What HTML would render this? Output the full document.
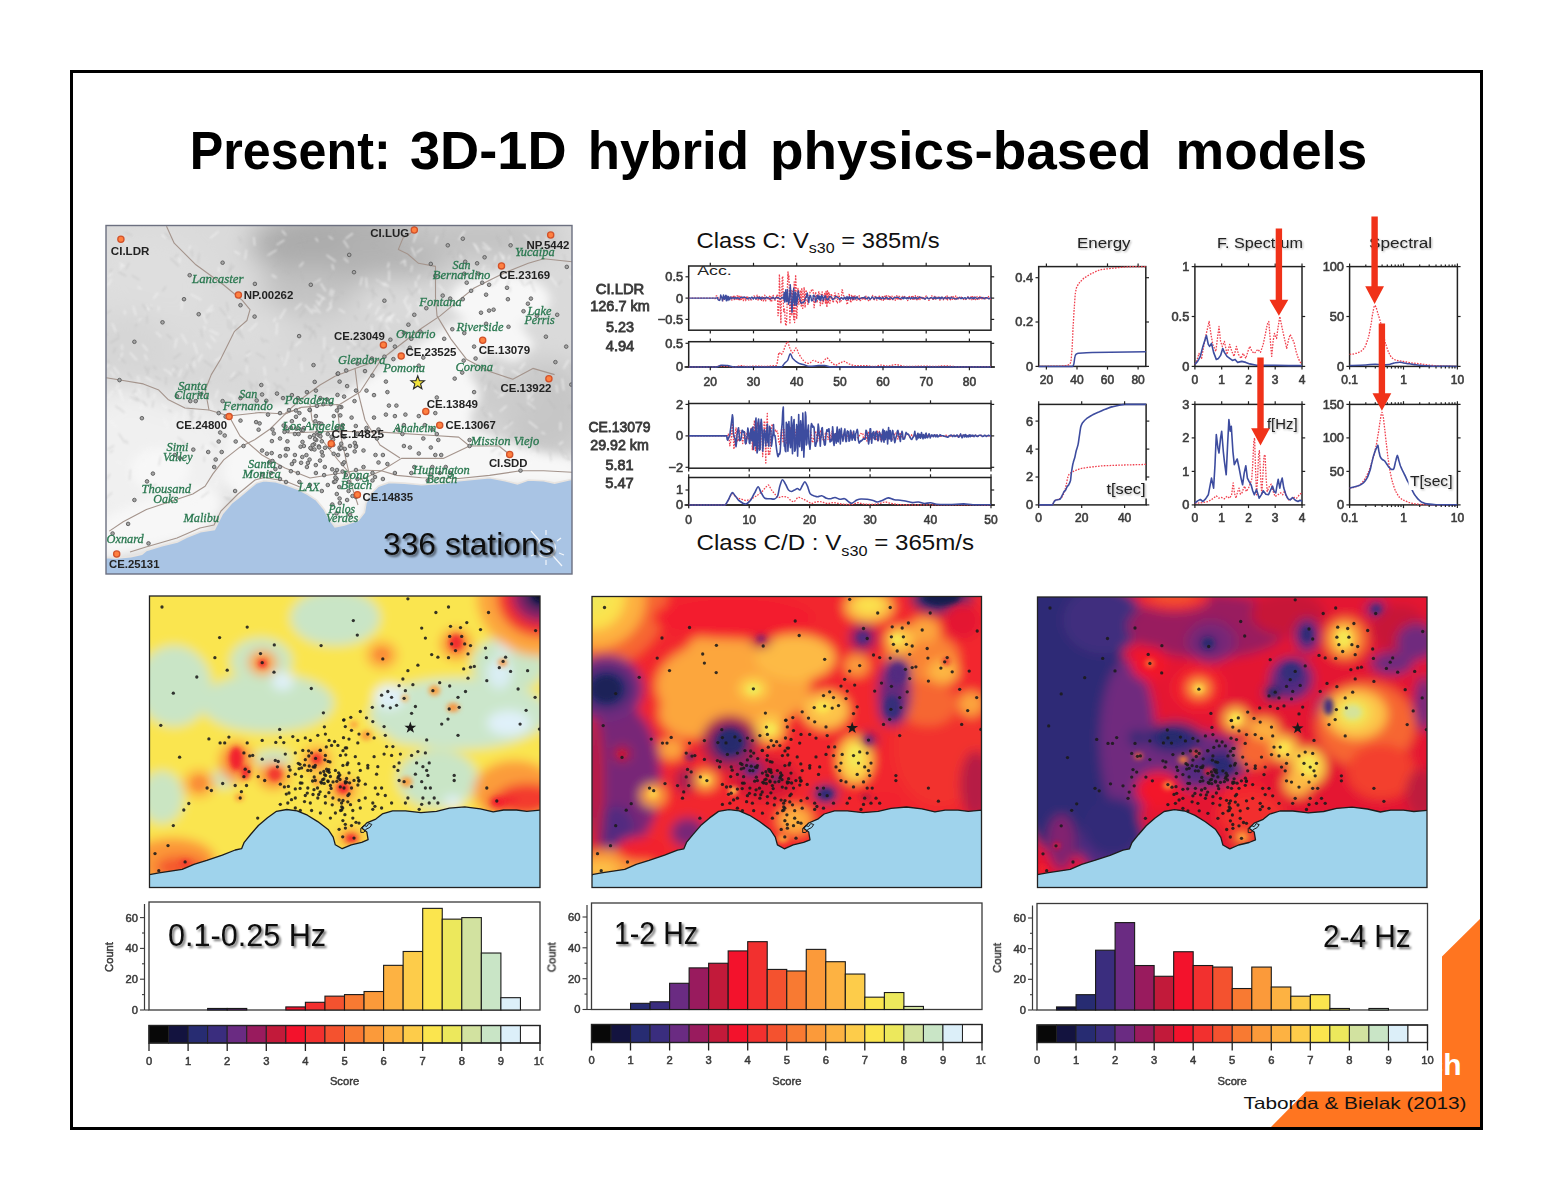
<!DOCTYPE html>
<html lang="en"><head><meta charset="utf-8"><title>Present: 3D-1D hybrid physics-based models</title>
<style>html,body{margin:0;padding:0;background:#fff}body{width:1552px;height:1199px;overflow:hidden;font-family:"Liberation Sans",sans-serif}svg{display:block}</style>
</head><body>
<svg width="1552" height="1199" viewBox="0 0 1552 1199">
<defs>
<filter id="tsh" x="-10%" y="-30%" width="120%" height="170%"><feGaussianBlur in="SourceAlpha" stdDeviation="1.2" result="b"/><feOffset in="b" dx="1.5" dy="2" result="o"/><feComponentTransfer in="o" result="s"><feFuncA type="linear" slope="0.55"/></feComponentTransfer><feMerge><feMergeNode in="s"/><feMergeNode in="SourceGraphic"/></feMerge></filter>
<filter id="tsh2" x="-10%" y="-30%" width="120%" height="170%"><feGaussianBlur in="SourceAlpha" stdDeviation="0.9" result="b"/><feOffset in="b" dx="1" dy="1.2" result="o"/><feComponentTransfer in="o" result="s"><feFuncA type="linear" slope="0.35"/></feComponentTransfer><feMerge><feMergeNode in="s"/><feMergeNode in="SourceGraphic"/></feMerge></filter>
<filter id="soft" x="-5%" y="-5%" width="110%" height="110%"><feGaussianBlur stdDeviation="0.45"/></filter>
<filter id="soft2" x="-5%" y="-5%" width="110%" height="110%"><feGaussianBlur stdDeviation="0.3"/></filter>
</defs>
<rect x="0" y="0" width="1552" height="1199" fill="#fff"/>
<polygon points="1481,918 1442,956.5 1442,1091.5 1306,1091.5 1271,1127 1481,1127" fill="#ff7520"/>
<clipPath id="chclip"><rect x="1442" y="1040" width="40" height="45"/></clipPath>
<text x="1461.5" y="1075.0" font-size="30" fill="#fff" text-anchor="end" font-family='"Liberation Sans", sans-serif' font-weight="bold" clip-path="url(#chclip)">Caltech</text>
<rect x="71.5" y="71.5" width="1410" height="1057" fill="none" stroke="#000" stroke-width="3"/>
<text x="189.7" y="169.2" font-size="53.5" fill="#000" text-anchor="start" font-family='"Liberation Sans", sans-serif' font-weight="bold" textLength="201.0" lengthAdjust="spacingAndGlyphs" >Present:</text>
<text x="410.0" y="169.2" font-size="53.5" fill="#000" text-anchor="start" font-family='"Liberation Sans", sans-serif' font-weight="bold" textLength="156.5" lengthAdjust="spacingAndGlyphs" >3D-1D</text>
<text x="587.8" y="169.2" font-size="53.5" fill="#000" text-anchor="start" font-family='"Liberation Sans", sans-serif' font-weight="bold" textLength="161.2" lengthAdjust="spacingAndGlyphs" >hybrid</text>
<text x="770.0" y="169.2" font-size="53.5" fill="#000" text-anchor="start" font-family='"Liberation Sans", sans-serif' font-weight="bold" textLength="381.5" lengthAdjust="spacingAndGlyphs" >physics-based</text>
<text x="1175.5" y="169.2" font-size="53.5" fill="#000" text-anchor="start" font-family='"Liberation Sans", sans-serif' font-weight="bold" textLength="191.8" lengthAdjust="spacingAndGlyphs" >models</text>
<text x="1243.5" y="1108.5" font-size="16.5" fill="#111" text-anchor="start" font-family='"Liberation Sans", sans-serif' textLength="223.0" lengthAdjust="spacingAndGlyphs" >Taborda &amp; Bielak (2013)</text>
<clipPath id="mclip"><rect x="106" y="225.5" width="466" height="348.5"/></clipPath>
<filter id="mb1" filterUnits="userSpaceOnUse" x="46" y="165.5" width="586" height="468.5"><feGaussianBlur stdDeviation="13"/></filter>
<filter id="mb2" filterUnits="userSpaceOnUse" x="46" y="165.5" width="586" height="468.5"><feGaussianBlur stdDeviation="5"/></filter>
<filter id="mb3" filterUnits="userSpaceOnUse" x="46" y="165.5" width="586" height="468.5"><feGaussianBlur stdDeviation="0.9"/></filter>
<g clip-path="url(#mclip)">
<rect x="106" y="225.5" width="466" height="348.5" fill="#dadada"/>
<g filter="url(#mb1)">
<ellipse cx="340" cy="244" rx="90" ry="36" fill="#acacac"/>
<ellipse cx="400" cy="248" rx="60" ry="30" fill="#b2b2b2"/>
<ellipse cx="310" cy="290" rx="50" ry="24" fill="#c2c2c2"/>
<ellipse cx="480" cy="238" rx="80" ry="22" fill="#c2c2c2"/>
<ellipse cx="545" cy="410" rx="45" ry="50" fill="#c6c6c6"/>
<ellipse cx="500" cy="395" rx="40" ry="25" fill="#cccccc"/>
<ellipse cx="150" cy="460" rx="90" ry="80" fill="#f0f0f0"/>
<ellipse cx="150" cy="280" rx="60" ry="50" fill="#dedede"/>
<ellipse cx="330" cy="335" rx="90" ry="22" fill="#d6d6d6"/>
<ellipse cx="230" cy="330" rx="60" ry="30" fill="#dcdcdc"/>
<ellipse cx="550" cy="300" rx="40" ry="40" fill="#dadada"/>
<ellipse cx="130" cy="350" rx="40" ry="40" fill="#d6d6d6"/>
<ellipse cx="200" cy="380" rx="60" ry="25" fill="#d8d8d8"/>
</g>
<g filter="url(#mb2)" fill="#f7f7f7">
<polygon points="228,418 262,408 300,400 340,396 380,370 420,343 455,322 490,318 520,325 535,345 515,362 490,352 470,368 468,400 472,428 500,440 540,452 575,458 575,486 480,484 368,502 362,528 325,524 300,494 266,484 240,500 222,478 226,446"/>
<ellipse cx="258" cy="422" rx="42" ry="14"/>
<polygon points="100,518 150,498 196,486 214,490 222,505 205,532 150,548 100,560"/>
<ellipse cx="500" cy="300" rx="50" ry="26"/><ellipse cx="160" cy="470" rx="30" ry="22"/>
<ellipse cx="430" cy="395" rx="50" ry="30"/><ellipse cx="545" cy="470" rx="40" ry="10"/>
</g>
<path d="M138.0 375.9l1.1 9.0 M204.0 326.0l1.4 3.8 M151.1 304.7l-5.3 10.8 M202.5 312.7l4.1 10.9 M193.9 360.7l0.7 6.7 M257.4 322.9l-8.4 8.2 M129.8 352.4l7.1 7.9 M193.6 342.4l3.8 11.4 M202.2 354.1l-3.8 7.5 M141.1 318.7l-5.2 4.4 M118.7 389.5l3.5 9.6 M185.0 408.8l-1.5 11.6 M276.0 317.9l-2.6 3.8 M156.0 331.9l5.3 5.1 M250.7 352.7l-4.9 3.6 M268.6 387.5l-1.7 10.9 M209.7 330.4l9.3 4.2 M230.9 393.7l4.9 7.1 M124.4 310.3l0.8 4.1 M210.5 335.7l5.0 6.1 M212.7 305.1l-6.6 7.1 M118.3 384.0l-2.1 5.0 M181.4 334.0l5.6 9.7 M222.6 355.9l-8.1 5.7 M118.4 389.6l4.5 10.9 M120.2 389.6l1.9 9.9 M206.4 342.8l4.5 5.6 M264.6 379.6l4.6 6.1 M122.6 352.8l-3.1 7.3 M235.6 394.5l-3.1 9.1 M266.0 406.0l10.9 4.8 M213.3 308.7l-5.0 4.0 M242.6 322.6l-1.6 6.5 M155.3 393.0l-1.7 4.9 M288.5 351.4l-1.4 7.4 M142.6 405.7l-2.5 3.5 M113.6 366.9l5.8 7.7 M194.1 398.4l5.3 4.5 M142.4 344.3l5.3 6.6 M109.4 364.0l-3.4 3.2 M264.1 366.7l1.2 8.9 M163.8 369.0l9.4 5.9 M158.4 306.5l0.4 4.3 M286.6 359.2l-2.5 6.8 M147.5 304.5l-0.0 6.8 M137.4 393.6l-7.7 7.1 M209.5 399.9l3.6 11.2 M174.3 367.5l-4.2 7.8 M277.0 322.8l-0.6 12.0 M122.1 344.6l-0.1 5.4 M188.1 363.8l-1.2 4.0 M279.6 356.5l3.0 4.0 M232.3 327.8l2.5 7.0 M112.9 390.5l-4.9 7.2 M182.4 300.4l-1.0 9.3 M248.4 389.4l6.8 3.9 M181.6 369.1l-3.0 8.2 M257.7 387.2l7.6 8.5 M228.9 316.1l5.9 8.9 M202.5 378.4l-1.9 5.4 M133.4 306.4l2.5 9.2 M246.6 365.4l0.5 7.5 M177.0 338.1l-2.3 9.8 M109.9 370.8l4.8 5.9 M138.0 387.9l2.9 6.0 M227.1 393.2l4.6 3.5 M145.4 377.0l6.9 4.6 M217.9 390.0l-2.3 7.8 M175.4 386.3l0.3 4.3 M285.7 308.8l-6.0 10.1 M234.8 372.2l-4.0 5.9 M259.8 382.9l2.5 4.6 M178.6 395.2l-2.5 7.0 M144.5 354.4l2.8 5.8 M112.2 323.6l4.6 10.0 M385.7 324.9l3.7 6.0 M332.7 355.8l8.1 7.1 M404.3 300.9l5.2 10.8 M371.4 303.2l-3.3 5.1 M406.2 350.0l0.9 11.8 M346.0 336.4l4.9 4.0 M349.1 344.9l-1.0 4.3 M382.6 315.1l-3.0 6.5 M417.3 301.9l4.2 8.0 M411.7 310.0l-5.3 7.3 M311.7 309.4l5.1 2.5 M400.4 352.0l6.4 6.3 M322.9 298.4l-3.9 6.0 M331.8 305.9l-5.1 5.4 M349.9 338.9l7.1 7.5 M301.0 340.7l-5.8 5.3 M383.9 282.6l4.9 4.2 M415.5 317.5l3.1 8.0 M314.2 305.4l6.3 7.9 M330.8 302.2l-0.1 6.8 M316.3 300.4l3.4 5.8 M379.2 306.8l-4.0 8.0 M324.3 337.1l0.1 11.8 M387.5 316.0l4.8 6.7 M305.0 304.9l7.8 8.8 M416.1 346.4l1.3 5.7 M380.0 316.7l2.1 3.6 M411.1 333.5l1.0 10.8 M338.6 309.0l6.4 3.7 M333.5 347.7l-2.9 5.0 M301.0 361.3l1.2 10.7 M396.7 319.4l3.1 3.0 M342.5 361.8l-2.0 6.4 M333.8 289.8l-1.9 6.8 M384.6 314.2l-8.3 5.6 M331.5 288.6l-1.9 6.9 M343.5 334.8l-2.4 3.7 M393.4 316.3l-7.8 6.7 M407.6 296.1l-3.7 5.8 M301.7 303.3l-6.8 6.3 M332.8 299.3l-3.2 5.2 M371.7 325.0l0.5 11.7 M394.5 313.9l-9.5 6.9 M316.8 294.3l8.6 4.8 M410.5 303.9l-0.5 4.7 M543.4 241.6l2.5 7.5 M404.3 260.5l-4.1 2.9 M522.1 284.2l4.7 7.2 M523.7 234.4l6.3 6.1 M489.9 276.6l6.7 9.8 M481.6 276.2l0.6 6.0 M437.3 236.0l-2.0 7.6 M482.6 242.6l8.6 7.4 M438.5 285.0l6.0 6.8 M422.4 248.3l-5.9 4.4 M431.6 280.3l-0.3 6.7 M499.4 252.1l4.2 8.1 M537.5 236.0l1.6 9.2 M511.0 235.5l0.4 11.0 M473.3 243.0l6.0 9.8 M411.5 247.4l3.9 9.0 M483.3 278.0l-6.7 4.5 M464.8 230.9l-6.3 9.1 M481.4 288.8l1.5 4.4 M464.3 269.3l-1.5 10.3 M419.7 274.9l-2.1 4.9 M412.3 265.3l-1.4 7.0 M484.4 265.2l-1.7 4.8 M570.7 262.2l3.7 8.4 M570.2 276.4l3.4 3.4 M496.1 254.9l-1.5 6.3 M509.6 255.4l-1.2 4.5 M415.5 281.0l0.7 6.5 M545.7 235.8l1.8 8.2 M459.8 254.4l1.9 4.4 M503.2 254.6l0.9 4.9 M474.7 244.2l3.7 5.9 M482.5 246.8l6.8 4.0 M471.4 267.9l-0.2 6.2 M550.5 276.9l7.3 9.4 M564.8 455.4l5.1 9.1 M486.0 360.4l5.0 10.9 M528.7 421.2l8.9 7.1 M512.8 421.9l-9.2 7.0 M556.3 384.7l1.1 8.1 M563.1 441.6l-4.2 3.0 M525.0 363.0l-5.5 6.5 M513.0 382.9l-6.5 4.7 M533.4 398.4l-2.7 3.0 M504.8 393.1l-6.9 4.6 M541.4 432.2l3.6 1.8 M489.3 412.7l2.2 4.4 M500.4 366.6l3.3 2.7 M534.1 390.5l-6.7 9.7 M560.4 421.9l-0.0 8.5 M500.4 368.6l2.3 9.4 M527.1 402.3l8.0 6.6 M529.9 458.5l-4.0 2.7 M568.6 360.1l-5.2 8.6 M528.0 389.8l0.1 9.3 M505.9 449.9l1.4 8.7 M534.2 452.5l-3.3 10.7 M530.9 446.7l-5.2 9.8 M494.5 390.0l8.2 6.4 M506.7 405.7l-6.8 5.8 M562.2 378.6l1.6 11.7 M522.3 438.9l2.9 5.3 M511.5 370.4l9.3 5.2 M486.5 385.2l-2.2 5.7 M495.2 366.3l-5.6 4.6 M162.0 404.5l6.8 4.9 M164.9 482.1l1.7 5.3 M229.4 481.9l10.5 5.1 M142.2 455.0l2.6 10.7 M164.0 418.5l4.1 10.1 M189.7 495.2l2.3 8.7 M117.1 461.3l4.4 2.6 M225.1 494.2l3.6 3.0 M194.3 409.7l3.5 3.3 M217.2 478.7l-1.1 6.9 M169.8 485.2l2.3 3.5 M195.0 499.6l1.4 5.3 M204.5 444.7l5.4 4.5 M150.4 447.6l-7.6 6.9 M172.8 481.9l2.5 4.9 M189.1 491.8l1.2 5.5 M109.3 420.3l7.5 7.0 M155.2 487.9l-0.5 10.6 M179.2 420.1l-3.3 9.3 M177.4 494.3l3.6 7.3 M212.9 453.6l-3.7 4.2 M177.5 412.2l-4.6 9.9 M223.6 453.8l-1.1 3.9 M205.6 447.4l3.2 3.1 M202.3 445.3l7.6 3.7 M328.6 236.3l4.5 3.0 M366.1 277.4l0.7 10.3 M343.8 257.9l4.5 4.4 M362.1 277.2l-1.8 8.1 M388.9 262.5l-1.1 5.4 M419.1 287.5l0.7 6.4 M320.8 279.0l-7.1 4.5 M284.4 240.0l-7.7 4.9 M271.7 274.9l4.9 3.0 M253.9 237.0l0.7 8.8 M404.8 259.2l0.4 6.9 M234.3 251.1l5.7 3.3 M343.5 240.4l5.0 7.6 M417.3 231.4l-4.0 11.1 M326.5 255.0l9.1 6.5 M246.4 249.7l-1.3 9.6 M282.0 230.5l4.1 4.8 M331.9 264.2l1.8 5.6 M320.8 283.4l5.0 7.9 M389.1 270.5l0.0 10.6 M315.5 237.9l2.5 3.8 M303.5 262.1l-4.0 4.6 M376.5 279.5l9.2 6.8 M352.9 233.4l-7.5 5.3 M276.9 249.7l-9.4 5.8 M161.8 234.7l3.6 3.2 M111.3 279.3l-3.6 6.8 M190.3 245.3l-1.0 4.6 M121.7 239.6l6.2 4.6 M137.6 286.4l3.6 2.8 M157.8 293.0l-4.4 5.6 M179.5 257.6l0.1 5.2 M219.0 267.3l-0.3 4.8 M218.8 231.3l-8.6 6.9 M121.5 263.8l-0.8 5.6 M190.9 294.3l10.5 5.7 M112.1 272.6l-3.3 3.8 M120.1 262.7l5.3 4.8" stroke="#f6f6f6" stroke-width="1.3" fill="none" filter="url(#mb3)" opacity="0.75"/>
<path d="M147.9 387.2l0.5 10.5 M219.6 307.6l6.3 8.2 M275.8 367.7l1.8 3.9 M136.0 389.9l-3.8 3.2 M142.3 304.1l6.6 8.7 M252.4 383.9l-3.6 7.8 M285.1 397.6l2.6 6.8 M111.2 310.3l-8.3 5.2 M149.1 367.0l-1.7 8.3 M173.2 365.7l5.2 3.8 M238.6 374.3l-9.0 6.6 M277.3 354.0l4.1 5.7 M256.1 353.1l9.3 5.3 M119.5 337.2l-9.4 6.1 M208.0 380.1l2.7 3.2 M188.7 363.9l5.1 9.5 M238.9 404.9l-0.6 4.1 M184.7 405.5l8.6 7.2 M133.3 395.4l7.2 5.8 M138.2 320.2l-2.7 6.5 M256.2 387.0l0.6 4.0 M155.1 376.6l5.7 3.1 M203.6 360.4l9.5 6.7 M166.2 376.9l-0.5 8.2 M167.7 409.3l4.1 2.6 M226.5 302.2l1.8 9.0 M115.5 347.7l-2.2 5.6 M180.8 353.5l-7.4 5.3 M278.8 385.7l-4.3 7.9 M153.6 400.8l-1.3 7.0 M166.6 334.3l5.4 4.7 M250.0 350.9l-3.9 2.9 M238.2 328.7l5.2 10.4 M144.8 365.8l2.1 5.9 M160.4 319.2l3.8 6.0 M287.3 377.5l0.3 4.1 M107.5 359.9l2.2 4.2 M259.6 390.5l7.2 4.0 M261.7 392.8l-8.0 8.2 M250.9 383.5l4.7 2.8 M261.2 337.2l2.4 5.7 M119.1 356.3l6.4 6.9 M238.1 371.8l4.3 3.1 M247.2 357.7l-2.8 3.7 M227.9 319.2l0.8 9.6 M237.8 323.9l-7.4 7.0 M288.7 403.0l9.4 4.3 M231.5 317.8l-0.1 11.4 M256.5 381.4l4.0 10.3 M264.1 339.8l4.5 2.2 M146.9 311.8l0.2 11.4 M188.3 370.5l-4.7 9.0 M201.0 329.2l1.3 8.2 M248.9 380.4l4.0 11.3 M217.8 409.7l3.5 4.4 M177.9 390.9l1.2 7.9 M273.9 382.6l4.1 5.7 M270.5 398.0l2.2 4.1 M238.4 332.5l3.8 4.3 M171.0 371.4l4.7 5.1 M129.9 396.9l8.3 4.0 M292.7 341.1l-2.1 8.9 M194.6 356.5l-3.1 4.9 M219.8 364.1l0.4 4.7 M147.8 305.3l4.1 3.7 M209.7 312.7l-3.5 6.3 M153.1 365.9l3.2 3.6 M107.8 333.3l-4.9 4.4 M278.9 384.8l6.0 6.2 M245.6 358.4l2.2 4.8 M116.4 331.6l2.1 4.2 M127.8 372.8l4.6 6.0 M227.8 352.1l3.1 7.9 M142.2 400.5l4.9 5.5 M235.4 325.4l1.7 9.1 M367.3 350.7l1.1 9.5 M378.3 345.6l-7.7 5.5 M339.4 363.0l1.6 5.1 M369.6 343.2l-7.0 7.6 M381.2 323.7l-3.1 11.3 M340.2 291.6l3.3 2.3 M304.5 323.4l1.2 6.3 M305.1 309.7l-5.9 7.6 M381.2 351.9l2.0 4.7 M326.2 346.6l1.6 3.7 M394.4 294.7l-0.4 8.6 M388.9 288.3l5.4 10.1 M401.1 343.4l5.8 7.9 M419.5 287.1l-8.8 7.7 M370.1 363.4l-8.2 7.4 M311.7 326.6l-2.8 4.1 M372.6 333.5l-3.6 2.7 M368.8 313.9l-3.5 6.7 M298.9 357.5l1.4 5.1 M305.1 325.3l3.7 2.4 M398.8 335.9l-3.9 6.7 M359.5 344.0l-6.9 5.8 M407.7 288.0l5.4 8.1 M323.4 353.6l-1.9 8.9 M359.9 339.2l-0.4 8.1 M344.6 338.1l5.3 7.8 M339.0 296.7l-7.9 5.0 M366.3 356.0l1.6 4.2 M378.3 361.3l4.1 4.2 M312.5 330.6l-3.0 9.3 M401.7 331.1l1.6 5.1 M314.2 329.8l1.7 9.0 M316.6 323.7l4.3 3.3 M361.4 347.6l6.5 4.3 M358.1 301.3l0.5 6.8 M396.1 344.7l-6.2 9.2 M382.0 302.5l4.2 6.5 M391.1 312.3l-5.3 4.1 M388.3 304.1l-6.1 4.4 M413.1 319.9l-8.5 5.8 M308.1 326.5l7.6 8.5 M353.8 356.8l7.5 6.6 M354.1 315.4l3.1 4.9 M367.8 330.8l-0.8 9.9 M325.0 364.0l-3.8 10.7 M459.4 249.9l-2.1 7.5 M494.9 263.7l-2.4 6.1 M508.1 229.2l4.7 8.8 M406.3 242.9l3.4 10.3 M519.4 276.0l4.1 9.5 M509.0 280.5l-1.7 5.7 M510.1 286.7l0.0 5.3 M444.8 228.6l-2.5 8.8 M562.0 280.6l-4.4 4.8 M451.4 250.7l-3.3 4.6 M550.8 243.1l-1.9 8.0 M426.7 226.6l-0.8 8.8 M490.3 279.2l1.7 8.0 M407.3 256.8l-9.6 6.4 M403.1 241.8l-2.4 7.4 M430.2 271.5l-2.6 7.0 M539.9 272.2l-1.3 7.8 M531.9 281.0l-7.2 4.4 M498.2 278.4l-4.4 6.9 M403.6 268.0l1.9 3.5 M412.4 239.2l-7.3 6.2 M413.3 227.1l-3.3 3.3 M555.0 238.7l-6.6 7.9 M534.3 245.9l-1.9 8.8 M461.4 251.4l5.5 8.0 M474.7 288.7l-3.6 3.5 M538.2 248.4l0.0 9.7 M531.0 282.1l3.8 10.1 M549.0 272.2l-5.3 7.6 M434.3 272.8l-3.8 3.4 M497.0 235.2l4.3 11.0 M546.9 230.6l-1.0 6.8 M452.9 253.9l2.3 9.9 M433.5 265.5l-2.2 8.0 M564.1 254.5l1.2 6.8 M490.9 380.4l-3.4 8.7 M483.8 406.5l-2.8 3.9 M499.8 438.7l1.8 8.7 M564.4 457.8l4.5 2.3 M569.6 404.3l3.4 3.8 M514.2 432.7l-5.6 6.4 M517.8 442.6l2.8 7.0 M534.3 436.8l1.9 5.1 M491.9 425.9l6.0 10.2 M493.3 384.5l5.9 9.5 M549.8 451.8l1.4 9.5 M483.2 411.5l4.0 6.6 M570.4 363.3l1.6 9.6 M517.2 403.1l8.3 7.7 M534.4 369.1l2.3 5.5 M548.2 399.2l6.8 9.3 M530.2 405.4l5.5 7.1 M568.9 404.8l0.4 4.6 M490.6 420.3l4.2 3.0 M501.1 452.0l-2.3 3.4 M499.9 445.6l-8.8 6.4 M511.2 420.4l-3.9 5.5 M498.7 393.5l2.0 4.3 M564.4 452.2l6.1 8.1 M481.9 368.6l9.5 4.6 M535.8 442.5l2.7 10.2 M560.1 448.2l4.3 9.7 M496.9 362.4l-6.5 4.0 M512.8 377.4l-6.9 6.6 M485.5 373.8l-4.4 8.0 M115.2 405.7l9.3 6.7 M204.4 456.5l-0.1 5.6 M113.2 450.3l-3.3 2.4 M200.9 415.5l-3.1 6.9 M219.2 431.5l8.3 6.6 M227.6 496.6l6.7 8.2 M174.9 494.4l-3.7 5.0 M224.5 496.5l3.7 3.8 M177.7 437.1l8.0 7.2 M189.9 412.2l2.3 11.2 M109.8 473.7l-2.3 5.3 M203.7 444.4l-1.7 5.1 M156.3 484.0l-5.5 4.1 M210.7 442.2l5.9 4.8 M114.1 445.4l-6.6 4.2 M193.1 407.4l-1.7 8.4 M185.1 442.1l-4.9 5.2 M118.6 433.4l6.5 9.7 M216.4 459.4l-2.7 4.1 M160.9 456.1l-2.1 9.4 M194.2 415.8l-5.0 5.9 M130.5 469.4l-1.0 10.9 M208.9 491.6l-7.9 6.2 M112.1 492.5l-7.7 7.1 M125.9 440.0l2.0 4.0 M316.9 279.6l-2.8 7.0 M238.8 236.8l2.6 5.7 M370.3 289.7l7.3 6.3 M393.8 256.6l6.9 6.7 M386.7 254.5l-2.5 6.0 M301.6 235.1l4.3 7.2 M268.5 237.9l-1.7 4.2 M373.1 287.2l0.1 11.5 M301.0 273.3l2.4 8.7 M333.1 273.5l-5.8 6.3 M277.4 237.2l1.9 9.6 M234.3 265.3l-6.5 8.2 M273.8 247.0l4.1 3.1 M371.0 233.1l6.3 7.0 M231.4 263.4l-2.1 7.9 M290.1 226.5l-3.1 3.1 M333.3 229.1l-2.1 8.1 M372.2 244.3l7.3 7.7 M299.5 244.0l3.6 9.3 M283.6 270.0l6.5 3.7 M411.4 268.8l-0.8 7.4 M380.8 254.4l2.9 7.9 M402.4 240.0l1.3 4.7 M378.0 279.0l2.2 4.8 M280.2 262.0l-7.3 5.0 M165.0 232.8l6.5 7.0 M177.6 254.2l-3.0 3.5 M221.3 281.0l-9.7 6.0 M166.0 286.4l-3.6 4.9 M111.7 268.9l-1.5 3.9 M199.3 253.7l-1.5 10.1 M170.3 258.0l8.5 8.3 M129.3 262.7l-4.0 6.8 M124.8 232.0l6.9 3.5 M131.8 275.3l7.6 4.8 M191.3 249.6l1.2 7.2 M118.6 272.1l7.5 3.8" stroke="#b4b4b4" stroke-width="1.2" fill="none" filter="url(#mb3)" opacity="0.45"/>
<polygon points="106.0,557.4 115.5,558.1 130.9,556.6 141.8,554.3 146.4,550.4 161.9,545.8 177.3,541.9 186.6,537.3 200.5,531.8 214.4,529.5 217.5,523.3 222.2,514.1 231.4,503.2 239.2,497.1 248.4,489.3 256.2,483.1 263.9,480.8 274.7,481.6 285.6,484.7 297.9,489.3 307.2,494.0 316.5,500.2 324.2,509.4 328.9,518.7 335.0,526.8 344.3,524.9 358.2,520.3 364.4,512.5 365.9,503.2 370.6,494.0 378.3,486.2 389.1,482.4 404.6,483.1 421.6,484.7 443.2,483.1 458.7,480.8 474.2,479.3 489.6,477.7 505.1,480.8 517.5,483.9 528.3,480.0 543.7,480.8 554.6,483.1 572.0,479.3 580,580 100,580" fill="#a9c4e4" stroke="#e8e4e0" stroke-width="1.6"/>
<path d="M166.5 226.2 L174.2 243.2 L195.9 264.8 L223.7 285.0 L242.3 300.4 L250.0 309.7 L246.9 320.5 L234.5 331.3 L228.3 343.7 L220.6 359.2 L211.3 374.6 L205.2 390.0 L209.0 410.0 L229.0 416.0" fill="none" stroke="#a4948c" stroke-width="1.1" stroke-linejoin="round"/>
<path d="M106.2 377.7 L120.1 380.0 L143.3 383.9 L158.8 390.1 L168.0 399.4 L185.0 408.0 L209.0 410.0" fill="none" stroke="#a4948c" stroke-width="1.1" stroke-linejoin="round"/>
<path d="M109.3 531.1 L123.2 521.8 L146.4 509.4 L169.6 501.7 L192.8 494.0 L205.1 486.2 L212.9 473.9 L223.7 459.9 L239.2 447.6 L254.6 439.8 L270.1 429.0 L285.6 413.6 L301.0 407.4 L340.0 404.3 L360.0 392.0 L381.4 359.2" fill="none" stroke="#a4948c" stroke-width="1.1" stroke-linejoin="round"/>
<path d="M229.0 416.0 L260.0 412.5 L285.0 414.0 L301.0 407.4" fill="none" stroke="#a4948c" stroke-width="1.1" stroke-linejoin="round"/>
<path d="M335.0 376.2 L355.1 368.4 L381.4 359.2 L401.5 343.7 L421.6 328.2 L440.1 315.9 L458.7 300.4 L474.2 288.0 L489.6 280.3 L505.1 272.6 L528.3 263.3 L543.7 258.7 L572.0 261.7" fill="none" stroke="#a4948c" stroke-width="1.1" stroke-linejoin="round"/>
<path d="M106.0 378.0 L106.0 378.0" fill="none" stroke="#a4948c" stroke-width="1.1" stroke-linejoin="round"/>
<path d="M414.0 231.0 L403.0 238.0 L398.4 249.4 L407.7 254.0 L418.5 263.3 L435.5 266.4 L435.5 297.3 L437.0 315.9 L451.0 339.1 L466.4 359.2 L489.6 371.5 L512.8 379.3 L532.9 368.4 L554.6 374.6" fill="none" stroke="#a4948c" stroke-width="1.1" stroke-linejoin="round"/>
<path d="M288.0 433.0 L335.0 431.3 L381.4 432.1 L434.0 435.5 L458.7 437.1 L469.5 446.0 L443.2 458.4 L401.5 458.4 L381.4 470.8 L360.0 480.0" fill="none" stroke="#a4948c" stroke-width="1.1" stroke-linejoin="round"/>
<path d="M469.5 446.0 L498.9 446.0 L509.7 454.5" fill="none" stroke="#a4948c" stroke-width="1.1" stroke-linejoin="round"/>
<path d="M381.4 470.8 L396.9 475.4 L421.6 477.7 L458.7 478.5 L489.6 475.4 L520.6 470.8 L543.7 470.8 L572.0 472.3" fill="none" stroke="#a4948c" stroke-width="1.1" stroke-linejoin="round"/>
<path d="M229.0 416.0 L240.0 436.0 L262.0 455.0 L285.0 468.0 L310.0 478.0 L335.0 474.0 L360.0 470.0 L381.4 470.8" fill="none" stroke="#a4948c" stroke-width="1.1" stroke-linejoin="round"/>
<path d="M337.0 404.0 L340.0 432.0 L346.0 460.0 L353.0 490.0 L358.0 505.0" fill="none" stroke="#a4948c" stroke-width="1.1" stroke-linejoin="round"/>
<path d="M310.0 404.0 L312.0 420.0 L322.0 440.0 L338.0 460.0 L352.0 476.0" fill="none" stroke="#a4948c" stroke-width="1.1" stroke-linejoin="round"/>
<path d="M335.0 376.2 L320.0 385.0 L300.0 400.0 L285.0 413.6" fill="none" stroke="#a4948c" stroke-width="1.1" stroke-linejoin="round"/>
<path d="M355.0 368.0 L358.0 392.0 L365.0 420.0 L380.0 445.0 L400.0 458.0" fill="none" stroke="#a4948c" stroke-width="1.1" stroke-linejoin="round"/>
<path d="M130.0 552.0 L146.0 547.0 L177.0 538.0 L200.0 528.0 L214.0 525.0 L221.0 511.0 L238.0 494.0 L255.0 480.0 L264.0 477.5 L285.0 481.0 L300.0 487.0" fill="none" stroke="#a4948c" stroke-width="1.1" stroke-linejoin="round"/>
<g fill="#a6a6a6" stroke="#5a5a5a" stroke-width="0.9"><circle cx="121.0" cy="238.7" r="1.8"/><circle cx="222.6" cy="262.7" r="1.8"/><circle cx="189.7" cy="275.2" r="1.8"/><circle cx="254.9" cy="283.9" r="1.8"/><circle cx="310.8" cy="284.8" r="1.8"/><circle cx="184.0" cy="299.2" r="1.8"/><circle cx="238.4" cy="294.4" r="1.8"/><circle cx="240.5" cy="305.2" r="1.8"/><circle cx="198.7" cy="314.2" r="1.8"/><circle cx="254.6" cy="316.6" r="1.8"/><circle cx="162.5" cy="322.3" r="1.8"/><circle cx="134.4" cy="341.8" r="1.8"/><circle cx="299.1" cy="336.1" r="1.8"/><circle cx="313.5" cy="365.1" r="1.8"/><circle cx="119.5" cy="380.1" r="1.8"/><circle cx="337.7" cy="373.8" r="1.8"/><circle cx="314.7" cy="381.9" r="1.8"/><circle cx="176.9" cy="396.3" r="1.8"/><circle cx="200.8" cy="394.2" r="1.8"/><circle cx="190.3" cy="401.1" r="1.8"/><circle cx="195.7" cy="401.1" r="1.8"/><circle cx="222.6" cy="401.1" r="1.8"/><circle cx="240.5" cy="398.1" r="1.8"/><circle cx="256.7" cy="400.5" r="1.8"/><circle cx="262.1" cy="394.5" r="1.8"/><circle cx="141.9" cy="418.2" r="1.8"/><circle cx="218.7" cy="413.1" r="1.8"/><circle cx="225.6" cy="416.7" r="1.8"/><circle cx="229.2" cy="416.1" r="1.8"/><circle cx="240.5" cy="420.6" r="1.8"/><circle cx="256.1" cy="422.1" r="1.8"/><circle cx="268.0" cy="414.6" r="1.8"/><circle cx="220.2" cy="432.5" r="1.8"/><circle cx="224.7" cy="435.5" r="1.8"/><circle cx="218.7" cy="441.5" r="1.8"/><circle cx="235.7" cy="441.5" r="1.8"/><circle cx="243.5" cy="446.0" r="1.8"/><circle cx="262.1" cy="450.5" r="1.8"/><circle cx="193.3" cy="449.6" r="1.8"/><circle cx="174.8" cy="455.0" r="1.8"/><circle cx="179.8" cy="458.0" r="1.8"/><circle cx="208.2" cy="452.0" r="1.8"/><circle cx="221.7" cy="452.0" r="1.8"/><circle cx="215.7" cy="459.5" r="1.8"/><circle cx="214.2" cy="467.0" r="1.8"/><circle cx="152.9" cy="473.6" r="1.8"/><circle cx="147.0" cy="481.4" r="1.8"/><circle cx="134.4" cy="500.0" r="1.8"/><circle cx="235.1" cy="491.0" r="1.8"/><circle cx="128.1" cy="523.9" r="1.8"/><circle cx="112.6" cy="533.5" r="1.8"/><circle cx="148.5" cy="543.4" r="1.8"/><circle cx="117.1" cy="553.9" r="1.8"/><circle cx="277.0" cy="393.6" r="1.8"/><circle cx="283.0" cy="398.1" r="1.8"/><circle cx="291.9" cy="395.1" r="1.8"/><circle cx="297.9" cy="398.1" r="1.8"/><circle cx="306.9" cy="392.1" r="1.8"/><circle cx="315.9" cy="390.6" r="1.8"/><circle cx="320.3" cy="398.1" r="1.8"/><circle cx="323.3" cy="404.1" r="1.8"/><circle cx="330.8" cy="404.1" r="1.8"/><circle cx="341.3" cy="407.1" r="1.8"/><circle cx="280.0" cy="413.1" r="1.8"/><circle cx="289.0" cy="410.1" r="1.8"/><circle cx="299.4" cy="413.1" r="1.8"/><circle cx="309.9" cy="410.1" r="1.8"/><circle cx="315.9" cy="416.1" r="1.8"/><circle cx="333.8" cy="416.1" r="1.8"/><circle cx="272.5" cy="429.5" r="1.8"/><circle cx="280.0" cy="438.5" r="1.8"/><circle cx="287.5" cy="431.0" r="1.8"/><circle cx="294.9" cy="434.0" r="1.8"/><circle cx="303.9" cy="428.1" r="1.8"/><circle cx="309.9" cy="437.0" r="1.8"/><circle cx="317.4" cy="432.5" r="1.8"/><circle cx="327.8" cy="434.0" r="1.8"/><circle cx="336.8" cy="428.1" r="1.8"/><circle cx="286.0" cy="449.0" r="1.8"/><circle cx="294.9" cy="455.0" r="1.8"/><circle cx="303.9" cy="446.0" r="1.8"/><circle cx="311.4" cy="449.0" r="1.8"/><circle cx="321.8" cy="452.0" r="1.8"/><circle cx="330.8" cy="443.0" r="1.8"/><circle cx="339.8" cy="449.0" r="1.8"/><circle cx="272.5" cy="461.0" r="1.8"/><circle cx="280.0" cy="467.0" r="1.8"/><circle cx="291.9" cy="464.0" r="1.8"/><circle cx="297.9" cy="473.0" r="1.8"/><circle cx="306.9" cy="467.0" r="1.8"/><circle cx="315.9" cy="473.0" r="1.8"/><circle cx="324.8" cy="467.0" r="1.8"/><circle cx="335.3" cy="473.0" r="1.8"/><circle cx="342.8" cy="464.0" r="1.8"/><circle cx="262.1" cy="474.5" r="1.8"/><circle cx="271.0" cy="473.0" r="1.8"/><circle cx="280.0" cy="479.0" r="1.8"/><circle cx="286.0" cy="482.0" r="1.8"/><circle cx="299.4" cy="482.0" r="1.8"/><circle cx="309.9" cy="485.0" r="1.8"/><circle cx="321.8" cy="491.0" r="1.8"/><circle cx="327.8" cy="485.0" r="1.8"/><circle cx="336.8" cy="494.0" r="1.8"/><circle cx="339.8" cy="503.0" r="1.8"/><circle cx="332.3" cy="504.5" r="1.8"/><circle cx="414.3" cy="228.8" r="1.8"/><circle cx="462.8" cy="238.7" r="1.8"/><circle cx="447.8" cy="245.3" r="1.8"/><circle cx="510.6" cy="245.3" r="1.8"/><circle cx="349.2" cy="254.9" r="1.8"/><circle cx="354.0" cy="272.2" r="1.8"/><circle cx="430.8" cy="263.9" r="1.8"/><circle cx="435.3" cy="275.8" r="1.8"/><circle cx="465.2" cy="261.8" r="1.8"/><circle cx="477.1" cy="263.3" r="1.8"/><circle cx="484.6" cy="257.3" r="1.8"/><circle cx="501.0" cy="265.7" r="1.8"/><circle cx="566.8" cy="266.9" r="1.8"/><circle cx="464.3" cy="273.7" r="1.8"/><circle cx="478.6" cy="273.7" r="1.8"/><circle cx="466.7" cy="282.7" r="1.8"/><circle cx="482.2" cy="282.7" r="1.8"/><circle cx="489.1" cy="284.8" r="1.8"/><circle cx="471.1" cy="290.8" r="1.8"/><circle cx="442.7" cy="295.6" r="1.8"/><circle cx="450.2" cy="298.6" r="1.8"/><circle cx="462.8" cy="299.2" r="1.8"/><circle cx="486.1" cy="294.7" r="1.8"/><circle cx="507.0" cy="287.8" r="1.8"/><circle cx="507.9" cy="299.2" r="1.8"/><circle cx="384.4" cy="300.7" r="1.8"/><circle cx="426.3" cy="308.2" r="1.8"/><circle cx="530.9" cy="298.6" r="1.8"/><circle cx="527.9" cy="303.7" r="1.8"/><circle cx="523.5" cy="311.2" r="1.8"/><circle cx="536.9" cy="315.7" r="1.8"/><circle cx="557.2" cy="314.8" r="1.8"/><circle cx="414.3" cy="314.8" r="1.8"/><circle cx="481.0" cy="312.7" r="1.8"/><circle cx="489.1" cy="310.6" r="1.8"/><circle cx="493.6" cy="309.7" r="1.8"/><circle cx="408.4" cy="324.7" r="1.8"/><circle cx="486.1" cy="323.8" r="1.8"/><circle cx="508.5" cy="326.8" r="1.8"/><circle cx="403.9" cy="332.8" r="1.8"/><circle cx="420.3" cy="331.6" r="1.8"/><circle cx="452.3" cy="329.2" r="1.8"/><circle cx="464.3" cy="333.1" r="1.8"/><circle cx="444.2" cy="338.8" r="1.8"/><circle cx="483.1" cy="339.7" r="1.8"/><circle cx="545.9" cy="336.7" r="1.8"/><circle cx="390.4" cy="339.7" r="1.8"/><circle cx="382.9" cy="344.2" r="1.8"/><circle cx="394.9" cy="346.6" r="1.8"/><circle cx="411.3" cy="338.8" r="1.8"/><circle cx="409.9" cy="347.8" r="1.8"/><circle cx="474.1" cy="346.6" r="1.8"/><circle cx="566.2" cy="346.6" r="1.8"/><circle cx="371.9" cy="358.5" r="1.8"/><circle cx="384.4" cy="356.7" r="1.8"/><circle cx="393.4" cy="359.1" r="1.8"/><circle cx="400.9" cy="356.1" r="1.8"/><circle cx="423.3" cy="357.6" r="1.8"/><circle cx="463.7" cy="360.6" r="1.8"/><circle cx="475.6" cy="358.5" r="1.8"/><circle cx="555.4" cy="362.1" r="1.8"/><circle cx="357.5" cy="363.6" r="1.8"/><circle cx="418.8" cy="365.7" r="1.8"/><circle cx="338.1" cy="373.5" r="1.8"/><circle cx="346.2" cy="370.5" r="1.8"/><circle cx="365.0" cy="371.1" r="1.8"/><circle cx="372.5" cy="375.6" r="1.8"/><circle cx="462.2" cy="372.6" r="1.8"/><circle cx="454.7" cy="378.6" r="1.8"/><circle cx="548.3" cy="378.6" r="1.8"/><circle cx="571.3" cy="384.6" r="1.8"/><circle cx="474.1" cy="392.1" r="1.8"/><circle cx="436.8" cy="397.5" r="1.8"/><circle cx="339.6" cy="381.6" r="1.8"/><circle cx="347.1" cy="386.1" r="1.8"/><circle cx="356.0" cy="390.6" r="1.8"/><circle cx="366.5" cy="390.6" r="1.8"/><circle cx="374.0" cy="395.1" r="1.8"/><circle cx="385.9" cy="381.6" r="1.8"/><circle cx="387.4" cy="392.1" r="1.8"/><circle cx="344.1" cy="396.6" r="1.8"/><circle cx="354.5" cy="401.1" r="1.8"/><circle cx="388.9" cy="405.6" r="1.8"/><circle cx="396.4" cy="405.6" r="1.8"/><circle cx="426.3" cy="411.6" r="1.8"/><circle cx="435.3" cy="413.1" r="1.8"/><circle cx="339.6" cy="407.1" r="1.8"/><circle cx="351.6" cy="417.6" r="1.8"/><circle cx="374.0" cy="417.6" r="1.8"/><circle cx="385.9" cy="414.6" r="1.8"/><circle cx="394.9" cy="416.1" r="1.8"/><circle cx="405.4" cy="414.6" r="1.8"/><circle cx="418.8" cy="416.1" r="1.8"/><circle cx="439.7" cy="425.1" r="1.8"/><circle cx="342.6" cy="425.1" r="1.8"/><circle cx="357.5" cy="434.0" r="1.8"/><circle cx="366.5" cy="431.0" r="1.8"/><circle cx="378.5" cy="429.5" r="1.8"/><circle cx="397.9" cy="429.5" r="1.8"/><circle cx="403.9" cy="425.1" r="1.8"/><circle cx="424.8" cy="425.1" r="1.8"/><circle cx="432.3" cy="429.5" r="1.8"/><circle cx="436.8" cy="434.0" r="1.8"/><circle cx="344.1" cy="437.0" r="1.8"/><circle cx="377.0" cy="438.5" r="1.8"/><circle cx="402.4" cy="434.0" r="1.8"/><circle cx="423.3" cy="438.5" r="1.8"/><circle cx="438.3" cy="440.0" r="1.8"/><circle cx="469.6" cy="440.0" r="1.8"/><circle cx="469.6" cy="446.0" r="1.8"/><circle cx="339.6" cy="447.5" r="1.8"/><circle cx="356.0" cy="446.0" r="1.8"/><circle cx="363.5" cy="450.5" r="1.8"/><circle cx="403.9" cy="446.0" r="1.8"/><circle cx="409.9" cy="447.5" r="1.8"/><circle cx="418.8" cy="453.5" r="1.8"/><circle cx="430.8" cy="447.5" r="1.8"/><circle cx="435.3" cy="455.0" r="1.8"/><circle cx="441.2" cy="455.0" r="1.8"/><circle cx="338.1" cy="455.0" r="1.8"/><circle cx="347.1" cy="455.0" r="1.8"/><circle cx="375.5" cy="455.0" r="1.8"/><circle cx="382.9" cy="455.0" r="1.8"/><circle cx="387.4" cy="464.0" r="1.8"/><circle cx="378.5" cy="462.5" r="1.8"/><circle cx="414.3" cy="467.0" r="1.8"/><circle cx="432.3" cy="467.0" r="1.8"/><circle cx="445.7" cy="467.0" r="1.8"/><circle cx="450.2" cy="473.0" r="1.8"/><circle cx="439.7" cy="473.0" r="1.8"/><circle cx="430.8" cy="474.5" r="1.8"/><circle cx="411.3" cy="473.0" r="1.8"/><circle cx="394.9" cy="473.0" r="1.8"/><circle cx="372.5" cy="473.0" r="1.8"/><circle cx="363.5" cy="467.0" r="1.8"/><circle cx="356.0" cy="470.0" r="1.8"/><circle cx="342.6" cy="471.5" r="1.8"/><circle cx="336.6" cy="479.0" r="1.8"/><circle cx="348.6" cy="482.0" r="1.8"/><circle cx="357.5" cy="479.0" r="1.8"/><circle cx="372.5" cy="480.5" r="1.8"/><circle cx="382.9" cy="479.0" r="1.8"/><circle cx="427.8" cy="480.5" r="1.8"/><circle cx="508.5" cy="455.0" r="1.8"/><circle cx="520.5" cy="470.6" r="1.8"/><circle cx="348.6" cy="491.0" r="1.8"/><circle cx="339.6" cy="498.5" r="1.8"/><circle cx="356.0" cy="497.0" r="1.8"/><circle cx="347.1" cy="500.0" r="1.8"/><circle cx="336.6" cy="513.4" r="1.8"/><circle cx="350.1" cy="514.9" r="1.8"/><circle cx="300.6" cy="446.7" r="1.8"/><circle cx="301.3" cy="429.9" r="1.8"/><circle cx="284.5" cy="431.9" r="1.8"/><circle cx="333.3" cy="444.9" r="1.8"/><circle cx="331.5" cy="441.3" r="1.8"/><circle cx="316.2" cy="440.0" r="1.8"/><circle cx="266.9" cy="453.7" r="1.8"/><circle cx="318.8" cy="446.4" r="1.8"/><circle cx="266.3" cy="400.8" r="1.8"/><circle cx="285.5" cy="426.7" r="1.8"/><circle cx="314.0" cy="435.3" r="1.8"/><circle cx="319.2" cy="423.2" r="1.8"/><circle cx="314.1" cy="444.3" r="1.8"/><circle cx="290.9" cy="471.2" r="1.8"/><circle cx="320.0" cy="460.6" r="1.8"/><circle cx="291.9" cy="421.2" r="1.8"/><circle cx="298.5" cy="434.1" r="1.8"/><circle cx="321.8" cy="441.3" r="1.8"/><circle cx="296.0" cy="416.8" r="1.8"/><circle cx="294.3" cy="461.1" r="1.8"/><circle cx="287.4" cy="441.3" r="1.8"/><circle cx="316.9" cy="405.9" r="1.8"/><circle cx="307.9" cy="462.9" r="1.8"/><circle cx="258.6" cy="429.7" r="1.8"/><circle cx="304.2" cy="419.6" r="1.8"/><circle cx="318.6" cy="435.0" r="1.8"/><circle cx="271.7" cy="453.1" r="1.8"/><circle cx="322.7" cy="455.5" r="1.8"/><circle cx="341.2" cy="443.7" r="1.8"/><circle cx="309.6" cy="409.8" r="1.8"/><circle cx="321.4" cy="423.8" r="1.8"/><circle cx="295.9" cy="410.5" r="1.8"/><circle cx="283.6" cy="425.5" r="1.8"/><circle cx="337.5" cy="394.9" r="1.8"/><circle cx="271.9" cy="441.1" r="1.8"/><circle cx="341.2" cy="448.1" r="1.8"/><circle cx="261.3" cy="385.0" r="1.8"/><circle cx="315.3" cy="421.3" r="1.8"/><circle cx="280.0" cy="456.2" r="1.8"/><circle cx="333.1" cy="439.5" r="1.8"/><circle cx="312.6" cy="445.1" r="1.8"/><circle cx="344.8" cy="448.9" r="1.8"/><circle cx="319.1" cy="447.4" r="1.8"/><circle cx="269.3" cy="462.4" r="1.8"/><circle cx="329.6" cy="447.1" r="1.8"/><circle cx="259.6" cy="423.4" r="1.8"/><circle cx="326.9" cy="399.4" r="1.8"/><circle cx="302.3" cy="457.0" r="1.8"/><circle cx="275.4" cy="469.1" r="1.8"/><circle cx="319.9" cy="433.2" r="1.8"/><circle cx="314.5" cy="449.5" r="1.8"/><circle cx="309.6" cy="459.6" r="1.8"/><circle cx="290.9" cy="427.8" r="1.8"/><circle cx="331.6" cy="436.8" r="1.8"/><circle cx="285.7" cy="455.5" r="1.8"/><circle cx="341.8" cy="427.2" r="1.8"/><circle cx="273.8" cy="433.5" r="1.8"/><circle cx="303.2" cy="430.2" r="1.8"/><circle cx="340.3" cy="415.4" r="1.8"/><circle cx="336.9" cy="410.5" r="1.8"/><circle cx="287.9" cy="449.1" r="1.8"/><circle cx="333.7" cy="453.8" r="1.8"/><circle cx="315.0" cy="439.2" r="1.8"/><circle cx="310.4" cy="448.0" r="1.8"/><circle cx="302.5" cy="441.9" r="1.8"/><circle cx="320.4" cy="436.3" r="1.8"/><circle cx="325.0" cy="447.8" r="1.8"/><circle cx="354.8" cy="442.9" r="1.8"/><circle cx="296.5" cy="428.7" r="1.8"/><circle cx="306.4" cy="455.1" r="1.8"/><circle cx="335.4" cy="477.5" r="1.8"/><circle cx="366.5" cy="428.0" r="1.8"/><circle cx="324.1" cy="475.1" r="1.8"/><circle cx="345.9" cy="475.0" r="1.8"/><circle cx="334.0" cy="482.0" r="1.8"/><circle cx="344.2" cy="462.3" r="1.8"/><circle cx="375.0" cy="477.0" r="1.8"/><circle cx="332.2" cy="469.3" r="1.8"/><circle cx="337.0" cy="470.0" r="1.8"/><circle cx="301.1" cy="462.8" r="1.8"/><circle cx="354.7" cy="451.4" r="1.8"/><circle cx="339.2" cy="487.0" r="1.8"/><circle cx="352.5" cy="496.0" r="1.8"/><circle cx="315.8" cy="465.1" r="1.8"/><circle cx="335.3" cy="481.5" r="1.8"/><circle cx="355.8" cy="426.0" r="1.8"/><circle cx="355.8" cy="446.7" r="1.8"/><circle cx="350.0" cy="446.0" r="1.8"/></g>
<text x="192.0" y="283.4" font-size="12.4" fill="#2a7850" text-anchor="start" font-family='"Liberation Serif", serif' textLength="51.5" lengthAdjust="spacingAndGlyphs" font-style="italic" stroke="#2a7850" stroke-width="0.3" filter="url(#soft2)">Lancaster</text>
<text x="178.0" y="390.0" font-size="12.4" fill="#2a7850" text-anchor="start" font-family='"Liberation Serif", serif' textLength="29.0" lengthAdjust="spacingAndGlyphs" font-style="italic" stroke="#2a7850" stroke-width="0.3" filter="url(#soft2)">Santa</text>
<text x="174.2" y="398.6" font-size="12.4" fill="#2a7850" text-anchor="start" font-family='"Liberation Serif", serif' textLength="35.0" lengthAdjust="spacingAndGlyphs" font-style="italic" stroke="#2a7850" stroke-width="0.3" filter="url(#soft2)">Clarita</text>
<text x="239.2" y="397.8" font-size="12.4" fill="#2a7850" text-anchor="start" font-family='"Liberation Serif", serif' textLength="18.0" lengthAdjust="spacingAndGlyphs" font-style="italic" stroke="#2a7850" stroke-width="0.3" filter="url(#soft2)">San</text>
<text x="222.9" y="409.7" font-size="12.4" fill="#2a7850" text-anchor="start" font-family='"Liberation Serif", serif' textLength="50.0" lengthAdjust="spacingAndGlyphs" font-style="italic" stroke="#2a7850" stroke-width="0.3" filter="url(#soft2)">Fernando</text>
<text x="284.8" y="403.5" font-size="12.4" fill="#2a7850" text-anchor="start" font-family='"Liberation Serif", serif' textLength="49.5" lengthAdjust="spacingAndGlyphs" font-style="italic" stroke="#2a7850" stroke-width="0.3" filter="url(#soft2)">Pasadena</text>
<text x="515.1" y="255.9" font-size="12.4" fill="#2a7850" text-anchor="start" font-family='"Liberation Serif", serif' textLength="39.5" lengthAdjust="spacingAndGlyphs" font-style="italic" stroke="#2a7850" stroke-width="0.3" filter="url(#soft2)">Yucaipa</text>
<text x="452.5" y="269.2" font-size="12.4" fill="#2a7850" text-anchor="start" font-family='"Liberation Serif", serif' textLength="18.0" lengthAdjust="spacingAndGlyphs" font-style="italic" stroke="#2a7850" stroke-width="0.3" filter="url(#soft2)">San</text>
<text x="432.7" y="278.5" font-size="12.4" fill="#2a7850" text-anchor="start" font-family='"Liberation Serif", serif' textLength="57.7" lengthAdjust="spacingAndGlyphs" font-style="italic" stroke="#2a7850" stroke-width="0.3" filter="url(#soft2)">Bernardino</text>
<text x="419.3" y="305.8" font-size="12.4" fill="#2a7850" text-anchor="start" font-family='"Liberation Serif", serif' textLength="42.5" lengthAdjust="spacingAndGlyphs" font-style="italic" stroke="#2a7850" stroke-width="0.3" filter="url(#soft2)">Fontana</text>
<text x="527.5" y="315.1" font-size="12.4" fill="#2a7850" text-anchor="start" font-family='"Liberation Serif", serif' textLength="24.0" lengthAdjust="spacingAndGlyphs" font-style="italic" stroke="#2a7850" stroke-width="0.3" filter="url(#soft2)">Lake</text>
<text x="524.4" y="324.4" font-size="12.4" fill="#2a7850" text-anchor="start" font-family='"Liberation Serif", serif' textLength="30.2" lengthAdjust="spacingAndGlyphs" font-style="italic" stroke="#2a7850" stroke-width="0.3" filter="url(#soft2)">Perris</text>
<text x="456.4" y="330.6" font-size="12.4" fill="#2a7850" text-anchor="start" font-family='"Liberation Serif", serif' textLength="47.1" lengthAdjust="spacingAndGlyphs" font-style="italic" stroke="#2a7850" stroke-width="0.3" filter="url(#soft2)">Riverside</text>
<text x="396.1" y="337.8" font-size="12.4" fill="#2a7850" text-anchor="start" font-family='"Liberation Serif", serif' textLength="39.4" lengthAdjust="spacingAndGlyphs" font-style="italic" stroke="#2a7850" stroke-width="0.3" filter="url(#soft2)">Ontario</text>
<text x="338.1" y="363.5" font-size="12.4" fill="#2a7850" text-anchor="start" font-family='"Liberation Serif", serif' textLength="47.2" lengthAdjust="spacingAndGlyphs" font-style="italic" stroke="#2a7850" stroke-width="0.3" filter="url(#soft2)">Glendora</text>
<text x="383.2" y="371.5" font-size="12.4" fill="#2a7850" text-anchor="start" font-family='"Liberation Serif", serif' textLength="41.8" lengthAdjust="spacingAndGlyphs" font-style="italic" stroke="#2a7850" stroke-width="0.3" filter="url(#soft2)">Pomona</text>
<text x="455.6" y="370.8" font-size="12.4" fill="#2a7850" text-anchor="start" font-family='"Liberation Serif", serif' textLength="37.4" lengthAdjust="spacingAndGlyphs" font-style="italic" stroke="#2a7850" stroke-width="0.3" filter="url(#soft2)">Corona</text>
<text x="282.5" y="429.8" font-size="12.4" fill="#2a7850" text-anchor="start" font-family='"Liberation Serif", serif' textLength="62.5" lengthAdjust="spacingAndGlyphs" font-style="italic" stroke="#2a7850" stroke-width="0.3" filter="url(#soft2)">Los Angeles</text>
<text x="166.5" y="451.4" font-size="12.4" fill="#2a7850" text-anchor="start" font-family='"Liberation Serif", serif' textLength="22.0" lengthAdjust="spacingAndGlyphs" font-style="italic" stroke="#2a7850" stroke-width="0.3" filter="url(#soft2)">Simi</text>
<text x="163.1" y="460.7" font-size="12.4" fill="#2a7850" text-anchor="start" font-family='"Liberation Serif", serif' textLength="29.4" lengthAdjust="spacingAndGlyphs" font-style="italic" stroke="#2a7850" stroke-width="0.3" filter="url(#soft2)">Valley</text>
<text x="248.1" y="468.4" font-size="12.4" fill="#2a7850" text-anchor="start" font-family='"Liberation Serif", serif' textLength="28.0" lengthAdjust="spacingAndGlyphs" font-style="italic" stroke="#2a7850" stroke-width="0.3" filter="url(#soft2)">Santa</text>
<text x="242.6" y="477.7" font-size="12.4" fill="#2a7850" text-anchor="start" font-family='"Liberation Serif", serif' textLength="38.3" lengthAdjust="spacingAndGlyphs" font-style="italic" stroke="#2a7850" stroke-width="0.3" filter="url(#soft2)">Monica</text>
<text x="141.4" y="493.2" font-size="12.4" fill="#2a7850" text-anchor="start" font-family='"Liberation Serif", serif' textLength="49.8" lengthAdjust="spacingAndGlyphs" font-style="italic" stroke="#2a7850" stroke-width="0.3" filter="url(#soft2)">Thousand</text>
<text x="153.3" y="502.5" font-size="12.4" fill="#2a7850" text-anchor="start" font-family='"Liberation Serif", serif' textLength="24.8" lengthAdjust="spacingAndGlyphs" font-style="italic" stroke="#2a7850" stroke-width="0.3" filter="url(#soft2)">Oaks</text>
<text x="298.4" y="491.2" font-size="12.4" fill="#2a7850" text-anchor="start" font-family='"Liberation Serif", serif' textLength="21.2" lengthAdjust="spacingAndGlyphs" font-style="italic" stroke="#2a7850" stroke-width="0.3" filter="url(#soft2)">LAX</text>
<text x="183.5" y="522.1" font-size="12.4" fill="#2a7850" text-anchor="start" font-family='"Liberation Serif", serif' textLength="35.6" lengthAdjust="spacingAndGlyphs" font-style="italic" stroke="#2a7850" stroke-width="0.3" filter="url(#soft2)">Malibu</text>
<text x="106.5" y="542.7" font-size="12.4" fill="#2a7850" text-anchor="start" font-family='"Liberation Serif", serif' textLength="37.3" lengthAdjust="spacingAndGlyphs" font-style="italic" stroke="#2a7850" stroke-width="0.3" filter="url(#soft2)">Oxnard</text>
<text x="328.5" y="512.5" font-size="12.4" fill="#2a7850" text-anchor="start" font-family='"Liberation Serif", serif' textLength="26.5" lengthAdjust="spacingAndGlyphs" font-style="italic" stroke="#2a7850" stroke-width="0.3" filter="url(#soft2)">Palos</text>
<text x="326.0" y="521.5" font-size="12.4" fill="#2a7850" text-anchor="start" font-family='"Liberation Serif", serif' textLength="32.2" lengthAdjust="spacingAndGlyphs" font-style="italic" stroke="#2a7850" stroke-width="0.3" filter="url(#soft2)">Verdes</text>
<text x="393.4" y="432.1" font-size="12.4" fill="#2a7850" text-anchor="start" font-family='"Liberation Serif", serif' textLength="42.9" lengthAdjust="spacingAndGlyphs" font-style="italic" stroke="#2a7850" stroke-width="0.3" filter="url(#soft2)">Anaheim</text>
<text x="470.8" y="445.3" font-size="12.4" fill="#2a7850" text-anchor="start" font-family='"Liberation Serif", serif' textLength="68.6" lengthAdjust="spacingAndGlyphs" font-style="italic" stroke="#2a7850" stroke-width="0.3" filter="url(#soft2)">Mission Viejo</text>
<text x="413.1" y="473.6" font-size="12.4" fill="#2a7850" text-anchor="start" font-family='"Liberation Serif", serif' textLength="56.7" lengthAdjust="spacingAndGlyphs" font-style="italic" stroke="#2a7850" stroke-width="0.3" filter="url(#soft2)">Huntington</text>
<text x="426.2" y="482.8" font-size="12.4" fill="#2a7850" text-anchor="start" font-family='"Liberation Serif", serif' textLength="31.0" lengthAdjust="spacingAndGlyphs" font-style="italic" stroke="#2a7850" stroke-width="0.3" filter="url(#soft2)">Beach</text>
<text x="342.4" y="478.5" font-size="12.4" fill="#2a7850" text-anchor="start" font-family='"Liberation Serif", serif' textLength="26.6" lengthAdjust="spacingAndGlyphs" font-style="italic" stroke="#2a7850" stroke-width="0.3" filter="url(#soft2)">Long</text>
<text x="340.4" y="488.6" font-size="12.4" fill="#2a7850" text-anchor="start" font-family='"Liberation Serif", serif' textLength="31.7" lengthAdjust="spacingAndGlyphs" font-style="italic" stroke="#2a7850" stroke-width="0.3" filter="url(#soft2)">Beach</text>
<polygon points="417.7,375.8 419.5,380.6 424.5,380.8 420.6,383.9 421.9,388.8 417.7,386.0 413.5,388.8 414.8,383.9 410.9,380.8 415.9,380.6" fill="#f2e33c" stroke="#2a2a2a" stroke-width="1.1"/>
<circle cx="120.9" cy="239.3" r="3.1" fill="#ff8040" stroke="#d2522a" stroke-width="1.3"/>
<text x="110.8" y="254.8" font-size="10.6" fill="#242424" text-anchor="start" font-family='"Liberation Sans", sans-serif' font-weight="bold" textLength="38.6" lengthAdjust="spacingAndGlyphs" filter="url(#soft2)">CI.LDR</text>
<circle cx="238.4" cy="295" r="3.1" fill="#ff8040" stroke="#d2522a" stroke-width="1.3"/>
<text x="243.8" y="298.6" font-size="10.6" fill="#242424" text-anchor="start" font-family='"Liberation Sans", sans-serif' font-weight="bold" textLength="49.5" lengthAdjust="spacingAndGlyphs" filter="url(#soft2)">NP.00262</text>
<circle cx="414.3" cy="230" r="3.1" fill="#ff8040" stroke="#d2522a" stroke-width="1.3"/>
<text x="370.3" y="237.3" font-size="10.6" fill="#242424" text-anchor="start" font-family='"Liberation Sans", sans-serif' font-weight="bold" textLength="39.0" lengthAdjust="spacingAndGlyphs" filter="url(#soft2)">CI.LUG</text>
<circle cx="550.7" cy="235" r="3.1" fill="#ff8040" stroke="#d2522a" stroke-width="1.3"/>
<text x="526.4" y="248.6" font-size="10.6" fill="#242424" text-anchor="start" font-family='"Liberation Sans", sans-serif' font-weight="bold" textLength="43.0" lengthAdjust="spacingAndGlyphs" filter="url(#soft2)">NP.5442</text>
<circle cx="501.5" cy="265.9" r="3.1" fill="#ff8040" stroke="#d2522a" stroke-width="1.3"/>
<text x="499.2" y="278.8" font-size="10.6" fill="#242424" text-anchor="start" font-family='"Liberation Sans", sans-serif' font-weight="bold" textLength="51.0" lengthAdjust="spacingAndGlyphs" filter="url(#soft2)">CE.23169</text>
<circle cx="383.4" cy="344.9" r="3.1" fill="#ff8040" stroke="#d2522a" stroke-width="1.3"/>
<text x="334.0" y="340.3" font-size="10.6" fill="#242424" text-anchor="start" font-family='"Liberation Sans", sans-serif' font-weight="bold" textLength="50.8" lengthAdjust="spacingAndGlyphs" filter="url(#soft2)">CE.23049</text>
<circle cx="401.2" cy="356.1" r="3.1" fill="#ff8040" stroke="#d2522a" stroke-width="1.3"/>
<text x="405.4" y="356.4" font-size="10.6" fill="#242424" text-anchor="start" font-family='"Liberation Sans", sans-serif' font-weight="bold" textLength="51.0" lengthAdjust="spacingAndGlyphs" filter="url(#soft2)">CE.23525</text>
<circle cx="482.7" cy="340.3" r="3.1" fill="#ff8040" stroke="#d2522a" stroke-width="1.3"/>
<text x="478.8" y="353.8" font-size="10.6" fill="#242424" text-anchor="start" font-family='"Liberation Sans", sans-serif' font-weight="bold" textLength="51.3" lengthAdjust="spacingAndGlyphs" filter="url(#soft2)">CE.13079</text>
<circle cx="548.9" cy="378.8" r="3.1" fill="#ff8040" stroke="#d2522a" stroke-width="1.3"/>
<text x="500.5" y="392.4" font-size="10.6" fill="#242424" text-anchor="start" font-family='"Liberation Sans", sans-serif' font-weight="bold" textLength="51.0" lengthAdjust="spacingAndGlyphs" filter="url(#soft2)">CE.13922</text>
<circle cx="229.1" cy="416.6" r="3.1" fill="#ff8040" stroke="#d2522a" stroke-width="1.3"/>
<text x="176.1" y="428.7" font-size="10.6" fill="#242424" text-anchor="start" font-family='"Liberation Sans", sans-serif' font-weight="bold" textLength="51.0" lengthAdjust="spacingAndGlyphs" filter="url(#soft2)">CE.24800</text>
<circle cx="116.7" cy="554" r="3.1" fill="#ff8040" stroke="#d2522a" stroke-width="1.3"/>
<text x="109.0" y="568.2" font-size="10.6" fill="#242424" text-anchor="start" font-family='"Liberation Sans", sans-serif' font-weight="bold" textLength="50.5" lengthAdjust="spacingAndGlyphs" filter="url(#soft2)">CE.25131</text>
<circle cx="331.2" cy="443.7" r="3.1" fill="#ff8040" stroke="#d2522a" stroke-width="1.3"/>
<text x="331.5" y="438.3" font-size="10.6" fill="#242424" text-anchor="start" font-family='"Liberation Sans", sans-serif' font-weight="bold" textLength="52.5" lengthAdjust="spacingAndGlyphs" filter="url(#soft2)">CE.14825</text>
<circle cx="425.8" cy="411.5" r="3.1" fill="#ff8040" stroke="#d2522a" stroke-width="1.3"/>
<text x="426.7" y="407.7" font-size="10.6" fill="#242424" text-anchor="start" font-family='"Liberation Sans", sans-serif' font-weight="bold" textLength="51.3" lengthAdjust="spacingAndGlyphs" filter="url(#soft2)">CE.13849</text>
<circle cx="439.7" cy="425.2" r="3.1" fill="#ff8040" stroke="#d2522a" stroke-width="1.3"/>
<text x="445.6" y="428.6" font-size="10.6" fill="#242424" text-anchor="start" font-family='"Liberation Sans", sans-serif' font-weight="bold" textLength="50.2" lengthAdjust="spacingAndGlyphs" filter="url(#soft2)">CE.13067</text>
<circle cx="509.7" cy="454.5" r="3.1" fill="#ff8040" stroke="#d2522a" stroke-width="1.3"/>
<text x="488.9" y="467.4" font-size="10.6" fill="#242424" text-anchor="start" font-family='"Liberation Sans", sans-serif' font-weight="bold" textLength="38.6" lengthAdjust="spacingAndGlyphs" filter="url(#soft2)">CI.SDD</text>
<circle cx="357.4" cy="494.7" r="3.1" fill="#ff8040" stroke="#d2522a" stroke-width="1.3"/>
<text x="362.5" y="500.5" font-size="10.6" fill="#242424" text-anchor="start" font-family='"Liberation Sans", sans-serif' font-weight="bold" textLength="50.6" lengthAdjust="spacingAndGlyphs" filter="url(#soft2)">CE.14835</text>
<g stroke="#fff" stroke-width="1.2" fill="none" opacity="0.85" filter="url(#soft2)"><circle cx="546" cy="548" r="9.5"/><path d="M531 531L562 566M546 535v-5M557 541l4-3M559 553l5 2M546 560v5M535 554l-4 2"/></g>
<text x="383.0" y="554.7" font-size="32" fill="#111" text-anchor="start" font-family='"Liberation Sans", sans-serif' textLength="171.5" lengthAdjust="spacingAndGlyphs" filter="url(#tsh)">336 stations</text>
</g>
<rect x="106" y="225.5" width="466" height="348.5" fill="none" stroke="#6c7080" stroke-width="1.4"/>
<clipPath id="hc1"><rect x="149.5" y="596" width="390.5" height="291.5"/></clipPath>
<filter id="hb1" filterUnits="userSpaceOnUse" x="69.5" y="516" width="550.5" height="451.5"><feGaussianBlur stdDeviation="5.5"/></filter>
<filter id="hs1" filterUnits="userSpaceOnUse" x="69.5" y="516" width="550.5" height="451.5"><feGaussianBlur stdDeviation="2.8"/></filter>
<g clip-path="url(#hc1)">
<rect x="89.5" y="536" width="510.5" height="411.5" fill="#fae54f"/>
<g filter="url(#hb1)">
<rect x="89.5" y="536" width="510.5" height="411.5" fill="#fae54f"/>
<ellipse cx="335.3" cy="617.7" rx="44.9" ry="27.9" fill="#c9e5c6"/>
<ellipse cx="174.3" cy="685.9" rx="37.2" ry="40.3" fill="#c9e5c6"/>
<ellipse cx="267.2" cy="702.9" rx="66.6" ry="29.4" fill="#c9e5c6"/>
<ellipse cx="161.9" cy="797.4" rx="21.7" ry="26.3" fill="#cae5c2"/>
<ellipse cx="261.0" cy="661.1" rx="31.0" ry="23.2" fill="#cae5c2"/>
<ellipse cx="459.2" cy="713.7" rx="89.8" ry="35.6" fill="#cbe6cb"/>
<ellipse cx="437.5" cy="778.8" rx="40.3" ry="29.4" fill="#c9e5c6"/>
<ellipse cx="508.8" cy="664.2" rx="37.2" ry="27.9" fill="#c9e5c6"/>
<ellipse cx="273.4" cy="758.7" rx="18.6" ry="9.3" fill="#c9e5c6"/>
<ellipse cx="223.8" cy="778.8" rx="12.4" ry="9.3" fill="#cae5c2"/>
<ellipse cx="409.7" cy="726.1" rx="24.8" ry="18.6" fill="#cbe6cb"/>
<ellipse cx="282.7" cy="681.2" rx="10.8" ry="9.3" fill="#e0f1fa"/>
<ellipse cx="389.5" cy="696.7" rx="15.5" ry="12.4" fill="#e0f1fa"/>
<ellipse cx="508.8" cy="723.0" rx="21.7" ry="12.4" fill="#e0f1fa"/>
<ellipse cx="499.5" cy="673.5" rx="12.4" ry="15.5" fill="#daeef4"/>
<ellipse cx="505.7" cy="647.1" rx="9.3" ry="7.7" fill="#daeef4"/>
<ellipse cx="453.0" cy="802.0" rx="9.3" ry="6.2" fill="#e0f1fa"/>
<ellipse cx="515.0" cy="791.2" rx="41.8" ry="31.0" fill="#fb9c3b"/>
<ellipse cx="527.3" cy="798.9" rx="31.0" ry="15.5" fill="#f33a2f"/>
<ellipse cx="502.6" cy="802.0" rx="13.9" ry="8.7" fill="#f2212e"/>
<ellipse cx="172.7" cy="860.9" rx="43.4" ry="23.2" fill="#fb9739"/>
<ellipse cx="180.5" cy="867.1" rx="24.8" ry="10.8" fill="#f4562f"/>
<ellipse cx="540.3" cy="596.0" rx="63.5" ry="60.4" fill="#fca63e"/>
<ellipse cx="540.3" cy="596.0" rx="43.4" ry="40.9" fill="#f22d2f"/>
<ellipse cx="541.0" cy="595.4" rx="29.4" ry="27.3" fill="#8b2069"/>
<ellipse cx="541.6" cy="594.8" rx="18.0" ry="16.1" fill="#1d2058"/>
<ellipse cx="236.2" cy="761.8" rx="17.0" ry="20.1" fill="#fa9038"/>
<ellipse cx="273.4" cy="775.7" rx="15.5" ry="13.9" fill="#fa9038"/>
<ellipse cx="199.1" cy="783.5" rx="15.5" ry="13.9" fill="#fca63e"/>
<ellipse cx="316.7" cy="760.2" rx="13.9" ry="13.9" fill="#fb9c3b"/>
<ellipse cx="343.1" cy="789.7" rx="13.9" ry="12.4" fill="#fb9c3b"/>
<ellipse cx="381.8" cy="654.9" rx="15.5" ry="13.9" fill="#fca63e"/>
<ellipse cx="456.1" cy="644.0" rx="15.5" ry="15.5" fill="#fa9038"/>
<ellipse cx="262.5" cy="662.6" rx="13.9" ry="12.4" fill="#fb9c3b"/>
<ellipse cx="350.8" cy="837.7" rx="12.4" ry="9.3" fill="#fa8a36"/>
</g>
<g filter="url(#hs1)">
<ellipse cx="236.2" cy="758.7" rx="6.8" ry="11.8" fill="#f2212e"/>
<ellipse cx="245.5" cy="772.6" rx="4.3" ry="6.8" fill="#f2212e"/>
<ellipse cx="274.9" cy="774.2" rx="6.8" ry="6.8" fill="#f33a2f"/>
<ellipse cx="316.7" cy="758.7" rx="5.6" ry="5.6" fill="#f22d2f"/>
<ellipse cx="343.1" cy="788.1" rx="6.2" ry="5.6" fill="#f2212e"/>
<ellipse cx="262.5" cy="663.5" rx="4.3" ry="4.0" fill="#f2212e"/>
<ellipse cx="456.1" cy="642.5" rx="6.8" ry="8.1" fill="#f22d2f"/>
<ellipse cx="381.8" cy="654.9" rx="6.8" ry="6.2" fill="#fa9038"/>
<ellipse cx="502.6" cy="662.6" rx="4.3" ry="3.7" fill="#fa9038"/>
<ellipse cx="434.4" cy="690.5" rx="5.6" ry="5.0" fill="#fb9c3b"/>
<ellipse cx="453.0" cy="707.5" rx="6.2" ry="4.3" fill="#fa9038"/>
<ellipse cx="366.3" cy="735.4" rx="5.6" ry="5.0" fill="#fb9c3b"/>
<ellipse cx="406.6" cy="781.9" rx="5.6" ry="5.0" fill="#fb9c3b"/>
<ellipse cx="351.4" cy="838.3" rx="5.6" ry="3.7" fill="#f31b2d"/>
<ellipse cx="185.1" cy="863.1" rx="5.6" ry="3.7" fill="#f33a2f"/>
<ellipse cx="199.1" cy="783.5" rx="6.8" ry="6.8" fill="#fa9038"/>
<ellipse cx="239.3" cy="797.4" rx="4.3" ry="3.7" fill="#fb9c3b"/>
<ellipse cx="497.9" cy="802.0" rx="6.8" ry="4.3" fill="#f31b2d"/>
<ellipse cx="353.9" cy="724.6" rx="4.3" ry="3.7" fill="#fca63e"/>
<ellipse cx="405.0" cy="698.2" rx="3.1" ry="3.1" fill="#fca63e"/>
<ellipse cx="316.7" cy="781.9" rx="4.3" ry="4.3" fill="#fb9c3b"/>
<ellipse cx="542.2" cy="594.1" rx="9.3" ry="8.1" fill="#10102e"/>
</g>
<polygon points="149.5,874.6 159.0,872.8 170.6,871.2 182.2,869.4 193.9,864.3 206.8,860.4 222.3,855.1 235.2,850.0 241.6,848.7 244.2,842.3 250.6,834.5 258.4,825.5 267.5,817.8 276.5,811.3 286.8,809.5 297.1,810.8 307.4,815.2 317.7,821.6 328.1,829.4 333.2,837.1 335.3,844.8 342.2,848.7 351.3,844.8 361.7,842.3 368.1,839.7 366.8,831.9 361.7,828.1 366.8,822.9 375.8,819.1 382.3,813.9 392.6,810.8 405.5,810.8 420.9,812.6 436.5,811.3 449.4,808.2 464.8,806.9 480.3,808.8 493.2,811.8 503.6,810.0 516.5,810.0 526.8,811.3 541.0,810.0 545.0,892.5 144.5,892.5" fill="#9fd3ec" stroke="#1c1c1c" stroke-width="1.3" stroke-linejoin="round"/>
<path d="M360.8 828.4l3 -3l3 1l2 -3l3 1l-2 3l-4 2l-2 3l-3 0z" fill="none" stroke="#1c1c1c" stroke-width="1"/>
<g fill="#1a1a1a" fill-opacity="0.88"><circle cx="162.0" cy="607.0" r="1.65"/><circle cx="247.2" cy="627.1" r="1.65"/><circle cx="219.6" cy="637.6" r="1.65"/><circle cx="274.3" cy="644.9" r="1.65"/><circle cx="321.1" cy="645.6" r="1.65"/><circle cx="214.9" cy="657.7" r="1.65"/><circle cx="260.5" cy="653.6" r="1.65"/><circle cx="262.2" cy="662.7" r="1.65"/><circle cx="227.2" cy="670.2" r="1.65"/><circle cx="274.0" cy="672.2" r="1.65"/><circle cx="196.8" cy="677.0" r="1.65"/><circle cx="173.3" cy="693.2" r="1.65"/><circle cx="311.3" cy="688.5" r="1.65"/><circle cx="323.4" cy="712.8" r="1.65"/><circle cx="160.8" cy="725.3" r="1.65"/><circle cx="343.6" cy="720.1" r="1.65"/><circle cx="324.4" cy="726.8" r="1.65"/><circle cx="208.9" cy="738.9" r="1.65"/><circle cx="228.9" cy="737.1" r="1.65"/><circle cx="220.1" cy="742.9" r="1.65"/><circle cx="224.7" cy="742.9" r="1.65"/><circle cx="247.2" cy="742.9" r="1.65"/><circle cx="262.2" cy="740.4" r="1.65"/><circle cx="275.8" cy="742.4" r="1.65"/><circle cx="280.3" cy="737.4" r="1.65"/><circle cx="179.6" cy="757.2" r="1.65"/><circle cx="243.9" cy="752.9" r="1.65"/><circle cx="249.7" cy="755.9" r="1.65"/><circle cx="252.7" cy="755.4" r="1.65"/><circle cx="262.2" cy="759.2" r="1.65"/><circle cx="275.3" cy="760.4" r="1.65"/><circle cx="285.3" cy="754.1" r="1.65"/><circle cx="245.2" cy="769.2" r="1.65"/><circle cx="249.0" cy="771.7" r="1.65"/><circle cx="243.9" cy="776.7" r="1.65"/><circle cx="258.2" cy="776.7" r="1.65"/><circle cx="264.7" cy="780.5" r="1.65"/><circle cx="280.3" cy="784.2" r="1.65"/><circle cx="222.7" cy="783.5" r="1.65"/><circle cx="207.1" cy="788.0" r="1.65"/><circle cx="211.4" cy="790.5" r="1.65"/><circle cx="235.2" cy="785.5" r="1.65"/><circle cx="246.5" cy="785.5" r="1.65"/><circle cx="241.4" cy="791.7" r="1.65"/><circle cx="240.2" cy="798.0" r="1.65"/><circle cx="188.8" cy="803.5" r="1.65"/><circle cx="183.8" cy="810.0" r="1.65"/><circle cx="173.3" cy="825.6" r="1.65"/><circle cx="257.7" cy="818.1" r="1.65"/><circle cx="168.0" cy="845.6" r="1.65"/><circle cx="155.0" cy="853.6" r="1.65"/><circle cx="185.1" cy="861.9" r="1.65"/><circle cx="158.8" cy="870.7" r="1.65"/><circle cx="292.8" cy="736.6" r="1.65"/><circle cx="297.8" cy="740.4" r="1.65"/><circle cx="305.3" cy="737.9" r="1.65"/><circle cx="310.3" cy="740.4" r="1.65"/><circle cx="317.8" cy="735.3" r="1.65"/><circle cx="325.4" cy="734.1" r="1.65"/><circle cx="329.1" cy="740.4" r="1.65"/><circle cx="331.6" cy="745.4" r="1.65"/><circle cx="337.9" cy="745.4" r="1.65"/><circle cx="346.7" cy="747.9" r="1.65"/><circle cx="295.3" cy="752.9" r="1.65"/><circle cx="302.8" cy="750.4" r="1.65"/><circle cx="311.6" cy="752.9" r="1.65"/><circle cx="320.4" cy="750.4" r="1.65"/><circle cx="325.4" cy="755.4" r="1.65"/><circle cx="340.4" cy="755.4" r="1.65"/><circle cx="289.0" cy="766.7" r="1.65"/><circle cx="295.3" cy="774.2" r="1.65"/><circle cx="301.6" cy="767.9" r="1.65"/><circle cx="307.8" cy="770.4" r="1.65"/><circle cx="315.3" cy="765.4" r="1.65"/><circle cx="320.4" cy="772.9" r="1.65"/><circle cx="326.6" cy="769.2" r="1.65"/><circle cx="335.4" cy="770.4" r="1.65"/><circle cx="342.9" cy="765.4" r="1.65"/><circle cx="300.3" cy="783.0" r="1.65"/><circle cx="307.8" cy="788.0" r="1.65"/><circle cx="315.3" cy="780.5" r="1.65"/><circle cx="321.6" cy="783.0" r="1.65"/><circle cx="330.4" cy="785.5" r="1.65"/><circle cx="337.9" cy="778.0" r="1.65"/><circle cx="345.4" cy="783.0" r="1.65"/><circle cx="289.0" cy="793.0" r="1.65"/><circle cx="295.3" cy="798.0" r="1.65"/><circle cx="305.3" cy="795.5" r="1.65"/><circle cx="310.3" cy="803.0" r="1.65"/><circle cx="317.8" cy="798.0" r="1.65"/><circle cx="325.4" cy="803.0" r="1.65"/><circle cx="332.9" cy="798.0" r="1.65"/><circle cx="341.6" cy="803.0" r="1.65"/><circle cx="347.9" cy="795.5" r="1.65"/><circle cx="280.3" cy="804.3" r="1.65"/><circle cx="287.8" cy="803.0" r="1.65"/><circle cx="295.3" cy="808.0" r="1.65"/><circle cx="300.3" cy="810.5" r="1.65"/><circle cx="311.6" cy="810.5" r="1.65"/><circle cx="320.4" cy="813.0" r="1.65"/><circle cx="330.4" cy="818.1" r="1.65"/><circle cx="335.4" cy="813.0" r="1.65"/><circle cx="342.9" cy="820.6" r="1.65"/><circle cx="345.4" cy="828.1" r="1.65"/><circle cx="339.1" cy="829.3" r="1.65"/><circle cx="407.9" cy="598.8" r="1.65"/><circle cx="448.5" cy="607.0" r="1.65"/><circle cx="435.9" cy="612.5" r="1.65"/><circle cx="488.5" cy="612.5" r="1.65"/><circle cx="353.3" cy="620.6" r="1.65"/><circle cx="357.3" cy="635.1" r="1.65"/><circle cx="421.7" cy="628.1" r="1.65"/><circle cx="425.4" cy="638.1" r="1.65"/><circle cx="450.5" cy="626.3" r="1.65"/><circle cx="460.5" cy="627.6" r="1.65"/><circle cx="466.8" cy="622.6" r="1.65"/><circle cx="480.5" cy="629.6" r="1.65"/><circle cx="535.6" cy="630.6" r="1.65"/><circle cx="449.7" cy="636.4" r="1.65"/><circle cx="461.7" cy="636.4" r="1.65"/><circle cx="451.7" cy="643.9" r="1.65"/><circle cx="464.7" cy="643.9" r="1.65"/><circle cx="470.5" cy="645.6" r="1.65"/><circle cx="455.5" cy="650.6" r="1.65"/><circle cx="431.7" cy="654.6" r="1.65"/><circle cx="437.9" cy="657.2" r="1.65"/><circle cx="448.5" cy="657.7" r="1.65"/><circle cx="468.0" cy="653.9" r="1.65"/><circle cx="485.5" cy="648.1" r="1.65"/><circle cx="486.3" cy="657.7" r="1.65"/><circle cx="382.8" cy="658.9" r="1.65"/><circle cx="417.9" cy="665.2" r="1.65"/><circle cx="505.6" cy="657.2" r="1.65"/><circle cx="503.1" cy="661.4" r="1.65"/><circle cx="499.3" cy="667.7" r="1.65"/><circle cx="510.6" cy="671.4" r="1.65"/><circle cx="527.6" cy="670.7" r="1.65"/><circle cx="407.9" cy="670.7" r="1.65"/><circle cx="463.7" cy="668.9" r="1.65"/><circle cx="470.5" cy="667.2" r="1.65"/><circle cx="474.3" cy="666.4" r="1.65"/><circle cx="402.9" cy="679.0" r="1.65"/><circle cx="468.0" cy="678.2" r="1.65"/><circle cx="486.8" cy="680.7" r="1.65"/><circle cx="399.1" cy="685.7" r="1.65"/><circle cx="412.9" cy="684.7" r="1.65"/><circle cx="439.7" cy="682.7" r="1.65"/><circle cx="449.7" cy="686.0" r="1.65"/><circle cx="432.9" cy="690.7" r="1.65"/><circle cx="465.5" cy="691.5" r="1.65"/><circle cx="518.1" cy="689.0" r="1.65"/><circle cx="387.8" cy="691.5" r="1.65"/><circle cx="381.6" cy="695.2" r="1.65"/><circle cx="391.6" cy="697.3" r="1.65"/><circle cx="405.4" cy="690.7" r="1.65"/><circle cx="404.1" cy="698.3" r="1.65"/><circle cx="458.0" cy="697.3" r="1.65"/><circle cx="535.1" cy="697.3" r="1.65"/><circle cx="372.3" cy="707.3" r="1.65"/><circle cx="382.8" cy="705.8" r="1.65"/><circle cx="390.3" cy="707.8" r="1.65"/><circle cx="396.6" cy="705.3" r="1.65"/><circle cx="415.4" cy="706.5" r="1.65"/><circle cx="449.2" cy="709.0" r="1.65"/><circle cx="459.2" cy="707.3" r="1.65"/><circle cx="526.1" cy="710.3" r="1.65"/><circle cx="360.3" cy="711.5" r="1.65"/><circle cx="411.6" cy="713.3" r="1.65"/><circle cx="344.0" cy="719.8" r="1.65"/><circle cx="350.8" cy="717.3" r="1.65"/><circle cx="366.5" cy="717.8" r="1.65"/><circle cx="372.8" cy="721.6" r="1.65"/><circle cx="448.0" cy="719.1" r="1.65"/><circle cx="441.7" cy="724.1" r="1.65"/><circle cx="520.1" cy="724.1" r="1.65"/><circle cx="539.4" cy="729.1" r="1.65"/><circle cx="458.0" cy="735.3" r="1.65"/><circle cx="426.7" cy="739.9" r="1.65"/><circle cx="345.3" cy="726.6" r="1.65"/><circle cx="351.5" cy="730.3" r="1.65"/><circle cx="359.0" cy="734.1" r="1.65"/><circle cx="367.8" cy="734.1" r="1.65"/><circle cx="374.1" cy="737.9" r="1.65"/><circle cx="384.1" cy="726.6" r="1.65"/><circle cx="385.3" cy="735.3" r="1.65"/><circle cx="349.0" cy="739.1" r="1.65"/><circle cx="357.8" cy="742.9" r="1.65"/><circle cx="386.6" cy="746.6" r="1.65"/><circle cx="392.9" cy="746.6" r="1.65"/><circle cx="417.9" cy="751.6" r="1.65"/><circle cx="425.4" cy="752.9" r="1.65"/><circle cx="345.3" cy="747.9" r="1.65"/><circle cx="355.3" cy="756.7" r="1.65"/><circle cx="374.1" cy="756.7" r="1.65"/><circle cx="384.1" cy="754.1" r="1.65"/><circle cx="391.6" cy="755.4" r="1.65"/><circle cx="400.4" cy="754.1" r="1.65"/><circle cx="411.6" cy="755.4" r="1.65"/><circle cx="429.2" cy="762.9" r="1.65"/><circle cx="347.8" cy="762.9" r="1.65"/><circle cx="360.3" cy="770.4" r="1.65"/><circle cx="367.8" cy="767.9" r="1.65"/><circle cx="377.8" cy="766.7" r="1.65"/><circle cx="394.1" cy="766.7" r="1.65"/><circle cx="399.1" cy="762.9" r="1.65"/><circle cx="416.6" cy="762.9" r="1.65"/><circle cx="422.9" cy="766.7" r="1.65"/><circle cx="426.7" cy="770.4" r="1.65"/><circle cx="349.0" cy="772.9" r="1.65"/><circle cx="376.6" cy="774.2" r="1.65"/><circle cx="397.9" cy="770.4" r="1.65"/><circle cx="415.4" cy="774.2" r="1.65"/><circle cx="427.9" cy="775.4" r="1.65"/><circle cx="454.2" cy="775.4" r="1.65"/><circle cx="454.2" cy="780.5" r="1.65"/><circle cx="345.3" cy="781.7" r="1.65"/><circle cx="359.0" cy="780.5" r="1.65"/><circle cx="365.3" cy="784.2" r="1.65"/><circle cx="399.1" cy="780.5" r="1.65"/><circle cx="404.1" cy="781.7" r="1.65"/><circle cx="411.6" cy="786.7" r="1.65"/><circle cx="421.7" cy="781.7" r="1.65"/><circle cx="425.4" cy="788.0" r="1.65"/><circle cx="430.4" cy="788.0" r="1.65"/><circle cx="344.0" cy="788.0" r="1.65"/><circle cx="351.5" cy="788.0" r="1.65"/><circle cx="375.3" cy="788.0" r="1.65"/><circle cx="381.6" cy="788.0" r="1.65"/><circle cx="385.3" cy="795.5" r="1.65"/><circle cx="377.8" cy="794.2" r="1.65"/><circle cx="407.9" cy="798.0" r="1.65"/><circle cx="422.9" cy="798.0" r="1.65"/><circle cx="434.2" cy="798.0" r="1.65"/><circle cx="437.9" cy="803.0" r="1.65"/><circle cx="429.2" cy="803.0" r="1.65"/><circle cx="421.7" cy="804.3" r="1.65"/><circle cx="405.4" cy="803.0" r="1.65"/><circle cx="391.6" cy="803.0" r="1.65"/><circle cx="372.8" cy="803.0" r="1.65"/><circle cx="365.3" cy="798.0" r="1.65"/><circle cx="359.0" cy="800.5" r="1.65"/><circle cx="347.8" cy="801.8" r="1.65"/><circle cx="342.7" cy="808.0" r="1.65"/><circle cx="352.8" cy="810.5" r="1.65"/><circle cx="360.3" cy="808.0" r="1.65"/><circle cx="372.8" cy="809.3" r="1.65"/><circle cx="381.6" cy="808.0" r="1.65"/><circle cx="419.2" cy="809.3" r="1.65"/><circle cx="486.8" cy="788.0" r="1.65"/><circle cx="496.8" cy="801.0" r="1.65"/><circle cx="352.8" cy="818.1" r="1.65"/><circle cx="345.3" cy="824.3" r="1.65"/><circle cx="359.0" cy="823.1" r="1.65"/><circle cx="351.5" cy="825.6" r="1.65"/><circle cx="342.7" cy="836.8" r="1.65"/><circle cx="354.0" cy="838.1" r="1.65"/><circle cx="312.6" cy="781.0" r="1.65"/><circle cx="313.2" cy="766.9" r="1.65"/><circle cx="299.1" cy="768.7" r="1.65"/><circle cx="340.0" cy="779.5" r="1.65"/><circle cx="338.5" cy="776.5" r="1.65"/><circle cx="325.6" cy="775.5" r="1.65"/><circle cx="284.4" cy="786.9" r="1.65"/><circle cx="327.9" cy="780.8" r="1.65"/><circle cx="283.8" cy="742.6" r="1.65"/><circle cx="299.9" cy="764.3" r="1.65"/><circle cx="323.8" cy="771.5" r="1.65"/><circle cx="328.1" cy="761.4" r="1.65"/><circle cx="323.9" cy="779.0" r="1.65"/><circle cx="304.5" cy="801.6" r="1.65"/><circle cx="328.9" cy="792.7" r="1.65"/><circle cx="305.3" cy="759.7" r="1.65"/><circle cx="310.8" cy="770.5" r="1.65"/><circle cx="330.4" cy="776.5" r="1.65"/><circle cx="308.8" cy="756.0" r="1.65"/><circle cx="307.3" cy="793.1" r="1.65"/><circle cx="301.5" cy="776.5" r="1.65"/><circle cx="326.3" cy="746.9" r="1.65"/><circle cx="318.7" cy="794.5" r="1.65"/><circle cx="277.4" cy="766.8" r="1.65"/><circle cx="315.6" cy="758.4" r="1.65"/><circle cx="327.7" cy="771.2" r="1.65"/><circle cx="288.4" cy="786.4" r="1.65"/><circle cx="331.1" cy="788.4" r="1.65"/><circle cx="346.6" cy="778.5" r="1.65"/><circle cx="320.1" cy="750.2" r="1.65"/><circle cx="330.0" cy="761.9" r="1.65"/><circle cx="308.6" cy="750.8" r="1.65"/><circle cx="298.3" cy="763.3" r="1.65"/><circle cx="343.5" cy="737.7" r="1.65"/><circle cx="288.5" cy="776.4" r="1.65"/><circle cx="346.6" cy="782.2" r="1.65"/><circle cx="279.7" cy="729.4" r="1.65"/><circle cx="324.9" cy="759.8" r="1.65"/><circle cx="295.3" cy="788.9" r="1.65"/><circle cx="339.8" cy="775.0" r="1.65"/><circle cx="322.6" cy="779.7" r="1.65"/><circle cx="349.6" cy="782.8" r="1.65"/><circle cx="328.1" cy="781.6" r="1.65"/><circle cx="286.3" cy="794.1" r="1.65"/><circle cx="336.8" cy="781.3" r="1.65"/><circle cx="278.2" cy="761.5" r="1.65"/><circle cx="334.6" cy="741.5" r="1.65"/><circle cx="314.0" cy="789.7" r="1.65"/><circle cx="291.5" cy="799.7" r="1.65"/><circle cx="328.8" cy="769.7" r="1.65"/><circle cx="324.2" cy="783.4" r="1.65"/><circle cx="320.1" cy="791.8" r="1.65"/><circle cx="304.5" cy="765.2" r="1.65"/><circle cx="338.6" cy="772.8" r="1.65"/><circle cx="300.1" cy="788.4" r="1.65"/><circle cx="347.1" cy="764.7" r="1.65"/><circle cx="290.1" cy="770.0" r="1.65"/><circle cx="314.7" cy="767.2" r="1.65"/><circle cx="345.8" cy="754.8" r="1.65"/><circle cx="343.0" cy="750.7" r="1.65"/><circle cx="302.0" cy="783.1" r="1.65"/><circle cx="340.3" cy="786.9" r="1.65"/><circle cx="324.6" cy="774.7" r="1.65"/><circle cx="320.8" cy="782.1" r="1.65"/><circle cx="314.2" cy="777.0" r="1.65"/><circle cx="329.2" cy="772.3" r="1.65"/><circle cx="333.0" cy="781.9" r="1.65"/><circle cx="358.0" cy="777.8" r="1.65"/><circle cx="309.2" cy="766.0" r="1.65"/><circle cx="317.5" cy="788.0" r="1.65"/><circle cx="341.7" cy="806.8" r="1.65"/><circle cx="367.8" cy="765.4" r="1.65"/><circle cx="332.2" cy="804.8" r="1.65"/><circle cx="350.5" cy="804.7" r="1.65"/><circle cx="340.6" cy="810.5" r="1.65"/><circle cx="349.1" cy="794.0" r="1.65"/><circle cx="374.9" cy="806.3" r="1.65"/><circle cx="339.1" cy="800.0" r="1.65"/><circle cx="343.0" cy="800.5" r="1.65"/><circle cx="313.0" cy="794.5" r="1.65"/><circle cx="357.9" cy="785.0" r="1.65"/><circle cx="344.9" cy="814.7" r="1.65"/><circle cx="356.0" cy="822.3" r="1.65"/><circle cx="325.3" cy="796.4" r="1.65"/><circle cx="341.7" cy="810.1" r="1.65"/><circle cx="358.9" cy="763.7" r="1.65"/><circle cx="358.8" cy="781.1" r="1.65"/><circle cx="354.0" cy="780.4" r="1.65"/></g>
<polygon points="410.3,721.5 411.8,725.7 416.2,725.8 412.7,728.5 414.0,732.7 410.3,730.2 406.7,732.7 408.0,728.5 404.4,725.8 408.9,725.7" fill="#1a1a1a"/>
</g>
<rect x="149.5" y="596" width="390.5" height="291.5" fill="none" stroke="#222" stroke-width="1.3"/>
<clipPath id="hc2"><rect x="592" y="596.5" width="389.5" height="291"/></clipPath>
<filter id="hb2" filterUnits="userSpaceOnUse" x="512" y="516.5" width="549.5" height="451"><feGaussianBlur stdDeviation="5.5"/></filter>
<filter id="hs2" filterUnits="userSpaceOnUse" x="512" y="516.5" width="549.5" height="451"><feGaussianBlur stdDeviation="2.8"/></filter>
<g clip-path="url(#hc2)">
<rect x="532" y="536.5" width="509.5" height="411" fill="#f2272e"/>
<g filter="url(#hb2)">
<rect x="532" y="536.5" width="509.5" height="411" fill="#f2272e"/>
<ellipse cx="733.2" cy="685.6" rx="77.2" ry="46.4" fill="#fca63e"/>
<ellipse cx="795.0" cy="657.7" rx="40.2" ry="23.2" fill="#fdba44"/>
<ellipse cx="693.0" cy="713.4" rx="34.0" ry="24.7" fill="#fca63e"/>
<ellipse cx="714.6" cy="651.6" rx="27.8" ry="18.6" fill="#fca63e"/>
<ellipse cx="940.1" cy="747.4" rx="46.3" ry="58.8" fill="#f2332f"/>
<ellipse cx="927.8" cy="704.1" rx="29.3" ry="21.7" fill="#f66630"/>
<ellipse cx="921.6" cy="657.7" rx="37.1" ry="24.7" fill="#f98434"/>
<ellipse cx="594.2" cy="599.0" rx="72.6" ry="69.6" fill="#f66630"/>
<ellipse cx="594.2" cy="599.0" rx="51.0" ry="49.5" fill="#fdb041"/>
<ellipse cx="592.6" cy="597.4" rx="32.4" ry="32.5" fill="#fbe24e"/>
<ellipse cx="591.1" cy="595.9" rx="17.0" ry="17.0" fill="#f0e758"/>
<ellipse cx="618.9" cy="778.4" rx="41.7" ry="74.2" fill="#782677"/>
<ellipse cx="606.5" cy="688.7" rx="37.1" ry="34.0" fill="#6f297e"/>
<ellipse cx="606.5" cy="688.7" rx="23.2" ry="20.1" fill="#252a6d"/>
<ellipse cx="622.0" cy="753.6" rx="9.3" ry="8.0" fill="#b61a45"/>
<ellipse cx="687.8" cy="832.5" rx="17.0" ry="14.8" fill="#782677"/>
<ellipse cx="685.3" cy="779.9" rx="9.9" ry="13.0" fill="#a51b53"/>
<ellipse cx="615.8" cy="827.9" rx="18.5" ry="21.7" fill="#522c80"/>
<ellipse cx="595.7" cy="784.6" rx="7.7" ry="68.0" fill="#be1a3e"/>
<ellipse cx="612.7" cy="865.0" rx="40.2" ry="15.5" fill="#fb9c3b"/>
<ellipse cx="600.3" cy="869.6" rx="18.5" ry="7.7" fill="#fdc448"/>
<ellipse cx="652.9" cy="795.4" rx="13.0" ry="11.8" fill="#fca63e"/>
<ellipse cx="640.5" cy="849.5" rx="24.7" ry="12.4" fill="#f2212e"/>
<ellipse cx="730.1" cy="742.8" rx="29.3" ry="27.8" fill="#ae1a4c"/>
<ellipse cx="730.1" cy="742.8" rx="19.2" ry="17.9" fill="#292c73"/>
<ellipse cx="753.3" cy="688.7" rx="13.9" ry="10.8" fill="#fcd84c"/>
<ellipse cx="770.2" cy="728.9" rx="13.9" ry="13.9" fill="#fdce4a"/>
<ellipse cx="825.8" cy="710.3" rx="23.2" ry="18.6" fill="#fdc448"/>
<ellipse cx="855.2" cy="759.8" rx="17.0" ry="23.2" fill="#fcd84c"/>
<ellipse cx="795.0" cy="820.1" rx="17.0" ry="13.9" fill="#fdb041"/>
<ellipse cx="671.4" cy="749.0" rx="12.4" ry="10.8" fill="#fca63e"/>
<ellipse cx="705.4" cy="779.9" rx="10.8" ry="9.3" fill="#fdba44"/>
<ellipse cx="764.1" cy="778.4" rx="34.0" ry="21.7" fill="#d11836"/>
<ellipse cx="751.7" cy="769.1" rx="12.4" ry="9.3" fill="#782677"/>
<ellipse cx="825.8" cy="793.8" rx="12.4" ry="9.3" fill="#3f2d7e"/>
<ellipse cx="869.1" cy="606.7" rx="24.7" ry="15.5" fill="#fdba44"/>
<ellipse cx="869.1" cy="605.2" rx="14.8" ry="9.3" fill="#fbe24e"/>
<ellipse cx="941.7" cy="598.4" rx="30.9" ry="15.5" fill="#252a6d"/>
<ellipse cx="961.8" cy="620.6" rx="18.5" ry="18.6" fill="#e41430"/>
<ellipse cx="900.0" cy="639.2" rx="13.9" ry="12.4" fill="#fdce4a"/>
<ellipse cx="924.7" cy="629.9" rx="15.4" ry="12.4" fill="#fca63e"/>
<ellipse cx="862.9" cy="637.6" rx="13.9" ry="13.9" fill="#8b2069"/>
<ellipse cx="894.4" cy="692.7" rx="17.0" ry="32.5" fill="#782677"/>
<ellipse cx="896.9" cy="673.2" rx="13.9" ry="15.5" fill="#522c80"/>
<ellipse cx="891.3" cy="708.8" rx="12.4" ry="17.0" fill="#482c7f"/>
<ellipse cx="869.1" cy="739.7" rx="9.3" ry="8.7" fill="#9d1b5a"/>
<ellipse cx="943.2" cy="671.7" rx="15.4" ry="12.4" fill="#fdb543"/>
<ellipse cx="856.7" cy="665.5" rx="12.4" ry="10.8" fill="#fb9c3b"/>
<ellipse cx="971.0" cy="704.1" rx="12.4" ry="12.4" fill="#fca63e"/>
<ellipse cx="975.7" cy="784.6" rx="15.4" ry="34.0" fill="#b61a45"/>
<ellipse cx="884.5" cy="801.6" rx="18.5" ry="9.3" fill="#f2212e"/>
<ellipse cx="761.0" cy="639.2" rx="10.8" ry="9.3" fill="#ae1a4c"/>
<ellipse cx="733.2" cy="617.5" rx="80.3" ry="21.7" fill="#f31b2d"/>
</g>
<g filter="url(#hs2)">
<ellipse cx="753.3" cy="689.3" rx="6.2" ry="4.9" fill="#f0e758"/>
<ellipse cx="606.5" cy="688.7" rx="13.9" ry="12.4" fill="#1d2058"/>
<ellipse cx="730.1" cy="741.3" rx="11.1" ry="11.1" fill="#252a6d"/>
<ellipse cx="825.8" cy="793.8" rx="6.8" ry="4.9" fill="#2d2c76"/>
<ellipse cx="862.9" cy="637.6" rx="6.2" ry="6.2" fill="#522c80"/>
<ellipse cx="898.4" cy="673.2" rx="7.7" ry="9.3" fill="#522c80"/>
<ellipse cx="892.3" cy="707.2" rx="6.8" ry="10.8" fill="#342d7a"/>
<ellipse cx="761.0" cy="638.6" rx="4.3" ry="3.7" fill="#8b2069"/>
<ellipse cx="946.3" cy="661.5" rx="3.7" ry="3.1" fill="#e41430"/>
<ellipse cx="770.2" cy="728.9" rx="5.6" ry="5.6" fill="#f6e652"/>
<ellipse cx="855.2" cy="756.7" rx="6.8" ry="10.8" fill="#f4e655"/>
<ellipse cx="652.9" cy="793.8" rx="4.9" ry="4.3" fill="#fdce4a"/>
<ellipse cx="689.9" cy="756.7" rx="4.9" ry="4.3" fill="#8b2069"/>
<ellipse cx="622.0" cy="754.2" rx="4.3" ry="3.4" fill="#c71939"/>
<ellipse cx="896.9" cy="639.2" rx="5.6" ry="4.9" fill="#f6e652"/>
<ellipse cx="733.2" cy="790.7" rx="4.3" ry="3.7" fill="#fdce4a"/>
<ellipse cx="822.8" cy="707.2" rx="7.7" ry="6.2" fill="#fbe24e"/>
<ellipse cx="869.1" cy="739.7" rx="4.3" ry="4.3" fill="#782677"/>
<ellipse cx="782.6" cy="838.7" rx="6.2" ry="4.3" fill="#fb9c3b"/>
<ellipse cx="941.7" cy="597.4" rx="18.5" ry="8.0" fill="#191a4e"/>
<ellipse cx="705.4" cy="779.9" rx="4.6" ry="4.0" fill="#fcd84c"/>
<ellipse cx="751.7" cy="769.1" rx="5.6" ry="4.3" fill="#522c80"/>
<ellipse cx="776.4" cy="778.4" rx="4.9" ry="3.7" fill="#782677"/>
<ellipse cx="866.0" cy="796.9" rx="5.6" ry="3.7" fill="#be1a3e"/>
</g>
<polygon points="592.0,874.6 601.5,872.8 613.1,871.2 624.7,869.4 636.2,864.3 649.1,860.4 664.6,855.2 677.5,850.1 683.9,848.8 686.5,842.4 692.9,834.6 700.7,825.6 709.6,817.9 718.6,811.4 728.9,809.6 739.2,810.9 749.5,815.3 759.8,821.7 770.2,829.5 775.3,837.2 777.4,844.9 784.3,848.8 793.2,844.9 803.6,842.4 810.0,839.8 808.7,832.0 803.6,828.2 808.7,823.0 817.7,819.2 824.2,814.0 834.5,810.9 847.4,810.9 862.8,812.7 878.2,811.4 891.1,808.3 906.5,807.0 922.0,808.9 934.9,811.9 945.1,810.1 958.0,810.1 968.3,811.4 982.5,810.1 986.5,892.5 587,892.5" fill="#9fd3ec" stroke="#1c1c1c" stroke-width="1.3" stroke-linejoin="round"/>
<path d="M802.7 828.5l3 -3l3 1l2 -3l3 1l-2 3l-4 2l-2 3l-3 0z" fill="none" stroke="#1c1c1c" stroke-width="1"/>
<g fill="#1a1a1a" fill-opacity="0.88"><circle cx="604.5" cy="607.5" r="1.65"/><circle cx="689.5" cy="627.5" r="1.65"/><circle cx="662.0" cy="638.0" r="1.65"/><circle cx="716.4" cy="645.3" r="1.65"/><circle cx="763.2" cy="646.0" r="1.65"/><circle cx="657.2" cy="658.1" r="1.65"/><circle cx="702.7" cy="654.0" r="1.65"/><circle cx="704.4" cy="663.1" r="1.65"/><circle cx="669.5" cy="670.6" r="1.65"/><circle cx="716.2" cy="672.6" r="1.65"/><circle cx="639.2" cy="677.3" r="1.65"/><circle cx="615.7" cy="693.6" r="1.65"/><circle cx="753.4" cy="688.8" r="1.65"/><circle cx="765.4" cy="713.1" r="1.65"/><circle cx="603.2" cy="725.6" r="1.65"/><circle cx="785.7" cy="720.3" r="1.65"/><circle cx="766.4" cy="727.1" r="1.65"/><circle cx="651.2" cy="739.1" r="1.65"/><circle cx="671.2" cy="737.4" r="1.65"/><circle cx="662.5" cy="743.1" r="1.65"/><circle cx="667.0" cy="743.1" r="1.65"/><circle cx="689.5" cy="743.1" r="1.65"/><circle cx="704.4" cy="740.6" r="1.65"/><circle cx="717.9" cy="742.6" r="1.65"/><circle cx="722.4" cy="737.6" r="1.65"/><circle cx="622.0" cy="757.4" r="1.65"/><circle cx="686.2" cy="753.1" r="1.65"/><circle cx="692.0" cy="756.1" r="1.65"/><circle cx="694.9" cy="755.6" r="1.65"/><circle cx="704.4" cy="759.4" r="1.65"/><circle cx="717.4" cy="760.6" r="1.65"/><circle cx="727.4" cy="754.4" r="1.65"/><circle cx="687.5" cy="769.4" r="1.65"/><circle cx="691.2" cy="771.9" r="1.65"/><circle cx="686.2" cy="776.9" r="1.65"/><circle cx="700.4" cy="776.9" r="1.65"/><circle cx="706.9" cy="780.6" r="1.65"/><circle cx="722.4" cy="784.4" r="1.65"/><circle cx="665.0" cy="783.6" r="1.65"/><circle cx="649.5" cy="788.1" r="1.65"/><circle cx="653.7" cy="790.7" r="1.65"/><circle cx="677.5" cy="785.6" r="1.65"/><circle cx="688.7" cy="785.6" r="1.65"/><circle cx="683.7" cy="791.9" r="1.65"/><circle cx="682.5" cy="798.2" r="1.65"/><circle cx="631.2" cy="803.7" r="1.65"/><circle cx="626.2" cy="810.2" r="1.65"/><circle cx="615.7" cy="825.7" r="1.65"/><circle cx="699.9" cy="818.2" r="1.65"/><circle cx="610.5" cy="845.7" r="1.65"/><circle cx="597.5" cy="853.7" r="1.65"/><circle cx="627.5" cy="862.0" r="1.65"/><circle cx="601.2" cy="870.7" r="1.65"/><circle cx="734.9" cy="736.9" r="1.65"/><circle cx="739.9" cy="740.6" r="1.65"/><circle cx="747.4" cy="738.1" r="1.65"/><circle cx="752.4" cy="740.6" r="1.65"/><circle cx="759.9" cy="735.6" r="1.65"/><circle cx="767.4" cy="734.4" r="1.65"/><circle cx="771.2" cy="740.6" r="1.65"/><circle cx="773.7" cy="745.6" r="1.65"/><circle cx="779.9" cy="745.6" r="1.65"/><circle cx="788.6" cy="748.1" r="1.65"/><circle cx="737.4" cy="753.1" r="1.65"/><circle cx="744.9" cy="750.6" r="1.65"/><circle cx="753.7" cy="753.1" r="1.65"/><circle cx="762.4" cy="750.6" r="1.65"/><circle cx="767.4" cy="755.6" r="1.65"/><circle cx="782.4" cy="755.6" r="1.65"/><circle cx="731.2" cy="766.9" r="1.65"/><circle cx="737.4" cy="774.4" r="1.65"/><circle cx="743.7" cy="768.1" r="1.65"/><circle cx="749.9" cy="770.6" r="1.65"/><circle cx="757.4" cy="765.6" r="1.65"/><circle cx="762.4" cy="773.1" r="1.65"/><circle cx="768.7" cy="769.4" r="1.65"/><circle cx="777.4" cy="770.6" r="1.65"/><circle cx="784.9" cy="765.6" r="1.65"/><circle cx="742.4" cy="783.1" r="1.65"/><circle cx="749.9" cy="788.1" r="1.65"/><circle cx="757.4" cy="780.6" r="1.65"/><circle cx="763.7" cy="783.1" r="1.65"/><circle cx="772.4" cy="785.6" r="1.65"/><circle cx="779.9" cy="778.1" r="1.65"/><circle cx="787.4" cy="783.1" r="1.65"/><circle cx="731.2" cy="793.2" r="1.65"/><circle cx="737.4" cy="798.2" r="1.65"/><circle cx="747.4" cy="795.7" r="1.65"/><circle cx="752.4" cy="803.2" r="1.65"/><circle cx="759.9" cy="798.2" r="1.65"/><circle cx="767.4" cy="803.2" r="1.65"/><circle cx="774.9" cy="798.2" r="1.65"/><circle cx="783.7" cy="803.2" r="1.65"/><circle cx="789.9" cy="795.7" r="1.65"/><circle cx="722.4" cy="804.4" r="1.65"/><circle cx="729.9" cy="803.2" r="1.65"/><circle cx="737.4" cy="808.2" r="1.65"/><circle cx="742.4" cy="810.7" r="1.65"/><circle cx="753.7" cy="810.7" r="1.65"/><circle cx="762.4" cy="813.2" r="1.65"/><circle cx="772.4" cy="818.2" r="1.65"/><circle cx="777.4" cy="813.2" r="1.65"/><circle cx="784.9" cy="820.7" r="1.65"/><circle cx="787.4" cy="828.2" r="1.65"/><circle cx="781.2" cy="829.4" r="1.65"/><circle cx="849.7" cy="599.3" r="1.65"/><circle cx="890.2" cy="607.5" r="1.65"/><circle cx="877.7" cy="613.0" r="1.65"/><circle cx="930.2" cy="613.0" r="1.65"/><circle cx="795.2" cy="621.0" r="1.65"/><circle cx="799.2" cy="635.5" r="1.65"/><circle cx="863.5" cy="628.5" r="1.65"/><circle cx="867.2" cy="638.5" r="1.65"/><circle cx="892.2" cy="626.8" r="1.65"/><circle cx="902.2" cy="628.0" r="1.65"/><circle cx="908.4" cy="623.0" r="1.65"/><circle cx="922.2" cy="630.0" r="1.65"/><circle cx="977.2" cy="631.0" r="1.65"/><circle cx="891.4" cy="636.8" r="1.65"/><circle cx="903.4" cy="636.8" r="1.65"/><circle cx="893.4" cy="644.3" r="1.65"/><circle cx="906.4" cy="644.3" r="1.65"/><circle cx="912.2" cy="646.0" r="1.65"/><circle cx="897.2" cy="651.0" r="1.65"/><circle cx="873.5" cy="655.0" r="1.65"/><circle cx="879.7" cy="657.6" r="1.65"/><circle cx="890.2" cy="658.1" r="1.65"/><circle cx="909.7" cy="654.3" r="1.65"/><circle cx="927.2" cy="648.5" r="1.65"/><circle cx="927.9" cy="658.1" r="1.65"/><circle cx="824.7" cy="659.3" r="1.65"/><circle cx="859.7" cy="665.6" r="1.65"/><circle cx="947.2" cy="657.6" r="1.65"/><circle cx="944.7" cy="661.8" r="1.65"/><circle cx="940.9" cy="668.1" r="1.65"/><circle cx="952.2" cy="671.8" r="1.65"/><circle cx="969.2" cy="671.1" r="1.65"/><circle cx="849.7" cy="671.1" r="1.65"/><circle cx="905.4" cy="669.3" r="1.65"/><circle cx="912.2" cy="667.6" r="1.65"/><circle cx="915.9" cy="666.8" r="1.65"/><circle cx="844.7" cy="679.3" r="1.65"/><circle cx="909.7" cy="678.6" r="1.65"/><circle cx="928.4" cy="681.1" r="1.65"/><circle cx="841.0" cy="686.1" r="1.65"/><circle cx="854.7" cy="685.1" r="1.65"/><circle cx="881.5" cy="683.1" r="1.65"/><circle cx="891.4" cy="686.3" r="1.65"/><circle cx="874.7" cy="691.1" r="1.65"/><circle cx="907.2" cy="691.8" r="1.65"/><circle cx="959.7" cy="689.3" r="1.65"/><circle cx="829.7" cy="691.8" r="1.65"/><circle cx="823.5" cy="695.6" r="1.65"/><circle cx="833.5" cy="697.6" r="1.65"/><circle cx="847.2" cy="691.1" r="1.65"/><circle cx="846.0" cy="698.6" r="1.65"/><circle cx="899.7" cy="697.6" r="1.65"/><circle cx="976.7" cy="697.6" r="1.65"/><circle cx="814.2" cy="707.6" r="1.65"/><circle cx="824.7" cy="706.1" r="1.65"/><circle cx="832.2" cy="708.1" r="1.65"/><circle cx="838.5" cy="705.6" r="1.65"/><circle cx="857.2" cy="706.8" r="1.65"/><circle cx="890.9" cy="709.3" r="1.65"/><circle cx="900.9" cy="707.6" r="1.65"/><circle cx="967.7" cy="710.6" r="1.65"/><circle cx="802.2" cy="711.8" r="1.65"/><circle cx="853.5" cy="713.6" r="1.65"/><circle cx="786.0" cy="720.1" r="1.65"/><circle cx="792.8" cy="717.6" r="1.65"/><circle cx="808.5" cy="718.1" r="1.65"/><circle cx="814.7" cy="721.8" r="1.65"/><circle cx="889.7" cy="719.3" r="1.65"/><circle cx="883.5" cy="724.4" r="1.65"/><circle cx="961.7" cy="724.4" r="1.65"/><circle cx="980.9" cy="729.4" r="1.65"/><circle cx="899.7" cy="735.6" r="1.65"/><circle cx="868.5" cy="740.1" r="1.65"/><circle cx="787.3" cy="726.9" r="1.65"/><circle cx="793.5" cy="730.6" r="1.65"/><circle cx="801.0" cy="734.4" r="1.65"/><circle cx="809.7" cy="734.4" r="1.65"/><circle cx="816.0" cy="738.1" r="1.65"/><circle cx="826.0" cy="726.9" r="1.65"/><circle cx="827.2" cy="735.6" r="1.65"/><circle cx="791.0" cy="739.4" r="1.65"/><circle cx="799.7" cy="743.1" r="1.65"/><circle cx="828.5" cy="746.9" r="1.65"/><circle cx="834.7" cy="746.9" r="1.65"/><circle cx="859.7" cy="751.9" r="1.65"/><circle cx="867.2" cy="753.1" r="1.65"/><circle cx="787.3" cy="748.1" r="1.65"/><circle cx="797.2" cy="756.9" r="1.65"/><circle cx="816.0" cy="756.9" r="1.65"/><circle cx="826.0" cy="754.4" r="1.65"/><circle cx="833.5" cy="755.6" r="1.65"/><circle cx="842.2" cy="754.4" r="1.65"/><circle cx="853.5" cy="755.6" r="1.65"/><circle cx="871.0" cy="763.1" r="1.65"/><circle cx="789.8" cy="763.1" r="1.65"/><circle cx="802.2" cy="770.6" r="1.65"/><circle cx="809.7" cy="768.1" r="1.65"/><circle cx="819.7" cy="766.9" r="1.65"/><circle cx="836.0" cy="766.9" r="1.65"/><circle cx="841.0" cy="763.1" r="1.65"/><circle cx="858.5" cy="763.1" r="1.65"/><circle cx="864.7" cy="766.9" r="1.65"/><circle cx="868.5" cy="770.6" r="1.65"/><circle cx="791.0" cy="773.1" r="1.65"/><circle cx="818.5" cy="774.4" r="1.65"/><circle cx="839.7" cy="770.6" r="1.65"/><circle cx="857.2" cy="774.4" r="1.65"/><circle cx="869.7" cy="775.6" r="1.65"/><circle cx="895.9" cy="775.6" r="1.65"/><circle cx="895.9" cy="780.6" r="1.65"/><circle cx="787.3" cy="781.9" r="1.65"/><circle cx="801.0" cy="780.6" r="1.65"/><circle cx="807.2" cy="784.4" r="1.65"/><circle cx="841.0" cy="780.6" r="1.65"/><circle cx="846.0" cy="781.9" r="1.65"/><circle cx="853.5" cy="786.9" r="1.65"/><circle cx="863.5" cy="781.9" r="1.65"/><circle cx="867.2" cy="788.1" r="1.65"/><circle cx="872.2" cy="788.1" r="1.65"/><circle cx="786.0" cy="788.1" r="1.65"/><circle cx="793.5" cy="788.1" r="1.65"/><circle cx="817.2" cy="788.1" r="1.65"/><circle cx="823.5" cy="788.1" r="1.65"/><circle cx="827.2" cy="795.7" r="1.65"/><circle cx="819.7" cy="794.4" r="1.65"/><circle cx="849.7" cy="798.2" r="1.65"/><circle cx="864.7" cy="798.2" r="1.65"/><circle cx="876.0" cy="798.2" r="1.65"/><circle cx="879.7" cy="803.2" r="1.65"/><circle cx="871.0" cy="803.2" r="1.65"/><circle cx="863.5" cy="804.4" r="1.65"/><circle cx="847.2" cy="803.2" r="1.65"/><circle cx="833.5" cy="803.2" r="1.65"/><circle cx="814.7" cy="803.2" r="1.65"/><circle cx="807.2" cy="798.2" r="1.65"/><circle cx="801.0" cy="800.7" r="1.65"/><circle cx="789.8" cy="801.9" r="1.65"/><circle cx="784.8" cy="808.2" r="1.65"/><circle cx="794.7" cy="810.7" r="1.65"/><circle cx="802.2" cy="808.2" r="1.65"/><circle cx="814.7" cy="809.4" r="1.65"/><circle cx="823.5" cy="808.2" r="1.65"/><circle cx="861.0" cy="809.4" r="1.65"/><circle cx="928.4" cy="788.1" r="1.65"/><circle cx="938.4" cy="801.2" r="1.65"/><circle cx="794.7" cy="818.2" r="1.65"/><circle cx="787.3" cy="824.4" r="1.65"/><circle cx="801.0" cy="823.2" r="1.65"/><circle cx="793.5" cy="825.7" r="1.65"/><circle cx="784.8" cy="836.9" r="1.65"/><circle cx="796.0" cy="838.2" r="1.65"/><circle cx="754.7" cy="781.2" r="1.65"/><circle cx="755.3" cy="767.1" r="1.65"/><circle cx="741.2" cy="768.9" r="1.65"/><circle cx="782.0" cy="779.7" r="1.65"/><circle cx="780.5" cy="776.7" r="1.65"/><circle cx="767.7" cy="775.7" r="1.65"/><circle cx="726.5" cy="787.0" r="1.65"/><circle cx="769.9" cy="781.0" r="1.65"/><circle cx="726.0" cy="742.9" r="1.65"/><circle cx="742.0" cy="764.5" r="1.65"/><circle cx="765.9" cy="771.7" r="1.65"/><circle cx="770.2" cy="761.6" r="1.65"/><circle cx="766.0" cy="779.2" r="1.65"/><circle cx="746.6" cy="801.7" r="1.65"/><circle cx="770.9" cy="792.8" r="1.65"/><circle cx="747.4" cy="759.9" r="1.65"/><circle cx="752.9" cy="770.7" r="1.65"/><circle cx="772.4" cy="776.7" r="1.65"/><circle cx="750.8" cy="756.2" r="1.65"/><circle cx="749.4" cy="793.3" r="1.65"/><circle cx="743.6" cy="776.7" r="1.65"/><circle cx="768.3" cy="747.2" r="1.65"/><circle cx="760.8" cy="794.7" r="1.65"/><circle cx="719.5" cy="767.0" r="1.65"/><circle cx="757.7" cy="758.6" r="1.65"/><circle cx="769.7" cy="771.4" r="1.65"/><circle cx="730.5" cy="786.6" r="1.65"/><circle cx="773.2" cy="788.6" r="1.65"/><circle cx="788.6" cy="778.7" r="1.65"/><circle cx="762.2" cy="750.4" r="1.65"/><circle cx="772.1" cy="762.1" r="1.65"/><circle cx="750.7" cy="751.0" r="1.65"/><circle cx="740.5" cy="763.5" r="1.65"/><circle cx="785.5" cy="738.0" r="1.65"/><circle cx="730.7" cy="776.6" r="1.65"/><circle cx="788.6" cy="782.3" r="1.65"/><circle cx="721.8" cy="729.7" r="1.65"/><circle cx="766.9" cy="760.0" r="1.65"/><circle cx="737.4" cy="789.1" r="1.65"/><circle cx="781.8" cy="775.2" r="1.65"/><circle cx="764.7" cy="779.9" r="1.65"/><circle cx="791.6" cy="783.0" r="1.65"/><circle cx="770.1" cy="781.8" r="1.65"/><circle cx="728.5" cy="794.3" r="1.65"/><circle cx="778.9" cy="781.5" r="1.65"/><circle cx="720.4" cy="761.7" r="1.65"/><circle cx="776.6" cy="741.7" r="1.65"/><circle cx="756.1" cy="789.8" r="1.65"/><circle cx="733.6" cy="799.9" r="1.65"/><circle cx="770.8" cy="769.9" r="1.65"/><circle cx="766.3" cy="783.5" r="1.65"/><circle cx="762.2" cy="792.0" r="1.65"/><circle cx="746.6" cy="765.4" r="1.65"/><circle cx="780.6" cy="773.0" r="1.65"/><circle cx="742.2" cy="788.6" r="1.65"/><circle cx="789.1" cy="764.9" r="1.65"/><circle cx="732.2" cy="770.2" r="1.65"/><circle cx="756.8" cy="767.4" r="1.65"/><circle cx="787.8" cy="755.0" r="1.65"/><circle cx="785.0" cy="750.9" r="1.65"/><circle cx="744.1" cy="783.2" r="1.65"/><circle cx="782.3" cy="787.1" r="1.65"/><circle cx="766.7" cy="774.9" r="1.65"/><circle cx="762.8" cy="782.3" r="1.65"/><circle cx="756.3" cy="777.2" r="1.65"/><circle cx="771.2" cy="772.5" r="1.65"/><circle cx="775.0" cy="782.1" r="1.65"/><circle cx="799.9" cy="778.0" r="1.65"/><circle cx="751.2" cy="766.2" r="1.65"/><circle cx="759.5" cy="788.2" r="1.65"/><circle cx="783.7" cy="806.9" r="1.65"/><circle cx="809.8" cy="765.6" r="1.65"/><circle cx="774.3" cy="804.9" r="1.65"/><circle cx="792.5" cy="804.8" r="1.65"/><circle cx="782.6" cy="810.7" r="1.65"/><circle cx="791.1" cy="794.2" r="1.65"/><circle cx="816.9" cy="806.5" r="1.65"/><circle cx="781.1" cy="800.1" r="1.65"/><circle cx="785.0" cy="800.6" r="1.65"/><circle cx="755.1" cy="794.7" r="1.65"/><circle cx="799.8" cy="785.1" r="1.65"/><circle cx="786.9" cy="814.8" r="1.65"/><circle cx="798.0" cy="822.4" r="1.65"/><circle cx="767.4" cy="796.6" r="1.65"/><circle cx="783.7" cy="810.2" r="1.65"/><circle cx="800.8" cy="763.9" r="1.65"/><circle cx="800.8" cy="781.2" r="1.65"/><circle cx="795.9" cy="780.6" r="1.65"/></g>
<polygon points="852.2,721.8 853.6,726.0 858.1,726.1 854.5,728.8 855.8,733.0 852.2,730.5 848.5,733.0 849.8,728.8 846.3,726.1 850.7,726.0" fill="#1a1a1a"/>
</g>
<rect x="592" y="596.5" width="389.5" height="291" fill="none" stroke="#222" stroke-width="1.3"/>
<clipPath id="hc3"><rect x="1037.5" y="597" width="389.5" height="290.5"/></clipPath>
<filter id="hb3" filterUnits="userSpaceOnUse" x="957.5" y="517" width="549.5" height="450.5"><feGaussianBlur stdDeviation="5.5"/></filter>
<filter id="hs3" filterUnits="userSpaceOnUse" x="957.5" y="517" width="549.5" height="450.5"><feGaussianBlur stdDeviation="2.8"/></filter>
<g clip-path="url(#hc3)">
<rect x="977.5" y="537" width="509.5" height="410.5" fill="#e41430"/>
<g filter="url(#hb3)">
<rect x="977.5" y="537" width="509.5" height="410.5" fill="#e41430"/>
<ellipse cx="1065.9" cy="709.7" rx="61.8" ry="148.2" fill="#2d2c76"/>
<ellipse cx="1127.7" cy="740.6" rx="27.8" ry="80.3" fill="#6f297e"/>
<ellipse cx="1103.0" cy="620.2" rx="40.2" ry="34.0" fill="#3f2d7e"/>
<ellipse cx="1112.3" cy="842.5" rx="34.0" ry="34.0" fill="#522c80"/>
<ellipse cx="1061.3" cy="842.5" rx="13.9" ry="27.8" fill="#822370"/>
<ellipse cx="1041.2" cy="870.3" rx="9.3" ry="6.8" fill="#ee132d"/>
<ellipse cx="1208.0" cy="626.3" rx="80.3" ry="32.4" fill="#991b5e"/>
<ellipse cx="1174.0" cy="597.9" rx="35.5" ry="13.0" fill="#f2332f"/>
<ellipse cx="1174.0" cy="595.5" rx="21.6" ry="6.8" fill="#f4562f"/>
<ellipse cx="1288.3" cy="614.0" rx="37.1" ry="21.6" fill="#c71939"/>
<ellipse cx="1211.1" cy="641.8" rx="24.7" ry="21.0" fill="#782677"/>
<ellipse cx="1208.0" cy="643.3" rx="8.6" ry="8.0" fill="#2d2c76"/>
<ellipse cx="1306.9" cy="635.6" rx="12.4" ry="17.0" fill="#522c80"/>
<ellipse cx="1376.4" cy="609.4" rx="10.8" ry="9.3" fill="#782677"/>
<ellipse cx="1291.4" cy="678.8" rx="21.6" ry="21.6" fill="#522c80"/>
<ellipse cx="1272.9" cy="692.7" rx="9.3" ry="7.7" fill="#292c73"/>
<ellipse cx="1327.9" cy="712.8" rx="12.4" ry="19.1" fill="#652b82"/>
<ellipse cx="1195.7" cy="760.7" rx="54.1" ry="29.3" fill="#6f297e"/>
<ellipse cx="1174.0" cy="737.5" rx="27.8" ry="15.4" fill="#2d2c76"/>
<ellipse cx="1137.0" cy="738.1" rx="8.6" ry="8.0" fill="#2d2c76"/>
<ellipse cx="1220.4" cy="765.3" rx="21.6" ry="14.2" fill="#302c78"/>
<ellipse cx="1195.7" cy="773.0" rx="13.9" ry="10.5" fill="#522c80"/>
<ellipse cx="1112.3" cy="827.0" rx="29.3" ry="29.3" fill="#302c78"/>
<ellipse cx="1149.3" cy="663.4" rx="18.5" ry="17.0" fill="#f3152c"/>
<ellipse cx="1198.8" cy="688.1" rx="26.3" ry="23.2" fill="#f2212e"/>
<ellipse cx="1198.8" cy="688.1" rx="10.8" ry="9.3" fill="#fdb041"/>
<ellipse cx="1158.6" cy="790.0" rx="23.2" ry="18.5" fill="#f3152c"/>
<ellipse cx="1245.1" cy="793.1" rx="21.6" ry="15.4" fill="#f31b2d"/>
<ellipse cx="1365.6" cy="725.1" rx="49.4" ry="43.2" fill="#f66630"/>
<ellipse cx="1356.3" cy="714.3" rx="30.9" ry="24.7" fill="#fdc448"/>
<ellipse cx="1353.2" cy="712.8" rx="17.0" ry="13.9" fill="#f0e758"/>
<ellipse cx="1381.0" cy="771.5" rx="34.0" ry="27.8" fill="#f3412f"/>
<ellipse cx="1235.8" cy="719.0" rx="12.4" ry="11.7" fill="#fdc448"/>
<ellipse cx="1263.6" cy="729.8" rx="15.4" ry="12.4" fill="#fdb041"/>
<ellipse cx="1283.7" cy="748.3" rx="13.9" ry="13.0" fill="#fdce4a"/>
<ellipse cx="1308.4" cy="766.8" rx="17.0" ry="18.5" fill="#fcd84c"/>
<ellipse cx="1297.6" cy="783.8" rx="13.9" ry="12.4" fill="#fdba44"/>
<ellipse cx="1254.4" cy="752.9" rx="18.5" ry="15.4" fill="#f66630"/>
<ellipse cx="1345.5" cy="638.7" rx="21.6" ry="21.6" fill="#f87632"/>
<ellipse cx="1343.9" cy="638.7" rx="11.7" ry="13.9" fill="#fcd84c"/>
<ellipse cx="1399.5" cy="629.4" rx="27.8" ry="24.7" fill="#c71939"/>
<ellipse cx="1391.8" cy="663.4" rx="21.6" ry="11.7" fill="#6f297e"/>
<ellipse cx="1416.5" cy="641.8" rx="20.1" ry="18.5" fill="#6f297e"/>
<ellipse cx="1423.6" cy="703.5" rx="9.3" ry="27.8" fill="#6f297e"/>
<ellipse cx="1421.2" cy="793.1" rx="15.4" ry="24.7" fill="#be1a3e"/>
<ellipse cx="1251.3" cy="814.7" rx="34.0" ry="24.7" fill="#f22d2f"/>
<ellipse cx="1242.0" cy="837.8" rx="7.7" ry="5.6" fill="#fa9038"/>
</g>
<g filter="url(#hs3)">
<ellipse cx="1149.9" cy="663.4" rx="4.9" ry="4.3" fill="#f66630"/>
<ellipse cx="1198.8" cy="688.7" rx="4.9" ry="4.0" fill="#fcd84c"/>
<ellipse cx="1352.6" cy="712.2" rx="9.3" ry="7.4" fill="#d5e399"/>
<ellipse cx="1343.9" cy="638.7" rx="6.2" ry="7.7" fill="#f6e652"/>
<ellipse cx="1208.0" cy="643.3" rx="4.9" ry="4.3" fill="#252a6d"/>
<ellipse cx="1306.9" cy="634.1" rx="4.9" ry="6.8" fill="#2d2c76"/>
<ellipse cx="1272.9" cy="692.7" rx="4.9" ry="4.0" fill="#252a6d"/>
<ellipse cx="1291.4" cy="672.7" rx="9.3" ry="9.3" fill="#342d7a"/>
<ellipse cx="1167.9" cy="785.4" rx="4.9" ry="4.0" fill="#fa9038"/>
<ellipse cx="1183.3" cy="759.7" rx="4.9" ry="3.7" fill="#f98434"/>
<ellipse cx="1138.5" cy="756.0" rx="4.3" ry="3.1" fill="#f66630"/>
<ellipse cx="1235.8" cy="719.0" rx="5.6" ry="5.6" fill="#fbe24e"/>
<ellipse cx="1308.4" cy="765.3" rx="7.4" ry="9.3" fill="#f6e652"/>
<ellipse cx="1283.7" cy="748.3" rx="5.6" ry="5.6" fill="#fbe24e"/>
<ellipse cx="1242.0" cy="836.9" rx="4.3" ry="3.1" fill="#fca63e"/>
<ellipse cx="1042.4" cy="868.7" rx="4.3" ry="3.1" fill="#f2212e"/>
<ellipse cx="1056.7" cy="845.6" rx="3.1" ry="3.1" fill="#f3152c"/>
<ellipse cx="1220.4" cy="765.3" rx="9.3" ry="5.6" fill="#292c73"/>
<ellipse cx="1171.0" cy="737.5" rx="12.4" ry="6.2" fill="#252a6d"/>
<ellipse cx="1328.5" cy="706.6" rx="4.9" ry="8.6" fill="#3f2d7e"/>
<ellipse cx="1376.4" cy="609.4" rx="4.9" ry="4.3" fill="#3f2d7e"/>
<ellipse cx="1208.0" cy="771.5" rx="4.3" ry="3.7" fill="#f2212e"/>
<ellipse cx="1195.7" cy="752.9" rx="4.3" ry="3.1" fill="#f3482f"/>
</g>
<polygon points="1037.5,874.6 1047.0,872.8 1058.6,871.2 1070.2,869.4 1081.7,864.3 1094.6,860.4 1110.1,855.3 1123.0,850.2 1129.4,848.9 1132.0,842.5 1138.4,834.7 1146.2,825.7 1155.1,818.0 1164.1,811.5 1174.4,809.7 1184.7,811.0 1195.0,815.4 1205.3,821.8 1215.7,829.6 1220.8,837.3 1222.9,845.0 1229.8,848.9 1238.7,845.0 1249.1,842.5 1255.5,839.9 1254.2,832.1 1249.1,828.3 1254.2,823.1 1263.2,819.3 1269.7,814.1 1280.0,811.0 1292.9,811.0 1308.3,812.8 1323.7,811.5 1336.6,808.4 1352.0,807.1 1367.5,809.0 1380.4,812.0 1390.6,810.2 1403.5,810.2 1413.8,811.5 1428.0,810.2 1432.0,892.5 1032.5,892.5" fill="#9fd3ec" stroke="#1c1c1c" stroke-width="1.3" stroke-linejoin="round"/>
<path d="M1248.2 828.6l3 -3l3 1l2 -3l3 1l-2 3l-4 2l-2 3l-3 0z" fill="none" stroke="#1c1c1c" stroke-width="1"/>
<g fill="#1a1a1a" fill-opacity="0.88"><circle cx="1050.0" cy="608.0" r="1.65"/><circle cx="1135.0" cy="628.0" r="1.65"/><circle cx="1107.5" cy="638.5" r="1.65"/><circle cx="1161.9" cy="645.7" r="1.65"/><circle cx="1208.7" cy="646.5" r="1.65"/><circle cx="1102.7" cy="658.4" r="1.65"/><circle cx="1148.2" cy="654.4" r="1.65"/><circle cx="1149.9" cy="663.4" r="1.65"/><circle cx="1115.0" cy="670.9" r="1.65"/><circle cx="1161.7" cy="672.9" r="1.65"/><circle cx="1084.7" cy="677.7" r="1.65"/><circle cx="1061.2" cy="693.9" r="1.65"/><circle cx="1198.9" cy="689.2" r="1.65"/><circle cx="1210.9" cy="713.4" r="1.65"/><circle cx="1048.7" cy="725.9" r="1.65"/><circle cx="1231.2" cy="720.6" r="1.65"/><circle cx="1211.9" cy="727.4" r="1.65"/><circle cx="1096.7" cy="739.4" r="1.65"/><circle cx="1116.7" cy="737.6" r="1.65"/><circle cx="1108.0" cy="743.4" r="1.65"/><circle cx="1112.5" cy="743.4" r="1.65"/><circle cx="1135.0" cy="743.4" r="1.65"/><circle cx="1149.9" cy="740.9" r="1.65"/><circle cx="1163.4" cy="742.9" r="1.65"/><circle cx="1167.9" cy="737.9" r="1.65"/><circle cx="1067.5" cy="757.6" r="1.65"/><circle cx="1131.7" cy="753.4" r="1.65"/><circle cx="1137.5" cy="756.3" r="1.65"/><circle cx="1140.4" cy="755.9" r="1.65"/><circle cx="1149.9" cy="759.6" r="1.65"/><circle cx="1162.9" cy="760.8" r="1.65"/><circle cx="1172.9" cy="754.6" r="1.65"/><circle cx="1133.0" cy="769.6" r="1.65"/><circle cx="1136.7" cy="772.1" r="1.65"/><circle cx="1131.7" cy="777.1" r="1.65"/><circle cx="1145.9" cy="777.1" r="1.65"/><circle cx="1152.4" cy="780.8" r="1.65"/><circle cx="1167.9" cy="784.6" r="1.65"/><circle cx="1110.5" cy="783.8" r="1.65"/><circle cx="1095.0" cy="788.3" r="1.65"/><circle cx="1099.2" cy="790.8" r="1.65"/><circle cx="1123.0" cy="785.8" r="1.65"/><circle cx="1134.2" cy="785.8" r="1.65"/><circle cx="1129.2" cy="792.1" r="1.65"/><circle cx="1128.0" cy="798.3" r="1.65"/><circle cx="1076.7" cy="803.8" r="1.65"/><circle cx="1071.7" cy="810.3" r="1.65"/><circle cx="1061.2" cy="825.8" r="1.65"/><circle cx="1145.4" cy="818.3" r="1.65"/><circle cx="1056.0" cy="845.8" r="1.65"/><circle cx="1043.0" cy="853.8" r="1.65"/><circle cx="1073.0" cy="862.0" r="1.65"/><circle cx="1046.7" cy="870.7" r="1.65"/><circle cx="1180.4" cy="737.1" r="1.65"/><circle cx="1185.4" cy="740.9" r="1.65"/><circle cx="1192.9" cy="738.4" r="1.65"/><circle cx="1197.9" cy="740.9" r="1.65"/><circle cx="1205.4" cy="735.9" r="1.65"/><circle cx="1212.9" cy="734.6" r="1.65"/><circle cx="1216.7" cy="740.9" r="1.65"/><circle cx="1219.2" cy="745.9" r="1.65"/><circle cx="1225.4" cy="745.9" r="1.65"/><circle cx="1234.1" cy="748.4" r="1.65"/><circle cx="1182.9" cy="753.4" r="1.65"/><circle cx="1190.4" cy="750.9" r="1.65"/><circle cx="1199.2" cy="753.4" r="1.65"/><circle cx="1207.9" cy="750.9" r="1.65"/><circle cx="1212.9" cy="755.9" r="1.65"/><circle cx="1227.9" cy="755.9" r="1.65"/><circle cx="1176.7" cy="767.1" r="1.65"/><circle cx="1182.9" cy="774.6" r="1.65"/><circle cx="1189.2" cy="768.3" r="1.65"/><circle cx="1195.4" cy="770.8" r="1.65"/><circle cx="1202.9" cy="765.8" r="1.65"/><circle cx="1207.9" cy="773.3" r="1.65"/><circle cx="1214.2" cy="769.6" r="1.65"/><circle cx="1222.9" cy="770.8" r="1.65"/><circle cx="1230.4" cy="765.8" r="1.65"/><circle cx="1187.9" cy="783.3" r="1.65"/><circle cx="1195.4" cy="788.3" r="1.65"/><circle cx="1202.9" cy="780.8" r="1.65"/><circle cx="1209.2" cy="783.3" r="1.65"/><circle cx="1217.9" cy="785.8" r="1.65"/><circle cx="1225.4" cy="778.3" r="1.65"/><circle cx="1232.9" cy="783.3" r="1.65"/><circle cx="1176.7" cy="793.3" r="1.65"/><circle cx="1182.9" cy="798.3" r="1.65"/><circle cx="1192.9" cy="795.8" r="1.65"/><circle cx="1197.9" cy="803.3" r="1.65"/><circle cx="1205.4" cy="798.3" r="1.65"/><circle cx="1212.9" cy="803.3" r="1.65"/><circle cx="1220.4" cy="798.3" r="1.65"/><circle cx="1229.2" cy="803.3" r="1.65"/><circle cx="1235.4" cy="795.8" r="1.65"/><circle cx="1167.9" cy="804.6" r="1.65"/><circle cx="1175.4" cy="803.3" r="1.65"/><circle cx="1182.9" cy="808.3" r="1.65"/><circle cx="1187.9" cy="810.8" r="1.65"/><circle cx="1199.2" cy="810.8" r="1.65"/><circle cx="1207.9" cy="813.3" r="1.65"/><circle cx="1217.9" cy="818.3" r="1.65"/><circle cx="1222.9" cy="813.3" r="1.65"/><circle cx="1230.4" cy="820.8" r="1.65"/><circle cx="1232.9" cy="828.3" r="1.65"/><circle cx="1226.7" cy="829.5" r="1.65"/><circle cx="1295.2" cy="599.8" r="1.65"/><circle cx="1335.7" cy="608.0" r="1.65"/><circle cx="1323.2" cy="613.5" r="1.65"/><circle cx="1375.7" cy="613.5" r="1.65"/><circle cx="1240.7" cy="621.5" r="1.65"/><circle cx="1244.7" cy="636.0" r="1.65"/><circle cx="1309.0" cy="629.0" r="1.65"/><circle cx="1312.7" cy="639.0" r="1.65"/><circle cx="1337.7" cy="627.2" r="1.65"/><circle cx="1347.7" cy="628.5" r="1.65"/><circle cx="1353.9" cy="623.5" r="1.65"/><circle cx="1367.7" cy="630.5" r="1.65"/><circle cx="1422.7" cy="631.5" r="1.65"/><circle cx="1336.9" cy="637.2" r="1.65"/><circle cx="1348.9" cy="637.2" r="1.65"/><circle cx="1338.9" cy="644.7" r="1.65"/><circle cx="1351.9" cy="644.7" r="1.65"/><circle cx="1357.7" cy="646.5" r="1.65"/><circle cx="1342.7" cy="651.5" r="1.65"/><circle cx="1319.0" cy="655.4" r="1.65"/><circle cx="1325.2" cy="657.9" r="1.65"/><circle cx="1335.7" cy="658.4" r="1.65"/><circle cx="1355.2" cy="654.7" r="1.65"/><circle cx="1372.7" cy="649.0" r="1.65"/><circle cx="1373.4" cy="658.4" r="1.65"/><circle cx="1270.2" cy="659.7" r="1.65"/><circle cx="1305.2" cy="665.9" r="1.65"/><circle cx="1392.7" cy="657.9" r="1.65"/><circle cx="1390.2" cy="662.2" r="1.65"/><circle cx="1386.4" cy="668.4" r="1.65"/><circle cx="1397.7" cy="672.2" r="1.65"/><circle cx="1414.7" cy="671.4" r="1.65"/><circle cx="1295.2" cy="671.4" r="1.65"/><circle cx="1350.9" cy="669.7" r="1.65"/><circle cx="1357.7" cy="667.9" r="1.65"/><circle cx="1361.4" cy="667.2" r="1.65"/><circle cx="1290.2" cy="679.7" r="1.65"/><circle cx="1355.2" cy="678.9" r="1.65"/><circle cx="1373.9" cy="681.4" r="1.65"/><circle cx="1286.5" cy="686.4" r="1.65"/><circle cx="1300.2" cy="685.4" r="1.65"/><circle cx="1327.0" cy="683.4" r="1.65"/><circle cx="1336.9" cy="686.7" r="1.65"/><circle cx="1320.2" cy="691.4" r="1.65"/><circle cx="1352.7" cy="692.2" r="1.65"/><circle cx="1405.2" cy="689.7" r="1.65"/><circle cx="1275.2" cy="692.2" r="1.65"/><circle cx="1269.0" cy="695.9" r="1.65"/><circle cx="1279.0" cy="697.9" r="1.65"/><circle cx="1292.7" cy="691.4" r="1.65"/><circle cx="1291.5" cy="698.9" r="1.65"/><circle cx="1345.2" cy="697.9" r="1.65"/><circle cx="1422.2" cy="697.9" r="1.65"/><circle cx="1259.7" cy="707.9" r="1.65"/><circle cx="1270.2" cy="706.4" r="1.65"/><circle cx="1277.7" cy="708.4" r="1.65"/><circle cx="1284.0" cy="705.9" r="1.65"/><circle cx="1302.7" cy="707.1" r="1.65"/><circle cx="1336.4" cy="709.6" r="1.65"/><circle cx="1346.4" cy="707.9" r="1.65"/><circle cx="1413.2" cy="710.9" r="1.65"/><circle cx="1247.7" cy="712.1" r="1.65"/><circle cx="1299.0" cy="713.9" r="1.65"/><circle cx="1231.5" cy="720.4" r="1.65"/><circle cx="1238.3" cy="717.9" r="1.65"/><circle cx="1254.0" cy="718.4" r="1.65"/><circle cx="1260.2" cy="722.1" r="1.65"/><circle cx="1335.2" cy="719.6" r="1.65"/><circle cx="1329.0" cy="724.6" r="1.65"/><circle cx="1407.2" cy="724.6" r="1.65"/><circle cx="1426.4" cy="729.6" r="1.65"/><circle cx="1345.2" cy="735.9" r="1.65"/><circle cx="1314.0" cy="740.4" r="1.65"/><circle cx="1232.8" cy="727.1" r="1.65"/><circle cx="1239.0" cy="730.9" r="1.65"/><circle cx="1246.5" cy="734.6" r="1.65"/><circle cx="1255.2" cy="734.6" r="1.65"/><circle cx="1261.5" cy="738.4" r="1.65"/><circle cx="1271.5" cy="727.1" r="1.65"/><circle cx="1272.7" cy="735.9" r="1.65"/><circle cx="1236.5" cy="739.6" r="1.65"/><circle cx="1245.2" cy="743.4" r="1.65"/><circle cx="1274.0" cy="747.1" r="1.65"/><circle cx="1280.2" cy="747.1" r="1.65"/><circle cx="1305.2" cy="752.1" r="1.65"/><circle cx="1312.7" cy="753.4" r="1.65"/><circle cx="1232.8" cy="748.4" r="1.65"/><circle cx="1242.7" cy="757.1" r="1.65"/><circle cx="1261.5" cy="757.1" r="1.65"/><circle cx="1271.5" cy="754.6" r="1.65"/><circle cx="1279.0" cy="755.9" r="1.65"/><circle cx="1287.7" cy="754.6" r="1.65"/><circle cx="1299.0" cy="755.9" r="1.65"/><circle cx="1316.5" cy="763.3" r="1.65"/><circle cx="1235.3" cy="763.3" r="1.65"/><circle cx="1247.7" cy="770.8" r="1.65"/><circle cx="1255.2" cy="768.3" r="1.65"/><circle cx="1265.2" cy="767.1" r="1.65"/><circle cx="1281.5" cy="767.1" r="1.65"/><circle cx="1286.5" cy="763.3" r="1.65"/><circle cx="1304.0" cy="763.3" r="1.65"/><circle cx="1310.2" cy="767.1" r="1.65"/><circle cx="1314.0" cy="770.8" r="1.65"/><circle cx="1236.5" cy="773.3" r="1.65"/><circle cx="1264.0" cy="774.6" r="1.65"/><circle cx="1285.2" cy="770.8" r="1.65"/><circle cx="1302.7" cy="774.6" r="1.65"/><circle cx="1315.2" cy="775.8" r="1.65"/><circle cx="1341.4" cy="775.8" r="1.65"/><circle cx="1341.4" cy="780.8" r="1.65"/><circle cx="1232.8" cy="782.1" r="1.65"/><circle cx="1246.5" cy="780.8" r="1.65"/><circle cx="1252.7" cy="784.6" r="1.65"/><circle cx="1286.5" cy="780.8" r="1.65"/><circle cx="1291.5" cy="782.1" r="1.65"/><circle cx="1299.0" cy="787.1" r="1.65"/><circle cx="1309.0" cy="782.1" r="1.65"/><circle cx="1312.7" cy="788.3" r="1.65"/><circle cx="1317.7" cy="788.3" r="1.65"/><circle cx="1231.5" cy="788.3" r="1.65"/><circle cx="1239.0" cy="788.3" r="1.65"/><circle cx="1262.7" cy="788.3" r="1.65"/><circle cx="1269.0" cy="788.3" r="1.65"/><circle cx="1272.7" cy="795.8" r="1.65"/><circle cx="1265.2" cy="794.6" r="1.65"/><circle cx="1295.2" cy="798.3" r="1.65"/><circle cx="1310.2" cy="798.3" r="1.65"/><circle cx="1321.5" cy="798.3" r="1.65"/><circle cx="1325.2" cy="803.3" r="1.65"/><circle cx="1316.5" cy="803.3" r="1.65"/><circle cx="1309.0" cy="804.6" r="1.65"/><circle cx="1292.7" cy="803.3" r="1.65"/><circle cx="1279.0" cy="803.3" r="1.65"/><circle cx="1260.2" cy="803.3" r="1.65"/><circle cx="1252.7" cy="798.3" r="1.65"/><circle cx="1246.5" cy="800.8" r="1.65"/><circle cx="1235.3" cy="802.1" r="1.65"/><circle cx="1230.3" cy="808.3" r="1.65"/><circle cx="1240.2" cy="810.8" r="1.65"/><circle cx="1247.7" cy="808.3" r="1.65"/><circle cx="1260.2" cy="809.5" r="1.65"/><circle cx="1269.0" cy="808.3" r="1.65"/><circle cx="1306.5" cy="809.5" r="1.65"/><circle cx="1373.9" cy="788.3" r="1.65"/><circle cx="1383.9" cy="801.3" r="1.65"/><circle cx="1240.2" cy="818.3" r="1.65"/><circle cx="1232.8" cy="824.5" r="1.65"/><circle cx="1246.5" cy="823.3" r="1.65"/><circle cx="1239.0" cy="825.8" r="1.65"/><circle cx="1230.3" cy="837.0" r="1.65"/><circle cx="1241.5" cy="838.3" r="1.65"/><circle cx="1200.2" cy="781.4" r="1.65"/><circle cx="1200.8" cy="767.4" r="1.65"/><circle cx="1186.7" cy="769.1" r="1.65"/><circle cx="1227.5" cy="779.9" r="1.65"/><circle cx="1226.0" cy="776.9" r="1.65"/><circle cx="1213.2" cy="775.8" r="1.65"/><circle cx="1172.0" cy="787.2" r="1.65"/><circle cx="1215.4" cy="781.2" r="1.65"/><circle cx="1171.5" cy="743.1" r="1.65"/><circle cx="1187.5" cy="764.8" r="1.65"/><circle cx="1211.4" cy="771.9" r="1.65"/><circle cx="1215.7" cy="761.8" r="1.65"/><circle cx="1211.5" cy="779.4" r="1.65"/><circle cx="1192.1" cy="801.8" r="1.65"/><circle cx="1216.4" cy="793.0" r="1.65"/><circle cx="1192.9" cy="760.1" r="1.65"/><circle cx="1198.4" cy="770.9" r="1.65"/><circle cx="1217.9" cy="776.9" r="1.65"/><circle cx="1196.3" cy="756.5" r="1.65"/><circle cx="1194.9" cy="793.4" r="1.65"/><circle cx="1189.1" cy="776.9" r="1.65"/><circle cx="1213.8" cy="747.4" r="1.65"/><circle cx="1206.3" cy="794.9" r="1.65"/><circle cx="1165.0" cy="767.2" r="1.65"/><circle cx="1203.2" cy="758.8" r="1.65"/><circle cx="1215.2" cy="771.6" r="1.65"/><circle cx="1176.0" cy="786.7" r="1.65"/><circle cx="1218.7" cy="788.7" r="1.65"/><circle cx="1234.1" cy="778.8" r="1.65"/><circle cx="1207.7" cy="750.6" r="1.65"/><circle cx="1217.6" cy="762.3" r="1.65"/><circle cx="1196.2" cy="751.2" r="1.65"/><circle cx="1186.0" cy="763.7" r="1.65"/><circle cx="1231.0" cy="738.2" r="1.65"/><circle cx="1176.2" cy="776.8" r="1.65"/><circle cx="1234.1" cy="782.5" r="1.65"/><circle cx="1167.3" cy="730.0" r="1.65"/><circle cx="1212.4" cy="760.2" r="1.65"/><circle cx="1182.9" cy="789.3" r="1.65"/><circle cx="1227.3" cy="775.4" r="1.65"/><circle cx="1210.2" cy="780.1" r="1.65"/><circle cx="1237.1" cy="783.2" r="1.65"/><circle cx="1215.6" cy="782.0" r="1.65"/><circle cx="1174.0" cy="794.4" r="1.65"/><circle cx="1224.4" cy="781.7" r="1.65"/><circle cx="1165.9" cy="761.9" r="1.65"/><circle cx="1222.1" cy="742.0" r="1.65"/><circle cx="1201.6" cy="790.0" r="1.65"/><circle cx="1179.1" cy="800.0" r="1.65"/><circle cx="1216.3" cy="770.1" r="1.65"/><circle cx="1211.8" cy="783.7" r="1.65"/><circle cx="1207.7" cy="792.1" r="1.65"/><circle cx="1192.1" cy="765.7" r="1.65"/><circle cx="1226.1" cy="773.2" r="1.65"/><circle cx="1187.7" cy="788.8" r="1.65"/><circle cx="1234.6" cy="765.1" r="1.65"/><circle cx="1177.7" cy="770.4" r="1.65"/><circle cx="1202.3" cy="767.6" r="1.65"/><circle cx="1233.3" cy="755.3" r="1.65"/><circle cx="1230.5" cy="751.2" r="1.65"/><circle cx="1189.6" cy="783.4" r="1.65"/><circle cx="1227.8" cy="787.3" r="1.65"/><circle cx="1212.2" cy="775.1" r="1.65"/><circle cx="1208.3" cy="782.5" r="1.65"/><circle cx="1201.8" cy="777.4" r="1.65"/><circle cx="1216.7" cy="772.7" r="1.65"/><circle cx="1220.5" cy="782.3" r="1.65"/><circle cx="1245.4" cy="778.2" r="1.65"/><circle cx="1196.7" cy="766.4" r="1.65"/><circle cx="1205.0" cy="788.4" r="1.65"/><circle cx="1229.2" cy="807.0" r="1.65"/><circle cx="1255.3" cy="765.8" r="1.65"/><circle cx="1219.8" cy="805.1" r="1.65"/><circle cx="1238.0" cy="805.0" r="1.65"/><circle cx="1228.1" cy="810.8" r="1.65"/><circle cx="1236.6" cy="794.4" r="1.65"/><circle cx="1262.4" cy="806.6" r="1.65"/><circle cx="1226.6" cy="800.3" r="1.65"/><circle cx="1230.5" cy="800.8" r="1.65"/><circle cx="1200.6" cy="794.8" r="1.65"/><circle cx="1245.3" cy="785.3" r="1.65"/><circle cx="1232.4" cy="815.0" r="1.65"/><circle cx="1243.5" cy="822.5" r="1.65"/><circle cx="1212.9" cy="796.7" r="1.65"/><circle cx="1229.2" cy="810.4" r="1.65"/><circle cx="1246.3" cy="764.2" r="1.65"/><circle cx="1246.3" cy="781.4" r="1.65"/><circle cx="1241.4" cy="780.8" r="1.65"/></g>
<polygon points="1297.7,722.1 1299.1,726.3 1303.6,726.4 1300.0,729.0 1301.3,733.3 1297.7,730.8 1294.0,733.3 1295.3,729.0 1291.8,726.4 1296.2,726.3" fill="#1a1a1a"/>
</g>
<rect x="1037.5" y="597" width="389.5" height="290.5" fill="none" stroke="#222" stroke-width="1.3"/>
<g>
<text x="620.0" y="293.9" font-size="14" fill="#3a3a3a" text-anchor="middle" font-family='"Liberation Sans", sans-serif' textLength="48.5" lengthAdjust="spacingAndGlyphs" filter="url(#soft2)" stroke="#3a3a3a" stroke-width="0.8">CI.LDR</text>
<text x="620.0" y="311.3" font-size="14" fill="#3a3a3a" text-anchor="middle" font-family='"Liberation Sans", sans-serif' textLength="59.5" lengthAdjust="spacingAndGlyphs" filter="url(#soft2)" stroke="#3a3a3a" stroke-width="0.8">126.7 km</text>
<text x="620.0" y="331.9" font-size="14" fill="#3a3a3a" text-anchor="middle" font-family='"Liberation Sans", sans-serif' textLength="28.0" lengthAdjust="spacingAndGlyphs" filter="url(#soft2)" stroke="#3a3a3a" stroke-width="0.8">5.23</text>
<text x="620.0" y="351.3" font-size="14" fill="#3a3a3a" text-anchor="middle" font-family='"Liberation Sans", sans-serif' textLength="28.5" lengthAdjust="spacingAndGlyphs" filter="url(#soft2)" stroke="#3a3a3a" stroke-width="0.8">4.94</text>
<text x="619.5" y="431.9" font-size="14" fill="#3a3a3a" text-anchor="middle" font-family='"Liberation Sans", sans-serif' textLength="62.0" lengthAdjust="spacingAndGlyphs" filter="url(#soft2)" stroke="#3a3a3a" stroke-width="0.8">CE.13079</text>
<text x="619.5" y="449.5" font-size="14" fill="#3a3a3a" text-anchor="middle" font-family='"Liberation Sans", sans-serif' textLength="58.5" lengthAdjust="spacingAndGlyphs" filter="url(#soft2)" stroke="#3a3a3a" stroke-width="0.8">29.92 km</text>
<text x="619.5" y="470.0" font-size="14" fill="#3a3a3a" text-anchor="middle" font-family='"Liberation Sans", sans-serif' textLength="28.0" lengthAdjust="spacingAndGlyphs" filter="url(#soft2)" stroke="#3a3a3a" stroke-width="0.8">5.81</text>
<text x="619.5" y="487.5" font-size="14" fill="#3a3a3a" text-anchor="middle" font-family='"Liberation Sans", sans-serif' textLength="28.5" lengthAdjust="spacingAndGlyphs" filter="url(#soft2)" stroke="#3a3a3a" stroke-width="0.8">5.47</text>
<text x="696.6" y="247.5" font-size="21.5" fill="#111" text-anchor="start" font-family='"Liberation Sans", sans-serif' textLength="243.0" lengthAdjust="spacingAndGlyphs" >Class C: V<tspan font-size="14.5" dy="5.5">s30</tspan><tspan dy="-5.5"> = 385m/s</tspan></text>
<text x="696.6" y="550.4" font-size="21.5" fill="#111" text-anchor="start" font-family='"Liberation Sans", sans-serif' textLength="277.5" lengthAdjust="spacingAndGlyphs" >Class C/D : V<tspan font-size="14.5" dy="5.5">s30</tspan><tspan dy="-5.5"> = 365m/s</tspan></text>
<rect x="688.7" y="266.0" width="302.3" height="64.2" fill="#fff" stroke="#222" stroke-width="1.5"/>
<path d="M688.7 298.1 L689.2 298.1 L689.7 298.1 L690.1 298.1 L690.6 298.1 L691.1 298.1 L691.6 298.1 L692.0 298.1 L692.5 298.1 L693.0 298.1 L693.5 298.1 L693.9 298.1 L694.4 298.1 L694.9 298.1 L695.4 298.1 L695.8 298.1 L696.3 298.1 L696.8 298.1 L697.3 298.1 L697.7 298.1 L698.2 298.1 L698.7 298.1 L699.2 298.1 L699.6 298.1 L700.1 298.1 L700.6 298.1 L701.1 298.1 L701.5 298.1 L702.0 298.1 L702.5 298.1 L703.0 298.1 L703.4 298.1 L703.9 298.1 L704.4 298.1 L704.9 298.1 L705.3 298.1 L705.8 298.1 L706.3 298.1 L706.8 298.1 L707.2 298.1 L707.7 298.1 L708.2 298.1 L708.7 298.1 L709.1 298.1 L709.6 298.1 L710.1 298.1 L710.6 298.1 L711.0 298.1 L711.5 298.1 L712.0 298.1 L712.5 298.1 L712.9 298.1 L713.4 298.1 L713.9 298.2 L714.4 298.5 L714.8 298.7 L715.3 298.6 L715.8 296.9 L716.3 295.8 L716.7 295.8 L717.2 296.7 L717.7 297.0 L718.2 298.1 L718.6 299.4 L719.1 300.0 L719.6 298.5 L720.1 298.3 L720.5 297.3 L721.0 295.9 L721.5 297.7 L722.0 298.4 L722.4 299.5 L722.9 300.8 L723.4 300.0 L723.9 297.9 L724.3 297.2 L724.8 296.9 L725.3 296.7 L725.8 296.6 L726.2 296.0 L726.7 296.3 L727.2 296.7 L727.7 297.5 L728.1 299.1 L728.6 299.4 L729.1 299.4 L729.6 299.6 L730.0 298.0 L730.5 296.1 L731.0 296.8 L731.5 299.0 L731.9 300.2 L732.4 296.0 L732.9 298.8 L733.4 297.3 L733.8 295.5 L734.3 299.6 L734.8 296.9 L735.3 296.9 L735.7 297.4 L736.2 299.9 L736.7 299.2 L737.2 295.6 L737.6 297.9 L738.1 300.5 L738.6 297.7 L739.1 295.2 L739.5 298.2 L740.0 300.8 L740.5 298.6 L741.0 296.3 L741.4 299.2 L741.9 300.1 L742.4 298.2 L742.9 296.9 L743.3 300.6 L743.8 299.7 L744.3 296.8 L744.8 296.7 L745.2 298.7 L745.7 300.7 L746.2 298.4 L746.7 297.0 L747.1 296.4 L747.6 296.0 L748.1 299.1 L748.6 300.0 L749.0 299.9 L749.5 299.7 L750.0 299.8 L750.5 300.2 L750.9 299.9 L751.4 299.8 L751.9 299.7 L752.4 299.4 L752.8 298.5 L753.3 297.4 L753.8 295.9 L754.3 296.1 L754.7 296.5 L755.2 296.9 L755.7 299.8 L756.2 299.9 L756.6 298.9 L757.1 295.2 L757.6 297.6 L758.1 300.0 L758.5 298.1 L759.0 296.8 L759.5 296.5 L760.0 299.1 L760.4 299.2 L760.9 299.7 L761.4 300.4 L761.9 298.1 L762.3 296.6 L762.8 296.7 L763.3 300.9 L763.8 299.6 L764.2 298.6 L764.7 295.1 L765.2 297.0 L765.7 300.8 L766.1 297.9 L766.6 297.2 L767.1 298.8 L767.6 297.7 L768.0 296.7 L768.5 299.9 L769.0 299.5 L769.5 296.1 L769.9 298.6 L770.4 300.8 L770.9 296.1 L771.4 297.9 L771.8 301.0 L772.3 300.0 L772.8 296.5 L773.3 295.3 L773.7 299.3 L774.2 299.9 L774.7 299.8 L775.2 300.3 L775.6 296.9 L776.1 296.2 L776.6 296.7 L777.1 294.5 L777.5 296.7 L778.0 315.7 L778.5 314.6 L779.0 304.1 L779.4 274.2 L779.9 289.4 L780.4 304.5 L780.9 323.4 L781.3 299.7 L781.8 291.3 L782.3 276.6 L782.8 276.4 L783.2 298.8 L783.7 311.5 L784.2 308.8 L784.7 310.3 L785.1 319.9 L785.6 324.4 L786.1 325.7 L786.6 320.9 L787.0 311.1 L787.5 283.8 L788.0 271.9 L788.5 279.7 L788.9 275.0 L789.4 294.3 L789.9 324.1 L790.4 309.2 L790.8 300.8 L791.3 290.6 L791.8 315.6 L792.3 305.9 L792.7 291.1 L793.2 304.4 L793.7 319.5 L794.2 281.8 L794.6 322.6 L795.1 309.4 L795.6 274.9 L796.1 284.8 L796.5 319.1 L797.0 317.0 L797.5 296.6 L798.0 288.5 L798.4 301.3 L798.9 304.5 L799.4 301.2 L799.9 293.3 L800.3 290.4 L800.8 304.0 L801.3 306.2 L801.8 288.7 L802.2 292.5 L802.7 308.4 L803.2 305.3 L803.7 300.1 L804.1 287.3 L804.6 297.7 L805.1 307.7 L805.6 295.3 L806.0 289.9 L806.5 293.1 L807.0 301.7 L807.5 301.2 L807.9 304.3 L808.4 300.3 L808.9 297.3 L809.4 295.0 L809.8 293.1 L810.3 291.6 L810.8 290.8 L811.3 290.3 L811.7 291.1 L812.2 291.1 L812.7 289.8 L813.2 290.7 L813.6 299.2 L814.1 307.7 L814.6 303.0 L815.1 301.6 L815.5 291.9 L816.0 294.2 L816.5 296.5 L817.0 302.7 L817.4 300.3 L817.9 297.6 L818.4 293.7 L818.9 291.6 L819.3 295.3 L819.8 300.9 L820.3 305.7 L820.8 303.4 L821.2 294.0 L821.7 293.5 L822.2 291.8 L822.7 303.7 L823.1 301.8 L823.6 300.9 L824.1 294.5 L824.6 293.4 L825.0 296.9 L825.5 303.1 L826.0 291.4 L826.5 299.1 L826.9 307.2 L827.4 289.9 L827.9 303.6 L828.4 302.0 L828.8 292.4 L829.3 294.0 L829.8 303.3 L830.3 300.8 L830.7 299.3 L831.2 293.8 L831.7 295.2 L832.2 298.0 L832.6 299.4 L833.1 302.8 L833.6 300.8 L834.1 297.2 L834.5 294.5 L835.0 292.8 L835.5 294.8 L836.0 300.1 L836.4 301.4 L836.9 302.2 L837.4 303.0 L837.9 296.0 L838.3 293.7 L838.8 294.2 L839.3 295.8 L839.8 302.1 L840.2 300.3 L840.7 300.8 L841.2 300.8 L841.7 293.3 L842.1 289.7 L842.6 290.7 L843.1 294.5 L843.6 295.8 L844.0 296.0 L844.5 296.6 L845.0 297.0 L845.5 297.5 L845.9 299.1 L846.4 300.2 L846.9 303.7 L847.4 304.6 L847.8 301.0 L848.3 298.3 L848.8 297.3 L849.3 293.5 L849.7 296.8 L850.2 300.1 L850.7 302.7 L851.2 300.9 L851.6 295.4 L852.1 295.6 L852.6 300.0 L853.1 295.2 L853.5 296.9 L854.0 300.6 L854.5 298.4 L855.0 295.6 L855.4 296.5 L855.9 298.4 L856.4 300.1 L856.9 300.1 L857.3 296.9 L857.8 296.6 L858.3 299.6 L858.8 300.1 L859.2 295.6 L859.7 296.9 L860.2 300.6 L860.7 300.0 L861.1 298.8 L861.6 297.8 L862.1 299.7 L862.6 297.2 L863.0 299.3 L863.5 299.8 L864.0 297.0 L864.5 299.8 L864.9 300.1 L865.4 299.0 L865.9 296.2 L866.4 295.8 L866.8 297.0 L867.3 297.6 L867.8 298.9 L868.3 300.4 L868.7 301.0 L869.2 301.2 L869.7 300.3 L870.2 299.6 L870.6 299.2 L871.1 298.1 L871.6 297.9 L872.1 296.8 L872.5 295.4 L873.0 297.3 L873.5 299.0 L874.0 299.6 L874.4 300.4 L874.9 296.5 L875.4 296.3 L875.9 295.8 L876.3 297.7 L876.8 300.2 L877.3 299.6 L877.8 299.2 L878.2 297.0 L878.7 295.8 L879.2 296.3 L879.7 297.3 L880.1 298.0 L880.6 300.6 L881.1 300.2 L881.6 298.6 L882.0 297.7 L882.5 295.6 L883.0 298.5 L883.5 301.0 L883.9 298.0 L884.4 296.9 L884.9 296.1 L885.4 299.8 L885.8 300.1 L886.3 295.7 L886.8 299.7 L887.3 299.5 L887.7 298.7 L888.2 295.8 L888.7 298.2 L889.2 300.4 L889.6 296.5 L890.1 296.7 L890.6 299.6 L891.1 300.0 L891.5 296.3 L892.0 296.1 L892.5 299.5 L893.0 299.6 L893.4 299.2 L893.9 298.3 L894.4 296.0 L894.9 297.6 L895.3 300.4 L895.8 298.3 L896.3 297.6 L896.8 295.6 L897.2 299.0 L897.7 300.0 L898.2 299.2 L898.7 296.3 L899.1 296.5 L899.6 296.3 L900.1 300.3 L900.6 299.7 L901.0 299.7 L901.5 298.8 L902.0 297.6 L902.5 296.2 L902.9 296.1 L903.4 296.2 L903.9 296.6 L904.4 296.5 L904.8 296.7 L905.3 297.0 L905.8 296.9 L906.3 297.2 L906.7 297.6 L907.2 298.6 L907.7 300.5 L908.2 299.1 L908.6 298.5 L909.1 295.7 L909.6 297.9 L910.1 298.5 L910.5 299.1 L911.0 297.2 L911.5 296.6 L912.0 296.9 L912.4 299.2 L912.9 296.3 L913.4 297.3 L913.9 300.0 L914.3 299.1 L914.8 298.5 L915.3 295.7 L915.8 297.3 L916.2 299.0 L916.7 300.6 L917.2 297.5 L917.7 296.5 L918.1 296.5 L918.6 299.2 L919.1 299.1 L919.6 296.7 L920.0 299.5 L920.5 297.7 L921.0 297.7 L921.5 299.0 L921.9 297.9 L922.4 296.5 L922.9 299.5 L923.4 297.7 L923.8 296.7 L924.3 299.3 L924.8 299.9 L925.3 298.8 L925.7 296.5 L926.2 296.0 L926.7 297.1 L927.2 297.6 L927.6 297.6 L928.1 299.3 L928.6 300.2 L929.1 300.3 L929.5 299.6 L930.0 298.8 L930.5 298.4 L931.0 298.2 L931.4 296.6 L931.9 295.8 L932.4 298.3 L932.9 299.4 L933.3 300.3 L933.8 298.2 L934.3 297.3 L934.8 296.4 L935.2 298.1 L935.7 299.2 L936.2 299.2 L936.7 299.2 L937.1 297.6 L937.6 296.4 L938.1 296.9 L938.6 296.9 L939.0 297.3 L939.5 299.4 L940.0 300.3 L940.5 299.2 L940.9 298.7 L941.4 297.8 L941.9 296.4 L942.4 297.9 L942.8 298.5 L943.3 299.8 L943.8 297.9 L944.3 297.6 L944.7 299.0 L945.2 298.8 L945.7 296.6 L946.2 299.9 L946.6 299.2 L947.1 295.9 L947.6 299.8 L948.1 299.0 L948.5 296.5 L949.0 296.5 L949.5 298.4 L950.0 298.8 L950.4 299.8 L950.9 297.2 L951.4 297.1 L951.9 296.8 L952.3 299.4 L952.8 299.2 L953.3 296.6 L953.8 296.4 L954.2 297.2 L954.7 300.2 L955.2 298.6 L955.7 296.0 L956.1 297.9 L956.6 299.3 L957.1 297.4 L957.6 296.8 L958.0 297.0 L958.5 299.1 L959.0 299.3 L959.5 298.0 L959.9 296.8 L960.4 297.3 L960.9 297.1 L961.4 297.1 L961.8 297.8 L962.3 298.5 L962.8 298.8 L963.3 299.1 L963.7 299.4 L964.2 300.0 L964.7 300.1 L965.2 299.9 L965.6 299.6 L966.1 298.9 L966.6 298.6 L967.1 298.4 L967.6 297.0 L968.0 296.6 L968.5 298.1 L969.0 298.5 L969.5 299.9 L969.9 297.9 L970.4 297.3 L970.9 296.7 L971.4 299.1 L971.8 299.7 L972.3 296.7 L972.8 296.9 L973.3 298.0 L973.7 299.4 L974.2 298.6 L974.7 296.9 L975.2 297.8 L975.6 299.6 L976.1 298.9 L976.6 297.9 L977.1 296.5 L977.5 298.8 L978.0 299.9 L978.5 297.0 L979.0 298.7 L979.4 298.9 L979.9 296.3 L980.4 297.7 L980.9 298.3 L981.3 296.7 L981.8 299.9 L982.3 297.5 L982.8 296.9 L983.2 299.0 L983.7 299.1 L984.2 296.9 L984.7 297.4 L985.1 298.6 L985.6 299.4 L986.1 298.7 L986.6 298.5 L987.0 298.0 L987.5 296.7 L988.0 296.3 L988.5 296.6 L988.9 297.9 L989.4 298.1 L989.9 298.4 L990.4 299.4 L990.8 299.7" fill="none" stroke="#f0404e" stroke-width="1.3" stroke-linejoin="round" stroke-dasharray="1.6 1.3"/>
<path d="M688.7 298.1 L689.3 298.1 L689.8 298.1 L690.4 298.1 L690.9 298.1 L691.5 298.1 L692.1 298.1 L692.6 298.1 L693.2 298.1 L693.8 298.1 L694.3 298.1 L694.9 298.1 L695.4 298.1 L696.0 298.1 L696.6 298.1 L697.1 298.1 L697.7 298.1 L698.2 298.1 L698.8 298.1 L699.4 298.1 L699.9 298.1 L700.5 298.1 L701.1 298.1 L701.6 298.1 L702.2 298.1 L702.7 298.1 L703.3 298.1 L703.9 298.1 L704.4 298.1 L705.0 298.1 L705.5 298.1 L706.1 298.1 L706.7 298.1 L707.2 298.1 L707.8 298.1 L708.3 298.1 L708.9 298.1 L709.5 298.1 L710.0 298.1 L710.6 298.1 L711.2 298.1 L711.7 298.1 L712.3 298.1 L712.8 298.1 L713.4 298.1 L714.0 298.1 L714.5 298.1 L715.1 298.1 L715.6 298.1 L716.2 298.1 L716.8 298.1 L717.3 297.6 L717.9 299.3 L718.5 300.1 L719.0 300.0 L719.6 300.4 L720.1 299.5 L720.7 294.9 L721.3 296.8 L721.8 297.1 L722.4 300.9 L722.9 298.4 L723.5 294.9 L724.1 298.6 L724.6 299.2 L725.2 296.5 L725.8 295.2 L726.3 300.8 L726.9 296.0 L727.4 297.6 L728.0 300.5 L728.6 296.5 L729.1 298.1 L729.7 299.9 L730.2 297.8 L730.8 297.0 L731.4 298.5 L731.9 298.6 L732.5 298.0 L733.1 297.5 L733.6 297.4 L734.2 298.8 L734.7 298.6 L735.3 297.5 L735.9 297.5 L736.4 298.5 L737.0 298.4 L737.5 297.7 L738.1 297.8 L738.7 298.3 L739.2 298.9 L739.8 298.4 L740.4 297.6 L740.9 297.5 L741.5 297.5 L742.0 297.4 L742.6 297.3 L743.2 297.4 L743.7 297.3 L744.3 297.3 L744.8 297.3 L745.4 297.5 L746.0 297.8 L746.5 298.3 L747.1 298.7 L747.6 298.7 L748.2 298.6 L748.8 297.9 L749.3 297.7 L749.9 298.1 L750.5 299.0 L751.0 298.0 L751.6 297.2 L752.1 297.2 L752.7 298.2 L753.3 299.1 L753.8 298.0 L754.4 297.7 L754.9 297.4 L755.5 298.5 L756.1 298.8 L756.6 297.9 L757.2 297.3 L757.8 297.5 L758.3 298.5 L758.9 298.4 L759.4 297.1 L760.0 298.1 L760.6 299.2 L761.1 297.3 L761.7 298.1 L762.2 298.6 L762.8 298.1 L763.4 297.7 L763.9 297.8 L764.5 298.9 L765.1 298.6 L765.6 298.2 L766.2 297.2 L766.7 297.3 L767.3 297.7 L767.9 297.8 L768.4 297.9 L769.0 298.0 L769.5 298.6 L770.1 298.9 L770.7 298.9 L771.2 298.4 L771.8 298.0 L772.4 297.8 L772.9 297.2 L773.5 297.4 L774.0 298.5 L774.6 298.7 L775.2 299.0 L775.7 298.1 L776.3 297.5 L776.8 297.6 L777.4 297.4 L778.0 297.5 L778.5 297.6 L779.1 298.4 L779.6 298.8 L780.2 298.7 L780.8 298.7 L781.3 298.1 L781.9 297.2 L782.5 297.7 L783.0 298.3 L783.6 298.9 L784.1 292.4 L784.7 302.1 L785.3 294.2 L785.8 289.8 L786.4 301.6 L786.9 301.2 L787.5 289.5 L788.1 299.1 L788.6 304.2 L789.2 301.7 L789.8 293.2 L790.3 284.8 L790.9 293.1 L791.4 305.1 L792.0 312.3 L792.6 301.6 L793.1 293.8 L793.7 288.2 L794.2 302.7 L794.8 305.2 L795.4 292.3 L795.9 292.9 L796.5 305.3 L797.1 301.7 L797.6 297.1 L798.2 290.6 L798.7 293.9 L799.3 296.9 L799.9 299.4 L800.4 301.6 L801.0 303.1 L801.5 303.2 L802.1 302.7 L802.7 302.2 L803.2 302.8 L803.8 301.6 L804.4 301.6 L804.9 299.3 L805.5 298.2 L806.0 297.5 L806.6 295.3 L807.2 292.9 L807.7 295.3 L808.3 300.0 L808.8 302.5 L809.4 297.4 L810.0 296.1 L810.5 295.5 L811.1 298.0 L811.6 300.9 L812.2 300.4 L812.8 300.5 L813.3 295.3 L813.9 295.1 L814.5 296.5 L815.0 297.0 L815.6 302.0 L816.1 300.6 L816.7 298.4 L817.3 295.1 L817.8 298.5 L818.4 298.9 L818.9 295.8 L819.5 299.7 L820.1 296.5 L820.6 300.7 L821.2 298.6 L821.8 294.9 L822.3 296.6 L822.9 298.0 L823.4 300.6 L824.0 297.6 L824.6 297.1 L825.1 295.7 L825.7 296.6 L826.2 299.2 L826.8 299.1 L827.4 298.9 L827.9 299.9 L828.5 299.9 L829.1 297.0 L829.6 296.6 L830.2 296.6 L830.7 296.5 L831.3 297.0 L831.9 298.2 L832.4 299.4 L833.0 299.5 L833.5 298.9 L834.1 298.8 L834.7 297.9 L835.2 296.8 L835.8 296.5 L836.4 296.5 L836.9 297.0 L837.5 297.5 L838.0 297.6 L838.6 297.8 L839.2 298.7 L839.7 300.0 L840.3 298.9 L840.8 298.0 L841.4 297.5 L842.0 297.9 L842.5 298.4 L843.1 299.3 L843.7 298.4 L844.2 297.2 L844.8 297.2 L845.3 299.2 L845.9 299.0 L846.5 298.6 L847.0 296.5 L847.6 297.5 L848.1 299.7 L848.7 298.3 L849.3 296.6 L849.8 298.4 L850.4 299.2 L850.9 297.7 L851.5 297.3 L852.1 297.2 L852.6 298.9 L853.2 299.2 L853.8 297.3 L854.3 297.1 L854.9 297.3 L855.4 299.0 L856.0 298.5 L856.6 296.9 L857.1 296.9 L857.7 298.1 L858.2 298.3 L858.8 299.0 L859.4 299.4 L859.9 298.6 L860.5 298.4 L861.1 298.1 L861.6 297.9 L862.2 297.8 L862.7 297.7 L863.3 297.7 L863.9 297.7 L864.4 297.2 L865.0 297.0 L865.5 298.4 L866.1 298.6 L866.7 298.5 L867.2 299.0 L867.8 298.3 L868.4 297.2 L868.9 297.2 L869.5 298.4 L870.0 299.3 L870.6 298.7 L871.2 298.6 L871.7 297.4 L872.3 296.9 L872.8 297.5 L873.4 298.0 L874.0 299.1 L874.5 298.5 L875.1 298.0 L875.7 297.1 L876.2 297.7 L876.8 298.5 L877.3 297.8 L877.9 297.9 L878.5 298.6 L879.0 297.6 L879.6 298.9 L880.1 297.4 L880.7 298.2 L881.3 298.4 L881.8 298.7 L882.4 297.7 L882.9 297.3 L883.5 298.4 L884.1 298.7 L884.6 298.8 L885.2 298.2 L885.8 297.2 L886.3 297.6 L886.9 297.5 L887.4 298.1 L888.0 299.0 L888.6 298.9 L889.1 298.5 L889.7 298.0 L890.2 297.3 L890.8 297.6 L891.4 298.1 L891.9 298.5 L892.5 299.0 L893.1 299.1 L893.6 298.1 L894.2 297.8 L894.7 297.8 L895.3 297.7 L895.9 297.5 L896.4 297.4 L897.0 297.2 L897.5 297.3 L898.1 297.4 L898.7 297.8 L899.2 298.2 L899.8 298.5 L900.4 298.7 L900.9 298.3 L901.5 297.6 L902.0 297.8 L902.6 298.6 L903.2 297.1 L903.7 298.7 L904.3 298.1 L904.8 297.2 L905.4 298.1 L906.0 298.3 L906.5 298.7 L907.1 297.7 L907.7 297.8 L908.2 298.7 L908.8 298.0 L909.3 297.7 L909.9 297.8 L910.5 298.8 L911.0 298.5 L911.6 297.4 L912.1 297.9 L912.7 298.5 L913.3 298.0 L913.8 297.4 L914.4 298.5 L914.9 298.7 L915.5 297.5 L916.1 297.7 L916.6 297.9 L917.2 298.8 L917.8 298.5 L918.3 298.2 L918.9 297.5 L919.4 297.1 L920.0 297.2 L920.6 297.4 L921.1 297.7 L921.7 297.8 L922.2 298.0 L922.8 298.1 L923.4 298.1 L923.9 298.5 L924.5 298.8 L925.1 299.0 L925.6 298.4 L926.2 297.9 L926.7 297.8 L927.3 297.3 L927.9 298.3 L928.4 298.6 L929.0 298.8 L929.5 298.7 L930.1 297.8 L930.7 297.6 L931.2 297.6 L931.8 297.6 L932.4 298.4 L932.9 298.8 L933.5 298.4 L934.0 297.2 L934.6 298.1 L935.2 298.6 L935.7 297.1 L936.3 298.0 L936.8 298.5 L937.4 298.4 L938.0 297.7 L938.5 297.8 L939.1 298.6 L939.7 297.4 L940.2 297.7 L940.8 298.9 L941.3 298.2 L941.9 297.1 L942.5 297.9 L943.0 298.3 L943.6 299.0 L944.1 297.8 L944.7 297.6 L945.3 297.5 L945.8 297.9 L946.4 298.5 L947.0 298.5 L947.5 298.2 L948.1 297.5 L948.6 297.6 L949.2 297.8 L949.8 298.9 L950.3 298.4 L950.9 297.9 L951.4 297.3 L952.0 297.9 L952.6 298.1 L953.1 298.1 L953.7 298.2 L954.2 298.4 L954.8 298.6 L955.4 298.9 L955.9 298.9 L956.5 299.0 L957.1 298.9 L957.6 298.5 L958.2 298.1 L958.7 297.9 L959.3 297.5 L959.9 297.4 L960.4 298.5 L961.0 298.6 L961.5 298.6 L962.1 297.7 L962.7 297.8 L963.2 298.6 L963.8 298.6 L964.4 297.9 L964.9 297.7 L965.5 298.0 L966.0 299.0 L966.6 298.5 L967.2 298.1 L967.7 297.6 L968.3 297.2 L968.8 298.3 L969.4 298.4 L970.0 298.7 L970.5 297.7 L971.1 297.6 L971.7 297.7 L972.2 298.5 L972.8 298.5 L973.3 297.6 L973.9 298.8 L974.5 298.2 L975.0 297.5 L975.6 297.5 L976.1 298.0 L976.7 298.4 L977.3 298.7 L977.8 298.6 L978.4 297.9 L979.0 297.8 L979.5 297.8 L980.1 297.8 L980.6 297.8 L981.2 297.6 L981.8 297.4 L982.3 297.6 L982.9 298.0 L983.4 298.6 L984.0 298.6 L984.6 298.7 L985.1 298.0 L985.7 297.6 L986.2 297.7 L986.8 297.8 L987.4 297.9 L987.9 298.3 L988.5 298.8 L989.1 298.7 L989.6 298.3 L990.2 298.1 L990.7 297.5" fill="none" stroke="#3d4c9f" stroke-width="1.4" stroke-linejoin="round"/>
<path d="M710.3 266.0v-3.2" stroke="#222" stroke-width="1.2"/>
<path d="M710.3 330.2v3.2" stroke="#222" stroke-width="1.2"/>
<path d="M753.5 266.0v-3.2" stroke="#222" stroke-width="1.2"/>
<path d="M753.5 330.2v3.2" stroke="#222" stroke-width="1.2"/>
<path d="M796.7 266.0v-3.2" stroke="#222" stroke-width="1.2"/>
<path d="M796.7 330.2v3.2" stroke="#222" stroke-width="1.2"/>
<path d="M839.9 266.0v-3.2" stroke="#222" stroke-width="1.2"/>
<path d="M839.9 330.2v3.2" stroke="#222" stroke-width="1.2"/>
<path d="M883.0 266.0v-3.2" stroke="#222" stroke-width="1.2"/>
<path d="M883.0 330.2v3.2" stroke="#222" stroke-width="1.2"/>
<path d="M926.2 266.0v-3.2" stroke="#222" stroke-width="1.2"/>
<path d="M926.2 330.2v3.2" stroke="#222" stroke-width="1.2"/>
<path d="M969.4 266.0v-3.2" stroke="#222" stroke-width="1.2"/>
<path d="M969.4 330.2v3.2" stroke="#222" stroke-width="1.2"/>
<path d="M688.7 276.8h-3.2" stroke="#222" stroke-width="1.2"/>
<path d="M991.0 276.8h3.2" stroke="#222" stroke-width="1.2"/>
<text x="683.1" y="281.2" font-size="12.8" fill="#3c3c3c" text-anchor="end" font-family='"Liberation Sans", sans-serif' stroke="#3c3c3c" stroke-width="0.6" filter="url(#soft2)">0.5</text>
<path d="M688.7 298.1h-3.2" stroke="#222" stroke-width="1.2"/>
<path d="M991.0 298.1h3.2" stroke="#222" stroke-width="1.2"/>
<text x="683.1" y="302.5" font-size="12.8" fill="#3c3c3c" text-anchor="end" font-family='"Liberation Sans", sans-serif' stroke="#3c3c3c" stroke-width="0.6" filter="url(#soft2)">0</text>
<path d="M688.7 319.4h-3.2" stroke="#222" stroke-width="1.2"/>
<path d="M991.0 319.4h3.2" stroke="#222" stroke-width="1.2"/>
<text x="683.1" y="323.8" font-size="12.8" fill="#3c3c3c" text-anchor="end" font-family='"Liberation Sans", sans-serif' stroke="#3c3c3c" stroke-width="0.6" filter="url(#soft2)">−0.5</text>
<text x="697.3" y="275.0" font-size="13.5" fill="#222" text-anchor="start" font-family='"Liberation Sans", sans-serif' textLength="34.5" lengthAdjust="spacingAndGlyphs" >Acc.</text>
<rect x="688.7" y="341.7" width="302.3" height="25.3" fill="#fff" stroke="#222" stroke-width="1.5"/>
<path d="M684.5 367H995" stroke="#222" stroke-width="1.5"/>
<path d="M688.7 367.0 C697.3 367.0 706.0 367.0 714.6 367.0 C716.1 367.0 717.5 366.1 718.9 366.1 C724.7 366.0 730.4 366.9 736.2 366.8 C737.6 366.7 739.1 365.6 740.5 365.6 C742.7 365.5 744.8 366.5 747.0 366.5 C749.2 366.6 751.3 366.1 753.5 366.1 C757.8 366.0 762.1 366.4 766.4 366.3 C769.3 366.2 772.2 365.9 775.1 365.6 C775.6 365.5 776.2 366.1 776.8 364.6 C777.5 362.7 778.2 354.1 779.0 352.8 C779.7 351.4 780.4 354.8 781.1 354.7 C781.8 354.5 782.6 352.5 783.3 351.3 C784.0 350.1 784.7 346.9 785.4 345.6 C786.2 344.4 786.9 341.7 787.6 341.7 C788.3 342.0 789.0 346.7 789.8 348.0 C790.6 349.6 791.5 352.3 792.3 352.8 C792.9 353.1 793.5 351.4 794.1 350.9 C794.8 350.2 795.5 347.7 796.2 348.0 C797.1 348.4 798.0 352.4 798.8 353.7 C799.8 355.2 800.8 357.4 801.8 358.5 C803.0 359.7 804.1 361.7 805.3 362.3 C806.7 363.0 808.2 363.5 809.6 363.2 C810.8 363.0 811.9 360.5 813.1 360.4 C814.8 360.2 816.5 361.9 818.3 362.3 C819.7 362.5 821.1 363.3 822.6 362.7 C824.0 362.2 825.5 358.0 826.9 358.0 C828.3 357.9 829.8 361.3 831.2 362.3 C832.7 363.2 834.1 365.0 835.5 365.1 C837.0 365.2 838.4 363.7 839.9 363.2 C841.3 362.7 842.7 361.2 844.2 361.3 C845.6 361.4 847.0 363.2 848.5 363.7 C850.6 364.4 852.8 365.4 855.0 365.6 C858.6 365.9 862.2 365.4 865.8 365.6 C868.6 365.7 871.5 366.6 874.4 366.5 C876.6 366.5 878.7 365.2 880.9 365.1 C883.0 365.0 885.2 366.1 887.4 366.1 C890.2 366.0 893.1 364.6 896.0 364.6 C898.9 364.7 901.7 366.2 904.6 366.3 C911.8 366.6 919.0 366.0 926.2 366.1 C929.1 366.1 932.0 366.6 934.9 366.5 C937.7 366.5 940.6 365.8 943.5 365.8 C949.3 365.9 955.0 366.7 960.8 366.8 C970.8 366.9 980.9 366.6 991.0 366.5" fill="none" stroke="#f0404e" stroke-width="1.3" stroke-linejoin="round" stroke-dasharray="1.6 1.3"/>
<path d="M688.7 367.0 C698.1 367.0 707.4 367.0 716.8 367.0 C718.2 366.9 719.6 365.5 721.1 365.3 C723.2 365.1 725.4 365.4 727.6 365.6 C729.7 365.8 731.9 367.0 734.0 367.0 C749.9 367.0 765.7 367.0 781.5 367.0 C782.6 366.9 783.6 364.1 784.6 363.2 C785.6 362.3 786.6 361.7 787.6 360.4 C788.5 359.2 789.3 354.0 790.2 353.7 C791.1 353.5 791.9 357.5 792.8 358.5 C793.8 359.5 794.8 360.7 795.8 361.3 C796.8 361.9 797.8 362.8 798.8 363.2 C800.3 363.7 801.7 364.3 803.1 364.6 C805.3 365.1 807.5 366.2 809.6 366.3 C812.5 366.4 815.4 365.7 818.3 365.6 C820.4 365.5 822.6 365.4 824.7 365.6 C826.9 365.8 829.1 367.0 831.2 367.0 C884.5 367.0 937.7 367.0 991.0 367.0" fill="none" stroke="#3d4c9f" stroke-width="1.5" stroke-linejoin="round"/>
<path d="M710.3 341.7v-3.2" stroke="#222" stroke-width="1.2"/>
<path d="M710.3 367.0v3.2" stroke="#222" stroke-width="1.2"/>
<text x="710.3" y="385.6" font-size="12" fill="#3c3c3c" text-anchor="middle" font-family='"Liberation Sans", sans-serif' stroke="#3c3c3c" stroke-width="0.6" filter="url(#soft2)">20</text>
<path d="M753.5 341.7v-3.2" stroke="#222" stroke-width="1.2"/>
<path d="M753.5 367.0v3.2" stroke="#222" stroke-width="1.2"/>
<text x="753.5" y="385.6" font-size="12" fill="#3c3c3c" text-anchor="middle" font-family='"Liberation Sans", sans-serif' stroke="#3c3c3c" stroke-width="0.6" filter="url(#soft2)">30</text>
<path d="M796.7 341.7v-3.2" stroke="#222" stroke-width="1.2"/>
<path d="M796.7 367.0v3.2" stroke="#222" stroke-width="1.2"/>
<text x="796.7" y="385.6" font-size="12" fill="#3c3c3c" text-anchor="middle" font-family='"Liberation Sans", sans-serif' stroke="#3c3c3c" stroke-width="0.6" filter="url(#soft2)">40</text>
<path d="M839.9 341.7v-3.2" stroke="#222" stroke-width="1.2"/>
<path d="M839.9 367.0v3.2" stroke="#222" stroke-width="1.2"/>
<text x="839.9" y="385.6" font-size="12" fill="#3c3c3c" text-anchor="middle" font-family='"Liberation Sans", sans-serif' stroke="#3c3c3c" stroke-width="0.6" filter="url(#soft2)">50</text>
<path d="M883.0 341.7v-3.2" stroke="#222" stroke-width="1.2"/>
<path d="M883.0 367.0v3.2" stroke="#222" stroke-width="1.2"/>
<text x="883.0" y="385.6" font-size="12" fill="#3c3c3c" text-anchor="middle" font-family='"Liberation Sans", sans-serif' stroke="#3c3c3c" stroke-width="0.6" filter="url(#soft2)">60</text>
<path d="M926.2 341.7v-3.2" stroke="#222" stroke-width="1.2"/>
<path d="M926.2 367.0v3.2" stroke="#222" stroke-width="1.2"/>
<text x="926.2" y="385.6" font-size="12" fill="#3c3c3c" text-anchor="middle" font-family='"Liberation Sans", sans-serif' stroke="#3c3c3c" stroke-width="0.6" filter="url(#soft2)">70</text>
<path d="M969.4 341.7v-3.2" stroke="#222" stroke-width="1.2"/>
<path d="M969.4 367.0v3.2" stroke="#222" stroke-width="1.2"/>
<text x="969.4" y="385.6" font-size="12" fill="#3c3c3c" text-anchor="middle" font-family='"Liberation Sans", sans-serif' stroke="#3c3c3c" stroke-width="0.6" filter="url(#soft2)">80</text>
<path d="M688.7 343.3h-3.2" stroke="#222" stroke-width="1.2"/>
<path d="M991.0 343.3h3.2" stroke="#222" stroke-width="1.2"/>
<text x="683.1" y="347.7" font-size="12.8" fill="#3c3c3c" text-anchor="end" font-family='"Liberation Sans", sans-serif' stroke="#3c3c3c" stroke-width="0.6" filter="url(#soft2)">0.5</text>
<path d="M688.7 367.0h-3.2" stroke="#222" stroke-width="1.2"/>
<path d="M991.0 367.0h3.2" stroke="#222" stroke-width="1.2"/>
<text x="683.1" y="371.4" font-size="12.8" fill="#3c3c3c" text-anchor="end" font-family='"Liberation Sans", sans-serif' stroke="#3c3c3c" stroke-width="0.6" filter="url(#soft2)">0</text>
<rect x="688.7" y="403.5" width="302.3" height="64.7" fill="#fff" stroke="#222" stroke-width="1.5"/>
<path d="M688.7 435.9 L689.2 435.9 L689.7 435.9 L690.2 435.9 L690.8 435.9 L691.3 435.9 L691.8 435.9 L692.3 435.9 L692.8 435.9 L693.3 435.9 L693.8 435.9 L694.4 435.9 L694.9 435.9 L695.4 435.9 L695.9 435.9 L696.4 435.9 L696.9 435.9 L697.4 435.9 L698.0 435.9 L698.5 435.9 L699.0 435.9 L699.5 435.9 L700.0 435.9 L700.5 435.9 L701.0 435.9 L701.5 435.9 L702.1 435.9 L702.6 435.9 L703.1 435.9 L703.6 435.9 L704.1 435.9 L704.6 435.9 L705.1 435.9 L705.7 435.9 L706.2 435.9 L706.7 435.9 L707.2 435.9 L707.7 435.9 L708.2 435.9 L708.7 435.9 L709.3 435.9 L709.8 435.9 L710.3 435.9 L710.8 435.9 L711.3 435.9 L711.8 435.9 L712.3 435.9 L712.9 435.9 L713.4 435.9 L713.9 435.9 L714.4 435.9 L714.9 435.9 L715.4 435.9 L715.9 435.9 L716.5 435.9 L717.0 435.9 L717.5 435.9 L718.0 435.9 L718.5 435.9 L719.0 435.9 L719.5 435.9 L720.0 435.9 L720.6 435.9 L721.1 435.9 L721.6 435.9 L722.1 435.9 L722.6 435.9 L723.1 435.9 L723.6 435.9 L724.2 435.9 L724.7 435.9 L725.2 435.9 L725.7 435.9 L726.2 435.9 L726.7 435.9 L727.2 435.9 L727.8 435.3 L728.3 434.1 L728.8 435.4 L729.3 440.2 L729.8 445.8 L730.3 444.3 L730.8 440.6 L731.4 437.0 L731.9 429.3 L732.4 420.7 L732.9 431.6 L733.4 439.1 L733.9 449.2 L734.4 446.2 L735.0 434.8 L735.5 431.8 L736.0 428.0 L736.5 431.2 L737.0 439.5 L737.5 441.0 L738.0 440.1 L738.5 440.2 L739.1 433.9 L739.6 430.8 L740.1 431.1 L740.6 432.9 L741.1 432.4 L741.6 434.3 L742.1 438.5 L742.7 443.5 L743.2 439.0 L743.7 437.4 L744.2 431.2 L744.7 431.2 L745.2 435.6 L745.7 438.5 L746.3 443.4 L746.8 433.7 L747.3 433.1 L747.8 439.2 L748.3 439.6 L748.8 436.5 L749.3 433.1 L749.9 441.1 L750.4 438.4 L750.9 439.1 L751.4 428.1 L751.9 433.5 L752.4 449.7 L752.9 438.9 L753.5 434.3 L754.0 424.9 L754.5 420.3 L755.0 440.4 L755.5 450.6 L756.0 431.1 L756.5 426.3 L757.1 427.4 L757.6 423.0 L758.1 433.5 L758.6 448.7 L759.1 446.8 L759.6 446.2 L760.1 430.8 L760.6 422.3 L761.2 429.0 L761.7 430.3 L762.2 442.5 L762.7 456.6 L763.2 439.9 L763.7 434.8 L764.2 421.0 L764.8 422.3 L765.3 440.0 L765.8 463.0 L766.3 433.4 L766.8 424.2 L767.3 413.5 L767.8 436.1 L768.4 454.4 L768.9 451.7 L769.4 454.0 L769.9 454.0 L770.4 449.1 L770.9 434.4 L771.4 428.8 L772.0 424.1 L772.5 425.1 L773.0 426.4 L773.5 428.5 L774.0 429.4 L774.5 429.5 L775.0 429.7 L775.6 431.1 L776.1 430.7 L776.6 431.7 L777.1 431.0 L777.6 432.5 L778.1 434.6 L778.6 440.4 L779.1 444.0 L779.7 444.3 L780.2 439.2 L780.7 437.3 L781.2 433.3 L781.7 426.9 L782.2 435.7 L782.7 439.7 L783.3 442.8 L783.8 434.3 L784.3 429.6 L784.8 437.8 L785.3 440.5 L785.8 440.3 L786.3 444.2 L786.9 433.6 L787.4 431.1 L787.9 432.6 L788.4 444.5 L788.9 442.4 L789.4 440.3 L789.9 431.7 L790.5 427.0 L791.0 432.8 L791.5 436.5 L792.0 446.6 L792.5 440.4 L793.0 433.9 L793.5 428.5 L794.1 438.3 L794.6 443.8 L795.1 438.4 L795.6 432.7 L796.1 429.5 L796.6 438.6 L797.1 442.7 L797.6 439.9 L798.2 428.5 L798.7 433.1 L799.2 442.4 L799.7 437.4 L800.2 427.5 L800.7 431.2 L801.2 436.5 L801.8 442.1 L802.3 443.6 L802.8 436.1 L803.3 430.8 L803.8 430.2 L804.3 439.0 L804.8 439.1 L805.4 439.9 L805.9 440.0 L806.4 438.6 L806.9 433.3 L807.4 431.1 L807.9 431.3 L808.4 431.4 L809.0 431.2 L809.5 432.2 L810.0 432.4 L810.5 432.4 L811.0 432.8 L811.5 435.7 L812.0 441.0 L812.6 442.7 L813.1 441.0 L813.6 438.1 L814.1 436.7 L814.6 433.3 L815.1 431.5 L815.6 431.6 L816.1 434.2 L816.7 435.8 L817.2 438.8 L817.7 441.0 L818.2 437.8 L818.7 435.1 L819.2 434.3 L819.7 431.5 L820.3 430.9 L820.8 433.0 L821.3 436.1 L821.8 437.9 L822.3 438.5 L822.8 438.9 L823.3 440.1 L823.9 441.0 L824.4 439.3 L824.9 437.2 L825.4 433.2 L825.9 433.5 L826.4 433.5 L826.9 433.4 L827.5 435.6 L828.0 439.5 L828.5 437.3 L829.0 437.7 L829.5 432.2 L830.0 435.0 L830.5 435.4 L831.1 438.7 L831.6 436.0 L832.1 431.1 L832.6 435.3 L833.1 440.3 L833.6 433.2 L834.1 434.3 L834.7 439.9 L835.2 435.6 L835.7 432.4 L836.2 437.7 L836.7 440.7 L837.2 436.4 L837.7 435.8 L838.2 433.0 L838.8 435.1 L839.3 436.5 L839.8 438.3 L840.3 439.1 L840.8 434.2 L841.3 434.1 L841.8 433.4 L842.4 438.5 L842.9 438.7 L843.4 439.3 L843.9 435.7 L844.4 432.7 L844.9 433.3 L845.4 437.0 L846.0 439.8 L846.5 438.7 L847.0 437.3 L847.5 436.8 L848.0 432.0 L848.5 434.9 L849.0 435.9 L849.6 438.8 L850.1 436.7 L850.6 435.2 L851.1 434.7 L851.6 433.3 L852.1 432.4 L852.6 434.5 L853.2 437.7 L853.7 438.0 L854.2 438.4 L854.7 438.8 L855.2 439.2 L855.7 439.3 L856.2 439.0 L856.7 438.6 L857.3 438.1 L857.8 437.6 L858.3 437.3 L858.8 436.5 L859.3 435.9 L859.8 434.8 L860.3 434.2 L860.9 433.4 L861.4 433.9 L861.9 434.4 L862.4 434.0 L862.9 433.8 L863.4 438.4 L863.9 439.0 L864.5 437.7 L865.0 437.5 L865.5 432.5 L866.0 433.1 L866.5 435.2 L867.0 441.1 L867.5 437.8 L868.1 435.3 L868.6 431.3 L869.1 435.6 L869.6 437.4 L870.1 439.4 L870.6 439.9 L871.1 433.7 L871.7 433.7 L872.2 434.8 L872.7 438.4 L873.2 437.6 L873.7 437.5 L874.2 433.0 L874.7 433.6 L875.2 434.3 L875.8 440.6 L876.3 439.0 L876.8 435.6 L877.3 431.2 L877.8 437.5 L878.3 440.6 L878.8 433.4 L879.4 431.4 L879.9 436.1 L880.4 439.8 L880.9 434.8 L881.4 433.3 L881.9 440.2 L882.4 437.3 L883.0 432.3 L883.5 433.6 L884.0 435.9 L884.5 437.2 L885.0 434.9 L885.5 434.3 L886.0 433.5 L886.6 437.7 L887.1 438.0 L887.6 440.0 L888.1 436.2 L888.6 432.8 L889.1 432.7 L889.6 432.8 L890.2 433.7 L890.7 435.4 L891.2 439.6 L891.7 440.1 L892.2 439.2 L892.7 438.1 L893.2 437.5 L893.8 437.6 L894.3 436.1 L894.8 433.8 L895.3 433.0 L895.8 432.8 L896.3 434.5 L896.8 435.3 L897.3 436.8 L897.9 439.2 L898.4 437.0 L898.9 435.6 L899.4 434.5 L899.9 433.5 L900.4 432.7 L900.9 435.0 L901.5 436.5 L902.0 437.0 L902.5 437.1 L903.0 437.3 L903.5 437.8 L904.0 437.7 L904.5 436.9 L905.1 436.1 L905.6 435.2 L906.1 435.1 L906.6 435.2 L907.1 435.2 L907.6 435.0 L908.1 434.7 L908.7 434.9 L909.2 435.9 L909.7 437.2 L910.2 436.9 L910.7 436.8 L911.2 436.3 L911.7 434.7 L912.3 435.2 L912.8 435.3 L913.3 437.1 L913.8 436.5 L914.3 435.8 L914.8 434.8 L915.3 434.8 L915.8 436.3 L916.4 436.9 L916.9 435.5 L917.4 435.0 L917.9 435.8 L918.4 436.6 L918.9 436.6 L919.4 435.1 L920.0 435.3 L920.5 436.1 L921.0 437.0 L921.5 436.3 L922.0 435.1 L922.5 435.2 L923.0 435.8 L923.6 436.5 L924.1 437.0 L924.6 435.6 L925.1 435.3 L925.6 435.2 L926.1 436.3 L926.6 436.4 L927.2 436.3 L927.7 435.3 L928.2 435.4 L928.7 436.5 L929.2 436.2 L929.7 436.2 L930.2 435.3 L930.8 435.7 L931.3 436.0 L931.8 436.2 L932.3 435.6 L932.8 435.0 L933.3 435.7 L933.8 436.4 L934.3 436.7 L934.9 435.6 L935.4 435.4 L935.9 435.2 L936.4 435.2 L936.9 435.3 L937.4 435.4 L937.9 435.9 L938.5 436.1 L939.0 436.3 L939.5 436.4 L940.0 436.3 L940.5 436.4 L941.0 436.4 L941.5 436.4 L942.1 436.4 L942.6 436.4 L943.1 436.4 L943.6 436.4 L944.1 436.3 L944.6 436.4 L945.1 436.2 L945.7 435.4 L946.2 435.2 L946.7 435.6 L947.2 435.8 L947.7 436.7 L948.2 436.1 L948.7 435.7 L949.3 435.3 L949.8 435.6 L950.3 436.0 L950.8 436.3 L951.3 436.4 L951.8 436.0 L952.3 435.6 L952.8 435.4 L953.4 435.3 L953.9 435.8 L954.4 436.3 L954.9 436.3 L955.4 436.2 L955.9 435.3 L956.4 435.4 L957.0 435.7 L957.5 436.6 L958.0 436.2 L958.5 436.1 L959.0 435.8 L959.5 435.3 L960.0 435.8 L960.6 436.0 L961.1 436.3 L961.6 435.7 L962.1 435.4 L962.6 436.1 L963.1 436.3 L963.6 435.5 L964.2 435.4 L964.7 436.3 L965.2 436.3 L965.7 435.3 L966.2 435.7 L966.7 436.3 L967.2 435.9 L967.8 435.5 L968.3 435.8 L968.8 436.1 L969.3 436.4 L969.8 435.9 L970.3 435.5 L970.8 435.6 L971.4 435.4 L971.9 435.6 L972.4 436.3 L972.9 436.2 L973.4 436.1 L973.9 436.1 L974.4 436.1 L974.9 435.5 L975.5 435.4 L976.0 435.4 L976.5 435.6 L977.0 435.7 L977.5 435.7 L978.0 436.0 L978.5 436.4 L979.1 436.3 L979.6 436.0 L980.1 435.8 L980.6 435.3 L981.1 435.3 L981.6 435.8 L982.1 436.0 L982.7 436.2 L983.2 436.4 L983.7 435.9 L984.2 435.7 L984.7 435.7 L985.2 435.7 L985.7 435.6 L986.3 435.5 L986.8 435.4 L987.3 435.5 L987.8 435.6 L988.3 435.8 L988.8 436.0 L989.3 436.1 L989.9 436.2 L990.4 436.2 L990.9 436.1" fill="none" stroke="#f0404e" stroke-width="1.3" stroke-linejoin="round" stroke-dasharray="1.6 1.3"/>
<path d="M688.7 435.9 L689.2 435.9 L689.7 435.9 L690.2 435.9 L690.8 435.9 L691.3 435.9 L691.8 435.9 L692.3 435.9 L692.8 435.9 L693.3 435.9 L693.8 435.9 L694.4 435.9 L694.9 435.9 L695.4 435.9 L695.9 435.9 L696.4 435.9 L696.9 435.9 L697.4 435.9 L698.0 435.9 L698.5 435.9 L699.0 435.9 L699.5 435.9 L700.0 435.9 L700.5 435.9 L701.0 435.9 L701.5 435.9 L702.1 435.9 L702.6 435.9 L703.1 435.9 L703.6 435.9 L704.1 435.9 L704.6 435.9 L705.1 435.9 L705.7 435.9 L706.2 435.9 L706.7 435.9 L707.2 435.9 L707.7 435.9 L708.2 435.9 L708.7 435.9 L709.3 435.9 L709.8 435.9 L710.3 435.9 L710.8 435.9 L711.3 435.9 L711.8 435.9 L712.3 435.9 L712.9 435.9 L713.4 435.9 L713.9 435.9 L714.4 435.9 L714.9 435.9 L715.4 435.9 L715.9 435.9 L716.5 435.9 L717.0 435.9 L717.5 435.9 L718.0 435.9 L718.5 435.9 L719.0 435.9 L719.5 435.9 L720.0 435.9 L720.6 435.9 L721.1 435.9 L721.6 435.9 L722.1 435.9 L722.6 435.9 L723.1 435.9 L723.6 435.9 L724.2 435.9 L724.7 435.9 L725.2 435.9 L725.7 435.9 L726.2 435.9 L726.7 435.9 L727.2 439.3 L727.8 440.2 L728.3 438.4 L728.8 437.1 L729.3 436.4 L729.8 435.5 L730.3 431.2 L730.8 427.5 L731.4 422.9 L731.9 419.0 L732.4 414.8 L732.9 417.9 L733.4 433.3 L733.9 435.6 L734.4 437.6 L735.0 438.3 L735.5 442.8 L736.0 446.7 L736.5 442.9 L737.0 435.1 L737.5 431.6 L738.0 429.5 L738.5 427.7 L739.1 433.5 L739.6 440.8 L740.1 440.3 L740.6 440.0 L741.1 438.6 L741.6 434.7 L742.1 430.2 L742.7 430.7 L743.2 431.6 L743.7 432.6 L744.2 431.8 L744.7 435.2 L745.2 442.7 L745.7 443.8 L746.3 441.8 L746.8 438.4 L747.3 435.4 L747.8 428.0 L748.3 430.4 L748.8 435.2 L749.3 442.7 L749.9 443.6 L750.4 434.4 L750.9 429.1 L751.4 430.7 L751.9 440.8 L752.4 429.0 L752.9 427.0 L753.5 449.5 L754.0 431.7 L754.5 432.2 L755.0 445.8 L755.5 421.9 L756.0 418.0 L756.5 444.5 L757.1 452.9 L757.6 450.4 L758.1 421.9 L758.6 419.0 L759.1 425.7 L759.6 450.1 L760.1 449.4 L760.6 427.3 L761.2 419.2 L761.7 423.8 L762.2 431.6 L762.7 451.1 L763.2 444.9 L763.7 436.9 L764.2 429.6 L764.8 431.2 L765.3 437.8 L765.8 446.0 L766.3 437.4 L766.8 430.2 L767.3 424.0 L767.8 442.2 L768.4 443.4 L768.9 446.3 L769.4 426.2 L769.9 427.3 L770.4 429.2 L770.9 431.4 L771.4 446.1 L772.0 442.5 L772.5 438.0 L773.0 433.6 L773.5 424.6 L774.0 434.2 L774.5 435.8 L775.0 435.5 L775.6 439.8 L776.1 445.2 L776.6 449.4 L777.1 452.7 L777.6 455.4 L778.1 456.6 L778.6 455.3 L779.1 453.6 L779.7 454.1 L780.2 451.5 L780.7 443.3 L781.2 434.1 L781.7 428.1 L782.2 422.7 L782.7 412.2 L783.3 407.1 L783.8 431.8 L784.3 446.1 L784.8 445.0 L785.3 450.9 L785.8 451.7 L786.3 422.3 L786.9 427.0 L787.4 424.2 L787.9 451.2 L788.4 442.0 L788.9 421.5 L789.4 430.4 L789.9 442.4 L790.5 447.7 L791.0 429.3 L791.5 416.9 L792.0 442.9 L792.5 453.8 L793.0 427.8 L793.5 422.9 L794.1 419.5 L794.6 451.2 L795.1 450.5 L795.6 447.9 L796.1 435.2 L796.6 424.6 L797.1 428.6 L797.6 456.1 L798.2 437.8 L798.7 414.6 L799.2 438.1 L799.7 446.6 L800.2 433.1 L800.7 420.8 L801.2 426.7 L801.8 450.5 L802.3 445.6 L802.8 413.1 L803.3 427.5 L803.8 457.1 L804.3 445.9 L804.8 437.0 L805.4 412.1 L805.9 416.5 L806.4 444.9 L806.9 443.1 L807.4 430.6 L807.9 429.6 L808.4 425.0 L809.0 443.6 L809.5 445.5 L810.0 449.3 L810.5 443.1 L811.0 426.6 L811.5 423.6 L812.0 424.6 L812.6 427.1 L813.1 426.4 L813.6 426.4 L814.1 427.8 L814.6 437.2 L815.1 446.0 L815.6 446.2 L816.1 443.8 L816.7 442.1 L817.2 437.3 L817.7 431.8 L818.2 424.0 L818.7 427.3 L819.2 434.3 L819.7 437.4 L820.3 446.2 L820.8 437.6 L821.3 435.0 L821.8 428.5 L822.3 427.6 L822.8 433.7 L823.3 438.5 L823.9 440.9 L824.4 444.6 L824.9 445.2 L825.4 443.9 L825.9 435.8 L826.4 432.7 L826.9 429.7 L827.5 431.1 L828.0 431.1 L828.5 429.0 L829.0 428.9 L829.5 435.3 L830.0 442.0 L830.5 441.1 L831.1 439.6 L831.6 440.9 L832.1 437.9 L832.6 426.7 L833.1 431.7 L833.6 443.0 L834.1 445.5 L834.7 435.0 L835.2 433.7 L835.7 437.7 L836.2 443.1 L836.7 432.0 L837.2 427.1 L837.7 441.0 L838.2 441.9 L838.8 433.2 L839.3 429.3 L839.8 432.4 L840.3 444.0 L840.8 437.9 L841.3 428.2 L841.8 435.7 L842.4 436.1 L842.9 441.2 L843.4 436.3 L843.9 434.0 L844.4 430.7 L844.9 428.9 L845.4 438.5 L846.0 441.7 L846.5 441.3 L847.0 432.1 L847.5 430.9 L848.0 431.5 L848.5 431.7 L849.0 441.2 L849.6 440.6 L850.1 438.1 L850.6 430.3 L851.1 432.3 L851.6 435.8 L852.1 440.2 L852.6 437.9 L853.2 435.1 L853.7 431.1 L854.2 437.3 L854.7 439.5 L855.2 440.4 L855.7 433.6 L856.2 432.6 L856.7 431.0 L857.3 429.4 L857.8 432.1 L858.3 439.8 L858.8 441.9 L859.3 443.1 L859.8 441.6 L860.3 441.8 L860.9 440.7 L861.4 441.0 L861.9 440.3 L862.4 440.0 L862.9 439.3 L863.4 438.6 L863.9 438.9 L864.5 439.2 L865.0 439.3 L865.5 436.4 L866.0 430.2 L866.5 430.9 L867.0 433.2 L867.5 433.4 L868.1 439.9 L868.6 443.9 L869.1 440.7 L869.6 436.3 L870.1 428.7 L870.6 428.7 L871.1 437.2 L871.7 443.1 L872.2 436.7 L872.7 433.1 L873.2 432.2 L873.7 431.6 L874.2 438.5 L874.7 439.2 L875.2 439.6 L875.8 432.6 L876.3 431.3 L876.8 433.3 L877.3 433.6 L877.8 440.8 L878.3 440.1 L878.8 436.9 L879.4 432.3 L879.9 433.0 L880.4 435.3 L880.9 436.7 L881.4 441.6 L881.9 439.2 L882.4 432.4 L883.0 429.3 L883.5 439.0 L884.0 442.1 L884.5 430.9 L885.0 439.8 L885.5 439.1 L886.0 433.3 L886.6 431.3 L887.1 434.5 L887.6 444.0 L888.1 434.6 L888.6 427.5 L889.1 438.6 L889.6 438.9 L890.2 430.6 L890.7 437.0 L891.2 441.2 L891.7 440.8 L892.2 431.9 L892.7 430.4 L893.2 433.0 L893.8 434.4 L894.3 440.1 L894.8 442.6 L895.3 440.8 L895.8 437.9 L896.3 436.5 L896.8 435.3 L897.3 431.2 L897.9 430.4 L898.4 432.6 L898.9 435.4 L899.4 436.8 L899.9 439.0 L900.4 441.5 L900.9 434.8 L901.5 433.5 L902.0 431.4 L902.5 433.1 L903.0 439.1 L903.5 439.1 L904.0 438.9 L904.5 438.9 L905.1 436.8 L905.6 433.9 L906.1 432.4 L906.6 433.1 L907.1 434.0 L907.6 434.1 L908.1 434.0 L908.7 434.8 L909.2 435.7 L909.7 436.5 L910.2 437.4 L910.7 438.7 L911.2 439.1 L911.7 439.5 L912.3 438.6 L912.8 437.5 L913.3 437.0 L913.8 436.3 L914.3 434.3 L914.8 431.3 L915.3 435.1 L915.8 436.0 L916.4 439.7 L916.9 439.5 L917.4 434.6 L917.9 433.3 L918.4 437.9 L918.9 437.4 L919.4 434.2 L920.0 434.7 L920.5 438.3 L921.0 436.9 L921.5 432.6 L922.0 435.0 L922.5 436.4 L923.0 438.8 L923.6 434.6 L924.1 435.8 L924.6 437.2 L925.1 438.2 L925.6 434.0 L926.1 433.2 L926.6 437.1 L927.2 437.6 L927.7 437.6 L928.2 436.4 L928.7 434.2 L929.2 433.9 L929.7 435.1 L930.2 437.9 L930.8 436.5 L931.3 436.0 L931.8 434.9 L932.3 435.2 L932.8 436.1 L933.3 436.7 L933.8 435.5 L934.3 434.8 L934.9 435.0 L935.4 436.7 L935.9 436.8 L936.4 435.8 L936.9 434.8 L937.4 435.2 L937.9 436.9 L938.5 436.6 L939.0 436.2 L939.5 435.9 L940.0 434.7 L940.5 435.0 L941.0 435.5 L941.5 435.8 L942.1 435.8 L942.6 435.8 L943.1 435.9 L943.6 435.9 L944.1 436.1 L944.6 436.2 L945.1 436.4 L945.7 436.5 L946.2 436.8 L946.7 436.9 L947.2 437.1 L947.7 437.1 L948.2 437.0 L948.7 436.7 L949.3 435.7 L949.8 435.6 L950.3 435.5 L950.8 435.0 L951.3 435.1 L951.8 435.9 L952.3 436.3 L952.8 436.6 L953.4 435.6 L953.9 435.5 L954.4 435.4 L954.9 436.5 L955.4 436.2 L955.9 436.2 L956.4 435.6 L957.0 434.9 L957.5 435.6 L958.0 435.7 L958.5 437.2 L959.0 437.2 L959.5 436.4 L960.0 435.6 L960.6 433.9 L961.1 435.9 L961.6 436.6 L962.1 437.8 L962.6 437.3 L963.1 435.0 L963.6 435.1 L964.2 434.9 L964.7 436.9 L965.2 436.5 L965.7 434.6 L966.2 435.9 L966.7 437.0 L967.2 435.7 L967.8 435.9 L968.3 436.9 L968.8 435.4 L969.3 434.8 L969.8 436.4 L970.3 436.6 L970.8 435.1 L971.4 435.7 L971.9 436.2 L972.4 435.4 L972.9 435.1 L973.4 435.9 L973.9 436.7 L974.4 436.1 L974.9 435.6 L975.5 435.1 L976.0 435.6 L976.5 436.2 L977.0 436.2 L977.5 436.5 L978.0 436.2 L978.5 435.7 L979.1 435.4 L979.6 435.3 L980.1 435.3 L980.6 435.3 L981.1 435.3 L981.6 435.7 L982.1 436.4 L982.7 436.5 L983.2 436.3 L983.7 436.2 L984.2 435.5 L984.7 435.2 L985.2 435.6 L985.7 435.8 L986.3 436.4 L986.8 436.3 L987.3 435.8 L987.8 435.8 L988.3 435.3 L988.8 435.4 L989.3 435.6 L989.9 435.9 L990.4 436.0 L990.9 436.1" fill="none" stroke="#3d4c9f" stroke-width="1.6" stroke-linejoin="round"/>
<path d="M688.7 403.5v-3.2" stroke="#222" stroke-width="1.2"/>
<path d="M688.7 468.2v3.2" stroke="#222" stroke-width="1.2"/>
<path d="M749.2 403.5v-3.2" stroke="#222" stroke-width="1.2"/>
<path d="M749.2 468.2v3.2" stroke="#222" stroke-width="1.2"/>
<path d="M809.6 403.5v-3.2" stroke="#222" stroke-width="1.2"/>
<path d="M809.6 468.2v3.2" stroke="#222" stroke-width="1.2"/>
<path d="M870.1 403.5v-3.2" stroke="#222" stroke-width="1.2"/>
<path d="M870.1 468.2v3.2" stroke="#222" stroke-width="1.2"/>
<path d="M930.5 403.5v-3.2" stroke="#222" stroke-width="1.2"/>
<path d="M930.5 468.2v3.2" stroke="#222" stroke-width="1.2"/>
<path d="M991.0 403.5v-3.2" stroke="#222" stroke-width="1.2"/>
<path d="M991.0 468.2v3.2" stroke="#222" stroke-width="1.2"/>
<path d="M688.7 404.4h-3.2" stroke="#222" stroke-width="1.2"/>
<path d="M991.0 404.4h3.2" stroke="#222" stroke-width="1.2"/>
<text x="683.1" y="408.8" font-size="12.8" fill="#3c3c3c" text-anchor="end" font-family='"Liberation Sans", sans-serif' stroke="#3c3c3c" stroke-width="0.6" filter="url(#soft2)">2</text>
<path d="M688.7 435.9h-3.2" stroke="#222" stroke-width="1.2"/>
<path d="M991.0 435.9h3.2" stroke="#222" stroke-width="1.2"/>
<text x="683.1" y="440.2" font-size="12.8" fill="#3c3c3c" text-anchor="end" font-family='"Liberation Sans", sans-serif' stroke="#3c3c3c" stroke-width="0.6" filter="url(#soft2)">0</text>
<path d="M688.7 467.3h-3.2" stroke="#222" stroke-width="1.2"/>
<path d="M991.0 467.3h3.2" stroke="#222" stroke-width="1.2"/>
<text x="683.1" y="471.7" font-size="12.8" fill="#3c3c3c" text-anchor="end" font-family='"Liberation Sans", sans-serif' stroke="#3c3c3c" stroke-width="0.6" filter="url(#soft2)">−2</text>
<rect x="688.7" y="477.5" width="302.3" height="27.5" fill="#fff" stroke="#222" stroke-width="1.5"/>
<path d="M684.5 505H995" stroke="#222" stroke-width="1.5"/>
<path d="M688.7 505.0 C700.8 505.0 712.9 505.0 725.0 505.0 C726.2 504.9 727.4 501.2 728.6 499.7 C729.8 498.2 731.0 494.0 732.2 493.7 C733.6 493.4 735.1 496.8 736.5 497.5 C737.9 498.2 739.3 498.6 740.7 499.0 C742.5 499.4 744.3 500.5 746.1 500.5 C747.7 500.5 749.4 499.6 751.0 499.0 C752.8 498.4 754.6 496.9 756.4 496.0 C758.0 495.1 759.6 493.4 761.3 492.2 C762.7 491.2 764.1 488.8 765.5 487.7 C766.5 486.9 767.5 484.7 768.5 485.0 C769.5 485.3 770.5 488.8 771.5 490.0 C772.5 491.1 773.5 492.7 774.6 493.7 C775.6 494.7 776.6 497.2 777.6 497.5 C779.2 498.0 780.8 496.6 782.4 496.6 C784.0 496.5 785.6 496.6 787.2 497.2 C788.5 497.6 789.7 499.8 790.9 500.5 C791.9 501.0 792.9 502.0 793.9 501.7 C795.3 501.2 796.7 497.9 798.1 497.5 C799.5 497.1 801.0 498.2 802.4 498.7 C803.8 499.1 805.2 500.2 806.6 500.8 C808.2 501.5 809.8 503.3 811.4 503.5 C812.8 503.6 814.3 502.2 815.7 502.0 C817.3 501.7 818.9 501.5 820.5 501.7 C822.9 501.9 825.3 503.4 827.8 503.5 C829.8 503.6 831.8 502.5 833.8 502.6 C836.8 502.7 839.9 504.0 842.9 504.2 C845.9 504.5 848.9 504.6 851.9 504.4 C854.0 504.2 856.0 502.8 858.0 502.7 C860.0 502.7 862.0 504.0 864.0 504.1 C868.1 504.4 872.1 504.6 876.1 504.2 C879.1 504.0 882.2 502.1 885.2 502.0 C887.2 501.9 889.2 503.2 891.2 503.5 C894.3 503.9 897.3 504.7 900.3 504.7 C930.5 505.0 960.8 504.9 991.0 505.0" fill="none" stroke="#f0404e" stroke-width="1.3" stroke-linejoin="round" stroke-dasharray="1.6 1.3"/>
<path d="M688.7 505.0 C700.8 505.0 712.9 505.0 725.0 505.0 C726.0 504.9 727.0 501.9 728.0 500.5 C729.4 498.6 730.8 493.4 732.2 492.7 C733.2 492.2 734.2 495.0 735.3 496.0 C736.5 497.1 737.7 499.7 738.9 500.5 C741.1 501.9 743.3 504.1 745.5 504.1 C747.1 504.1 748.8 502.1 750.4 500.5 C751.8 499.1 753.2 495.0 754.6 493.0 C755.8 491.3 757.0 486.7 758.2 486.7 C759.2 486.7 760.2 491.6 761.3 493.0 C762.5 494.7 763.7 497.6 764.9 498.2 C766.7 499.2 768.5 498.6 770.3 498.7 C771.7 498.8 773.1 499.4 774.6 499.0 C775.6 498.7 776.6 498.0 777.6 496.0 C778.4 494.4 779.2 487.6 780.0 485.5 C780.8 483.3 781.6 479.9 782.4 479.8 C783.4 479.5 784.4 482.6 785.4 484.0 C786.4 485.3 787.5 489.0 788.5 490.0 C789.5 491.0 790.5 491.5 791.5 491.5 C792.5 491.5 793.5 490.4 794.5 490.0 C795.5 489.6 796.5 488.5 797.5 488.5 C798.3 488.5 799.1 490.4 799.9 490.0 C800.8 489.6 801.6 486.6 802.4 485.5 C803.2 484.4 804.0 481.7 804.8 481.7 C805.6 481.7 806.4 484.0 807.2 485.5 C808.2 487.2 809.2 492.6 810.2 493.7 C811.6 495.4 813.0 495.5 814.5 496.0 C815.5 496.3 816.5 496.8 817.5 496.7 C818.9 496.7 820.3 495.5 821.7 495.7 C823.3 495.9 824.9 497.8 826.5 498.2 C828.0 498.6 829.4 498.8 830.8 498.7 C832.2 498.6 833.6 497.4 835.0 497.5 C836.6 497.6 838.2 499.1 839.9 499.3 C841.5 499.4 843.1 498.3 844.7 498.7 C846.1 499.0 847.5 501.3 848.9 502.0 C849.9 502.5 850.9 503.4 851.9 503.2 C853.6 502.9 855.2 500.6 856.8 500.0 C858.2 499.5 859.6 499.1 861.0 499.0 C863.0 498.9 865.0 499.1 867.1 499.3 C869.1 499.5 871.1 500.1 873.1 500.5 C874.5 500.8 875.9 502.0 877.3 502.0 C878.9 502.0 880.6 501.0 882.2 500.5 C884.2 499.9 886.2 498.0 888.2 497.9 C890.2 497.8 892.2 499.4 894.3 499.7 C896.3 500.0 898.3 500.0 900.3 500.2 C902.3 500.4 904.3 500.9 906.4 501.2 C908.4 501.6 910.4 502.5 912.4 502.6 C914.4 502.7 916.4 501.9 918.4 502.0 C920.5 502.1 922.5 503.4 924.5 503.5 C926.5 503.6 928.5 502.6 930.5 502.7 C932.6 502.8 934.6 504.1 936.6 504.2 C940.6 504.6 944.6 504.6 948.7 504.5 C953.7 504.5 958.8 503.9 963.8 503.9 C966.8 504.0 969.8 504.6 972.9 504.7 C978.9 504.9 985.0 504.8 991.0 504.8" fill="none" stroke="#3d4c9f" stroke-width="1.6" stroke-linejoin="round"/>
<path d="M688.7 477.5v-3.2" stroke="#222" stroke-width="1.2"/>
<path d="M688.7 505.0v3.2" stroke="#222" stroke-width="1.2"/>
<text x="688.7" y="523.8" font-size="12" fill="#3c3c3c" text-anchor="middle" font-family='"Liberation Sans", sans-serif' stroke="#3c3c3c" stroke-width="0.6" filter="url(#soft2)">0</text>
<path d="M749.2 477.5v-3.2" stroke="#222" stroke-width="1.2"/>
<path d="M749.2 505.0v3.2" stroke="#222" stroke-width="1.2"/>
<text x="749.2" y="523.8" font-size="12" fill="#3c3c3c" text-anchor="middle" font-family='"Liberation Sans", sans-serif' stroke="#3c3c3c" stroke-width="0.6" filter="url(#soft2)">10</text>
<path d="M809.6 477.5v-3.2" stroke="#222" stroke-width="1.2"/>
<path d="M809.6 505.0v3.2" stroke="#222" stroke-width="1.2"/>
<text x="809.6" y="523.8" font-size="12" fill="#3c3c3c" text-anchor="middle" font-family='"Liberation Sans", sans-serif' stroke="#3c3c3c" stroke-width="0.6" filter="url(#soft2)">20</text>
<path d="M870.1 477.5v-3.2" stroke="#222" stroke-width="1.2"/>
<path d="M870.1 505.0v3.2" stroke="#222" stroke-width="1.2"/>
<text x="870.1" y="523.8" font-size="12" fill="#3c3c3c" text-anchor="middle" font-family='"Liberation Sans", sans-serif' stroke="#3c3c3c" stroke-width="0.6" filter="url(#soft2)">30</text>
<path d="M930.5 477.5v-3.2" stroke="#222" stroke-width="1.2"/>
<path d="M930.5 505.0v3.2" stroke="#222" stroke-width="1.2"/>
<text x="930.5" y="523.8" font-size="12" fill="#3c3c3c" text-anchor="middle" font-family='"Liberation Sans", sans-serif' stroke="#3c3c3c" stroke-width="0.6" filter="url(#soft2)">40</text>
<path d="M991.0 477.5v-3.2" stroke="#222" stroke-width="1.2"/>
<path d="M991.0 505.0v3.2" stroke="#222" stroke-width="1.2"/>
<text x="991.0" y="523.8" font-size="12" fill="#3c3c3c" text-anchor="middle" font-family='"Liberation Sans", sans-serif' stroke="#3c3c3c" stroke-width="0.6" filter="url(#soft2)">50</text>
<path d="M688.7 490.0h-3.2" stroke="#222" stroke-width="1.2"/>
<path d="M991.0 490.0h3.2" stroke="#222" stroke-width="1.2"/>
<text x="683.1" y="494.4" font-size="12.8" fill="#3c3c3c" text-anchor="end" font-family='"Liberation Sans", sans-serif' stroke="#3c3c3c" stroke-width="0.6" filter="url(#soft2)">1</text>
<path d="M688.7 505.0h-3.2" stroke="#222" stroke-width="1.2"/>
<path d="M991.0 505.0h3.2" stroke="#222" stroke-width="1.2"/>
<text x="683.1" y="509.4" font-size="12.8" fill="#3c3c3c" text-anchor="end" font-family='"Liberation Sans", sans-serif' stroke="#3c3c3c" stroke-width="0.6" filter="url(#soft2)">0</text>
<text x="1077.0" y="247.5" font-size="14" fill="#222" text-anchor="start" font-family='"Liberation Sans", sans-serif' textLength="53.5" lengthAdjust="spacingAndGlyphs" filter="url(#tsh2)">Energy</text>
<text x="1217.0" y="247.5" font-size="14" fill="#222" text-anchor="start" font-family='"Liberation Sans", sans-serif' textLength="86.0" lengthAdjust="spacingAndGlyphs" filter="url(#tsh2)">F. Spectrum</text>
<text x="1369.0" y="247.5" font-size="14" fill="#222" text-anchor="start" font-family='"Liberation Sans", sans-serif' textLength="63.0" lengthAdjust="spacingAndGlyphs" filter="url(#tsh2)">Spectral</text>
<rect x="1038.7" y="266.6" width="107.1" height="99.8" fill="#fff" stroke="#222" stroke-width="1.5"/>
<path d="M1038.7 366.4 C1046.4 366.3 1054.0 366.2 1061.7 366.0 C1063.7 365.9 1065.7 365.8 1067.8 365.1 C1068.8 364.7 1069.8 365.1 1070.8 362.0 C1071.2 360.7 1071.6 353.7 1072.1 348.7 C1072.4 344.2 1072.8 331.8 1073.1 326.5 C1073.5 321.2 1073.8 312.9 1074.2 308.7 C1074.6 304.0 1075.0 295.8 1075.4 293.2 C1075.9 289.9 1076.4 287.5 1077.0 286.6 C1078.0 284.6 1079.0 283.1 1080.0 282.1 C1081.5 280.7 1083.1 278.6 1084.6 277.7 C1087.1 276.2 1089.7 274.3 1092.2 273.3 C1094.8 272.2 1097.4 270.5 1099.9 269.9 C1102.5 269.3 1105.0 269.1 1107.5 268.8 C1112.6 268.3 1117.8 267.6 1122.8 267.3 C1125.9 267.0 1129.0 266.7 1132.0 266.6 C1136.6 266.6 1141.2 266.6 1145.8 266.6" fill="none" stroke="#f0404e" stroke-width="1.3" stroke-linejoin="round" stroke-dasharray="1.6 1.3"/>
<path d="M1038.7 366.4 C1050.0 366.4 1061.3 366.4 1072.7 366.4 C1073.1 366.4 1073.5 365.2 1073.9 363.7 C1074.2 362.5 1074.6 357.6 1075.0 356.4 C1075.4 355.1 1075.8 354.5 1076.2 354.2 C1077.0 353.7 1077.7 353.4 1078.5 353.3 C1083.1 353.0 1087.7 352.7 1092.2 352.6 C1110.1 352.3 1128.0 352.0 1145.8 351.8" fill="none" stroke="#3d4c9f" stroke-width="1.5" stroke-linejoin="round"/>
<path d="M1046.4 266.6v-3.2" stroke="#222" stroke-width="1.2"/>
<path d="M1046.4 366.4v3.2" stroke="#222" stroke-width="1.2"/>
<text x="1046.4" y="384.0" font-size="12" fill="#3c3c3c" text-anchor="middle" font-family='"Liberation Sans", sans-serif' stroke="#3c3c3c" stroke-width="0.6" filter="url(#soft2)">20</text>
<path d="M1077.0 266.6v-3.2" stroke="#222" stroke-width="1.2"/>
<path d="M1077.0 366.4v3.2" stroke="#222" stroke-width="1.2"/>
<text x="1077.0" y="384.0" font-size="12" fill="#3c3c3c" text-anchor="middle" font-family='"Liberation Sans", sans-serif' stroke="#3c3c3c" stroke-width="0.6" filter="url(#soft2)">40</text>
<path d="M1107.5 266.6v-3.2" stroke="#222" stroke-width="1.2"/>
<path d="M1107.5 366.4v3.2" stroke="#222" stroke-width="1.2"/>
<text x="1107.5" y="384.0" font-size="12" fill="#3c3c3c" text-anchor="middle" font-family='"Liberation Sans", sans-serif' stroke="#3c3c3c" stroke-width="0.6" filter="url(#soft2)">60</text>
<path d="M1138.1 266.6v-3.2" stroke="#222" stroke-width="1.2"/>
<path d="M1138.1 366.4v3.2" stroke="#222" stroke-width="1.2"/>
<text x="1138.1" y="384.0" font-size="12" fill="#3c3c3c" text-anchor="middle" font-family='"Liberation Sans", sans-serif' stroke="#3c3c3c" stroke-width="0.6" filter="url(#soft2)">80</text>
<path d="M1038.7 277.7h-3.2" stroke="#222" stroke-width="1.2"/>
<path d="M1145.8 277.7h3.2" stroke="#222" stroke-width="1.2"/>
<text x="1033.1" y="282.1" font-size="12.8" fill="#3c3c3c" text-anchor="end" font-family='"Liberation Sans", sans-serif' stroke="#3c3c3c" stroke-width="0.6" filter="url(#soft2)">0.4</text>
<path d="M1038.7 322.0h-3.2" stroke="#222" stroke-width="1.2"/>
<path d="M1145.8 322.0h3.2" stroke="#222" stroke-width="1.2"/>
<text x="1033.1" y="326.4" font-size="12.8" fill="#3c3c3c" text-anchor="end" font-family='"Liberation Sans", sans-serif' stroke="#3c3c3c" stroke-width="0.6" filter="url(#soft2)">0.2</text>
<path d="M1038.7 366.4h-3.2" stroke="#222" stroke-width="1.2"/>
<path d="M1145.8 366.4h3.2" stroke="#222" stroke-width="1.2"/>
<text x="1033.1" y="370.8" font-size="12.8" fill="#3c3c3c" text-anchor="end" font-family='"Liberation Sans", sans-serif' stroke="#3c3c3c" stroke-width="0.6" filter="url(#soft2)">0</text>
<rect x="1038.7" y="404.4" width="107.4" height="100.5" fill="#fff" stroke="#222" stroke-width="1.5"/>
<path d="M1038.7 504.9 C1043.3 504.9 1047.9 504.9 1052.4 504.9 C1053.1 504.8 1053.7 501.5 1054.4 501.0 C1055.6 500.0 1056.8 499.8 1058.0 499.3 C1059.1 498.9 1060.2 498.7 1061.3 497.9 C1062.0 497.4 1062.7 495.7 1063.4 494.4 C1064.0 493.4 1064.5 491.1 1065.1 489.5 C1065.5 488.3 1066.0 485.5 1066.4 484.0 C1066.8 482.4 1067.3 478.9 1067.7 477.7 C1068.2 476.3 1068.7 474.8 1069.2 474.2 C1069.8 473.5 1070.3 473.1 1070.9 472.8 C1072.0 472.3 1073.1 471.5 1074.1 471.1 C1075.2 470.7 1076.3 470.0 1077.4 469.7 C1078.8 469.3 1080.2 468.5 1081.7 468.3 C1085.2 467.8 1088.8 467.3 1092.4 466.9 C1096.0 466.6 1099.6 466.0 1103.1 465.8 C1110.3 465.5 1117.5 465.2 1124.6 465.0 C1131.8 464.8 1138.9 464.6 1146.1 464.4" fill="none" stroke="#f0404e" stroke-width="1.3" stroke-linejoin="round" stroke-dasharray="1.6 1.3"/>
<path d="M1038.7 504.9 C1043.3 504.9 1047.9 504.9 1052.4 504.9 C1053.0 504.8 1053.6 502.1 1054.2 501.4 C1054.7 500.8 1055.3 500.2 1055.9 500.0 C1057.3 499.6 1058.7 499.9 1060.2 499.0 C1060.9 498.6 1061.6 496.2 1062.3 495.1 C1062.9 494.3 1063.5 492.3 1064.0 491.6 C1064.5 491.0 1065.0 490.9 1065.5 490.2 C1066.1 489.6 1066.6 487.4 1067.1 486.8 C1067.6 486.0 1068.2 485.5 1068.8 484.7 C1069.3 483.8 1069.9 482.6 1070.5 480.5 C1070.8 479.1 1071.2 473.3 1071.6 471.4 C1072.1 468.7 1072.6 464.8 1073.1 463.0 C1073.6 461.0 1074.2 459.2 1074.8 457.4 C1075.3 455.9 1075.8 452.0 1076.3 450.5 C1076.9 448.7 1077.4 447.1 1078.0 444.9 C1078.5 443.0 1079.0 437.7 1079.5 435.1 C1079.9 432.9 1080.4 428.1 1080.8 426.7 C1081.4 424.7 1082.1 423.3 1082.7 422.5 C1083.8 421.3 1084.9 419.7 1086.0 419.1 C1088.1 417.7 1090.3 415.8 1092.4 414.9 C1094.5 413.9 1096.7 412.8 1098.8 412.1 C1101.0 411.3 1103.1 410.0 1105.3 409.3 C1107.4 408.6 1109.6 407.4 1111.7 406.9 C1113.9 406.4 1116.0 405.9 1118.2 405.5 C1120.3 405.2 1122.5 404.5 1124.6 404.4 C1131.8 404.4 1138.9 404.4 1146.1 404.4" fill="none" stroke="#3d4c9f" stroke-width="1.6" stroke-linejoin="round"/>
<path d="M1038.7 404.4v-3.2" stroke="#222" stroke-width="1.2"/>
<path d="M1038.7 504.9v3.2" stroke="#222" stroke-width="1.2"/>
<text x="1038.7" y="521.5" font-size="12" fill="#3c3c3c" text-anchor="middle" font-family='"Liberation Sans", sans-serif' stroke="#3c3c3c" stroke-width="0.6" filter="url(#soft2)">0</text>
<path d="M1081.7 404.4v-3.2" stroke="#222" stroke-width="1.2"/>
<path d="M1081.7 504.9v3.2" stroke="#222" stroke-width="1.2"/>
<text x="1081.7" y="521.5" font-size="12" fill="#3c3c3c" text-anchor="middle" font-family='"Liberation Sans", sans-serif' stroke="#3c3c3c" stroke-width="0.6" filter="url(#soft2)">20</text>
<path d="M1124.6 404.4v-3.2" stroke="#222" stroke-width="1.2"/>
<path d="M1124.6 504.9v3.2" stroke="#222" stroke-width="1.2"/>
<text x="1124.6" y="521.5" font-size="12" fill="#3c3c3c" text-anchor="middle" font-family='"Liberation Sans", sans-serif' stroke="#3c3c3c" stroke-width="0.6" filter="url(#soft2)">40</text>
<path d="M1038.7 421.1h-3.2" stroke="#222" stroke-width="1.2"/>
<path d="M1146.1 421.1h3.2" stroke="#222" stroke-width="1.2"/>
<text x="1033.1" y="425.5" font-size="12.8" fill="#3c3c3c" text-anchor="end" font-family='"Liberation Sans", sans-serif' stroke="#3c3c3c" stroke-width="0.6" filter="url(#soft2)">6</text>
<path d="M1038.7 449.1h-3.2" stroke="#222" stroke-width="1.2"/>
<path d="M1146.1 449.1h3.2" stroke="#222" stroke-width="1.2"/>
<text x="1033.1" y="453.5" font-size="12.8" fill="#3c3c3c" text-anchor="end" font-family='"Liberation Sans", sans-serif' stroke="#3c3c3c" stroke-width="0.6" filter="url(#soft2)">4</text>
<path d="M1038.7 477.0h-3.2" stroke="#222" stroke-width="1.2"/>
<path d="M1146.1 477.0h3.2" stroke="#222" stroke-width="1.2"/>
<text x="1033.1" y="481.4" font-size="12.8" fill="#3c3c3c" text-anchor="end" font-family='"Liberation Sans", sans-serif' stroke="#3c3c3c" stroke-width="0.6" filter="url(#soft2)">2</text>
<path d="M1038.7 504.9h-3.2" stroke="#222" stroke-width="1.2"/>
<path d="M1146.1 504.9h3.2" stroke="#222" stroke-width="1.2"/>
<text x="1033.1" y="509.3" font-size="12.8" fill="#3c3c3c" text-anchor="end" font-family='"Liberation Sans", sans-serif' stroke="#3c3c3c" stroke-width="0.6" filter="url(#soft2)">0</text>
<rect x="1194.9" y="266.6" width="107.1" height="99.8" fill="#fff" stroke="#222" stroke-width="1.5"/>
<path d="M1194.9 364.4 L1197.0 360.4 L1198.9 353.4 L1201.6 358.4 L1203.7 346.4 L1205.6 336.5 L1207.5 328.5 L1209.1 321.5 L1211.0 334.5 L1212.8 344.4 L1215.8 351.4 L1217.7 336.5 L1219.0 326.5 L1220.6 341.4 L1222.2 346.4 L1224.4 341.4 L1227.0 354.4 L1229.7 344.4 L1231.8 351.4 L1234.0 356.4 L1236.4 346.4 L1238.5 354.4 L1241.0 358.4 L1243.1 353.4 L1245.8 358.4 L1247.9 351.4 L1249.8 346.4 L1251.9 351.4 L1254.3 353.4 L1257.8 349.4 L1260.5 352.4 L1263.2 344.4 L1265.3 334.5 L1267.2 324.5 L1268.8 321.5 L1270.4 341.4 L1271.7 356.4 L1273.1 341.4 L1274.4 333.5 L1276.6 338.5 L1277.9 328.5 L1279.8 316.5 L1281.4 324.5 L1283.3 333.5 L1285.1 341.4 L1286.7 348.4 L1288.6 339.5 L1290.2 334.5 L1292.1 338.5 L1294.0 342.4 L1296.1 351.4 L1298.3 358.4 L1300.4 362.4 L1302.0 363.4" fill="none" stroke="#f0404e" stroke-width="1.3" stroke-linejoin="round" stroke-dasharray="1.6 1.3"/>
<path d="M1194.9 364.4 L1197.6 361.4 L1200.3 356.4 L1202.9 346.4 L1205.1 339.5 L1206.4 335.5 L1208.3 344.4 L1209.6 346.4 L1211.5 343.4 L1213.6 352.4 L1216.3 359.4 L1218.5 358.4 L1220.6 355.4 L1222.7 348.4 L1224.4 352.4 L1227.0 356.4 L1229.7 358.4 L1232.4 360.4 L1235.1 359.4 L1237.7 362.4 L1241.8 361.4 L1245.8 362.4 L1249.8 363.9 L1256.5 365.2 L1264.5 365.4 L1275.2 365.2 L1288.6 365.6 L1302.0 365.6" fill="none" stroke="#3d4c9f" stroke-width="1.6" stroke-linejoin="round"/>
<path d="M1194.9 266.6v-3.2" stroke="#222" stroke-width="1.2"/>
<path d="M1194.9 366.4v3.2" stroke="#222" stroke-width="1.2"/>
<text x="1194.9" y="384.0" font-size="12" fill="#3c3c3c" text-anchor="middle" font-family='"Liberation Sans", sans-serif' stroke="#3c3c3c" stroke-width="0.6" filter="url(#soft2)">0</text>
<path d="M1221.7 266.6v-3.2" stroke="#222" stroke-width="1.2"/>
<path d="M1221.7 366.4v3.2" stroke="#222" stroke-width="1.2"/>
<text x="1221.7" y="384.0" font-size="12" fill="#3c3c3c" text-anchor="middle" font-family='"Liberation Sans", sans-serif' stroke="#3c3c3c" stroke-width="0.6" filter="url(#soft2)">1</text>
<path d="M1248.5 266.6v-3.2" stroke="#222" stroke-width="1.2"/>
<path d="M1248.5 366.4v3.2" stroke="#222" stroke-width="1.2"/>
<text x="1248.5" y="384.0" font-size="12" fill="#3c3c3c" text-anchor="middle" font-family='"Liberation Sans", sans-serif' stroke="#3c3c3c" stroke-width="0.6" filter="url(#soft2)">2</text>
<path d="M1275.2 266.6v-3.2" stroke="#222" stroke-width="1.2"/>
<path d="M1275.2 366.4v3.2" stroke="#222" stroke-width="1.2"/>
<text x="1275.2" y="384.0" font-size="12" fill="#3c3c3c" text-anchor="middle" font-family='"Liberation Sans", sans-serif' stroke="#3c3c3c" stroke-width="0.6" filter="url(#soft2)">3</text>
<path d="M1302.0 266.6v-3.2" stroke="#222" stroke-width="1.2"/>
<path d="M1302.0 366.4v3.2" stroke="#222" stroke-width="1.2"/>
<text x="1302.0" y="384.0" font-size="12" fill="#3c3c3c" text-anchor="middle" font-family='"Liberation Sans", sans-serif' stroke="#3c3c3c" stroke-width="0.6" filter="url(#soft2)">4</text>
<path d="M1194.9 266.6h-3.2" stroke="#222" stroke-width="1.2"/>
<path d="M1302.0 266.6h3.2" stroke="#222" stroke-width="1.2"/>
<text x="1189.3" y="271.0" font-size="12.8" fill="#3c3c3c" text-anchor="end" font-family='"Liberation Sans", sans-serif' stroke="#3c3c3c" stroke-width="0.6" filter="url(#soft2)">1</text>
<path d="M1194.9 316.5h-3.2" stroke="#222" stroke-width="1.2"/>
<path d="M1302.0 316.5h3.2" stroke="#222" stroke-width="1.2"/>
<text x="1189.3" y="320.9" font-size="12.8" fill="#3c3c3c" text-anchor="end" font-family='"Liberation Sans", sans-serif' stroke="#3c3c3c" stroke-width="0.6" filter="url(#soft2)">0.5</text>
<path d="M1194.9 366.4h-3.2" stroke="#222" stroke-width="1.2"/>
<path d="M1302.0 366.4h3.2" stroke="#222" stroke-width="1.2"/>
<text x="1189.3" y="370.8" font-size="12.8" fill="#3c3c3c" text-anchor="end" font-family='"Liberation Sans", sans-serif' stroke="#3c3c3c" stroke-width="0.6" filter="url(#soft2)">0</text>
<rect x="1194.9" y="404.4" width="107.1" height="100.5" fill="#fff" stroke="#222" stroke-width="1.5"/>
<path d="M1194.9 503.2 L1200.3 502.9 L1208.3 501.5 L1213.6 498.2 L1216.3 495.9 L1219.0 498.2 L1221.7 497.5 L1224.4 498.9 L1227.0 496.2 L1229.7 498.2 L1231.6 494.8 L1233.2 482.8 L1234.5 493.2 L1235.9 498.2 L1237.7 491.5 L1239.1 488.1 L1240.4 494.2 L1242.0 492.8 L1243.6 488.1 L1244.7 486.1 L1246.3 491.5 L1248.5 488.1 L1250.1 484.1 L1251.7 479.4 L1252.7 464.7 L1253.8 441.2 L1254.6 437.9 L1255.4 464.7 L1256.5 494.8 L1257.6 478.1 L1258.6 454.6 L1259.4 450.6 L1260.5 474.8 L1261.8 494.8 L1262.9 474.8 L1264.0 456.3 L1265.1 454.6 L1266.1 478.1 L1267.2 491.5 L1269.3 486.5 L1271.2 484.1 L1273.1 491.5 L1275.2 496.5 L1277.9 494.8 L1280.6 492.8 L1282.7 494.8 L1284.6 490.8 L1286.5 496.5 L1288.6 499.9 L1291.3 498.9 L1294.0 497.5 L1296.6 498.2 L1299.3 494.8 L1300.9 493.5 L1302.0 494.8" fill="none" stroke="#f0404e" stroke-width="1.3" stroke-linejoin="round" stroke-dasharray="1.6 1.3"/>
<path d="M1194.9 503.2 L1197.6 500.9 L1200.3 499.5 L1202.9 501.5 L1205.6 498.9 L1208.3 494.8 L1210.2 484.8 L1211.5 478.1 L1213.6 488.1 L1215.0 464.7 L1216.3 434.5 L1217.9 447.9 L1219.0 453.0 L1220.6 437.9 L1221.7 431.2 L1223.3 451.3 L1224.4 461.3 L1226.2 474.8 L1227.6 444.6 L1228.9 419.5 L1230.2 431.2 L1231.3 426.2 L1232.9 451.3 L1234.3 464.7 L1235.9 461.3 L1237.2 459.0 L1239.1 468.0 L1241.0 478.1 L1242.6 484.8 L1244.2 473.1 L1245.8 465.7 L1247.4 478.1 L1249.0 481.4 L1251.1 484.8 L1252.7 490.8 L1254.3 494.8 L1256.5 489.5 L1259.2 498.2 L1261.3 494.8 L1263.2 490.8 L1265.9 494.2 L1268.5 494.8 L1270.7 489.8 L1272.5 486.1 L1274.2 491.5 L1275.8 492.8 L1277.1 484.8 L1278.2 479.4 L1279.8 488.1 L1280.8 482.8 L1282.2 478.1 L1283.8 488.1 L1285.9 494.8 L1288.1 498.9 L1290.2 499.9 L1292.6 497.5 L1295.3 500.2 L1298.0 501.5 L1300.1 500.2 L1302.0 501.5" fill="none" stroke="#3d4c9f" stroke-width="1.6" stroke-linejoin="round"/>
<path d="M1194.9 404.4v-3.2" stroke="#222" stroke-width="1.2"/>
<path d="M1194.9 504.9v3.2" stroke="#222" stroke-width="1.2"/>
<text x="1194.9" y="521.5" font-size="12" fill="#3c3c3c" text-anchor="middle" font-family='"Liberation Sans", sans-serif' stroke="#3c3c3c" stroke-width="0.6" filter="url(#soft2)">0</text>
<path d="M1221.7 404.4v-3.2" stroke="#222" stroke-width="1.2"/>
<path d="M1221.7 504.9v3.2" stroke="#222" stroke-width="1.2"/>
<text x="1221.7" y="521.5" font-size="12" fill="#3c3c3c" text-anchor="middle" font-family='"Liberation Sans", sans-serif' stroke="#3c3c3c" stroke-width="0.6" filter="url(#soft2)">1</text>
<path d="M1248.5 404.4v-3.2" stroke="#222" stroke-width="1.2"/>
<path d="M1248.5 504.9v3.2" stroke="#222" stroke-width="1.2"/>
<text x="1248.5" y="521.5" font-size="12" fill="#3c3c3c" text-anchor="middle" font-family='"Liberation Sans", sans-serif' stroke="#3c3c3c" stroke-width="0.6" filter="url(#soft2)">2</text>
<path d="M1275.2 404.4v-3.2" stroke="#222" stroke-width="1.2"/>
<path d="M1275.2 504.9v3.2" stroke="#222" stroke-width="1.2"/>
<text x="1275.2" y="521.5" font-size="12" fill="#3c3c3c" text-anchor="middle" font-family='"Liberation Sans", sans-serif' stroke="#3c3c3c" stroke-width="0.6" filter="url(#soft2)">3</text>
<path d="M1302.0 404.4v-3.2" stroke="#222" stroke-width="1.2"/>
<path d="M1302.0 504.9v3.2" stroke="#222" stroke-width="1.2"/>
<text x="1302.0" y="521.5" font-size="12" fill="#3c3c3c" text-anchor="middle" font-family='"Liberation Sans", sans-serif' stroke="#3c3c3c" stroke-width="0.6" filter="url(#soft2)">4</text>
<path d="M1194.9 404.4h-3.2" stroke="#222" stroke-width="1.2"/>
<path d="M1302.0 404.4h3.2" stroke="#222" stroke-width="1.2"/>
<text x="1189.3" y="408.8" font-size="12.8" fill="#3c3c3c" text-anchor="end" font-family='"Liberation Sans", sans-serif' stroke="#3c3c3c" stroke-width="0.6" filter="url(#soft2)">3</text>
<path d="M1194.9 437.9h-3.2" stroke="#222" stroke-width="1.2"/>
<path d="M1302.0 437.9h3.2" stroke="#222" stroke-width="1.2"/>
<text x="1189.3" y="442.3" font-size="12.8" fill="#3c3c3c" text-anchor="end" font-family='"Liberation Sans", sans-serif' stroke="#3c3c3c" stroke-width="0.6" filter="url(#soft2)">2</text>
<path d="M1194.9 471.4h-3.2" stroke="#222" stroke-width="1.2"/>
<path d="M1302.0 471.4h3.2" stroke="#222" stroke-width="1.2"/>
<text x="1189.3" y="475.8" font-size="12.8" fill="#3c3c3c" text-anchor="end" font-family='"Liberation Sans", sans-serif' stroke="#3c3c3c" stroke-width="0.6" filter="url(#soft2)">1</text>
<path d="M1194.9 504.9h-3.2" stroke="#222" stroke-width="1.2"/>
<path d="M1302.0 504.9h3.2" stroke="#222" stroke-width="1.2"/>
<text x="1189.3" y="509.3" font-size="12.8" fill="#3c3c3c" text-anchor="end" font-family='"Liberation Sans", sans-serif' stroke="#3c3c3c" stroke-width="0.6" filter="url(#soft2)">0</text>
<rect x="1349.6" y="266.6" width="107.8" height="99.8" fill="#fff" stroke="#222" stroke-width="1.5"/>
<path d="M1349.6 354.4 C1351.6 354.2 1353.7 353.9 1355.7 353.4 C1357.4 353.1 1359.0 352.3 1360.6 351.4 C1361.9 350.7 1363.3 349.3 1364.6 347.4 C1365.8 345.8 1366.9 341.7 1368.1 338.5 C1369.1 335.6 1370.1 328.8 1371.0 324.5 C1371.6 321.9 1372.2 315.1 1372.9 312.5 C1373.4 310.1 1374.0 306.2 1374.5 305.5 C1375.0 304.9 1375.6 306.5 1376.1 307.5 C1376.8 308.9 1377.5 312.6 1378.2 314.5 C1379.1 316.8 1380.0 320.7 1380.9 323.5 C1381.6 326.0 1382.4 331.8 1383.2 334.5 C1384.1 337.4 1384.9 342.1 1385.8 344.4 C1386.8 346.9 1387.7 350.7 1388.6 352.4 C1389.6 354.2 1390.6 356.5 1391.5 357.4 C1392.7 358.5 1393.9 359.5 1395.2 359.9 C1396.7 360.4 1398.2 360.7 1399.7 360.9 C1401.0 361.1 1402.2 361.2 1403.5 361.4 C1405.5 361.7 1407.6 362.3 1409.6 362.6 C1411.7 362.9 1413.8 363.2 1415.9 363.4 C1418.3 363.6 1420.6 363.9 1423.0 364.2 C1425.1 364.4 1427.1 365.0 1429.2 365.2 C1433.2 365.5 1437.2 365.9 1441.2 366.0 C1446.6 366.2 1452.0 366.3 1457.4 366.4" fill="none" stroke="#f0404e" stroke-width="1.3" stroke-linejoin="round" stroke-dasharray="1.6 1.3"/>
<path d="M1349.6 365.4 C1355.0 365.3 1360.4 365.1 1365.8 364.9 C1369.0 364.8 1372.2 364.2 1375.3 364.2 C1377.6 364.2 1379.8 364.9 1382.1 364.9 C1384.5 364.9 1387.0 364.7 1389.5 364.4 C1391.4 364.2 1393.3 363.1 1395.2 362.8 C1396.7 362.5 1398.2 362.2 1399.7 362.2 C1401.0 362.2 1402.2 362.7 1403.5 362.9 C1405.5 363.2 1407.6 363.6 1409.6 363.8 C1411.7 364.1 1413.8 364.6 1415.9 364.8 C1418.3 365.0 1420.6 365.3 1423.0 365.5 C1426.3 365.7 1429.5 366.1 1432.8 366.2 C1441.0 366.4 1449.2 366.3 1457.4 366.4" fill="none" stroke="#3d4c9f" stroke-width="1.5" stroke-linejoin="round"/>
<path d="M1349.6 266.6v-3.2" stroke="#222" stroke-width="1.2"/>
<path d="M1349.6 366.4v3.2" stroke="#222" stroke-width="1.2"/>
<text x="1349.6" y="384.0" font-size="12" fill="#3c3c3c" text-anchor="middle" font-family='"Liberation Sans", sans-serif' stroke="#3c3c3c" stroke-width="0.6" filter="url(#soft2)">0.1</text>
<path d="M1403.5 266.6v-3.2" stroke="#222" stroke-width="1.2"/>
<path d="M1403.5 366.4v3.2" stroke="#222" stroke-width="1.2"/>
<text x="1403.5" y="384.0" font-size="12" fill="#3c3c3c" text-anchor="middle" font-family='"Liberation Sans", sans-serif' stroke="#3c3c3c" stroke-width="0.6" filter="url(#soft2)">1</text>
<path d="M1457.4 266.6v-3.2" stroke="#222" stroke-width="1.2"/>
<path d="M1457.4 366.4v3.2" stroke="#222" stroke-width="1.2"/>
<text x="1457.4" y="384.0" font-size="12" fill="#3c3c3c" text-anchor="middle" font-family='"Liberation Sans", sans-serif' stroke="#3c3c3c" stroke-width="0.6" filter="url(#soft2)">10</text>
<path d="M1365.8 266.6v-2.2" stroke="#222" stroke-width="1.2"/>
<path d="M1365.8 366.4v2.2" stroke="#222" stroke-width="1.2"/>
<path d="M1375.3 266.6v-2.2" stroke="#222" stroke-width="1.2"/>
<path d="M1375.3 366.4v2.2" stroke="#222" stroke-width="1.2"/>
<path d="M1382.1 266.6v-2.2" stroke="#222" stroke-width="1.2"/>
<path d="M1382.1 366.4v2.2" stroke="#222" stroke-width="1.2"/>
<path d="M1387.3 266.6v-2.2" stroke="#222" stroke-width="1.2"/>
<path d="M1387.3 366.4v2.2" stroke="#222" stroke-width="1.2"/>
<path d="M1391.5 266.6v-2.2" stroke="#222" stroke-width="1.2"/>
<path d="M1391.5 366.4v2.2" stroke="#222" stroke-width="1.2"/>
<path d="M1395.2 266.6v-2.2" stroke="#222" stroke-width="1.2"/>
<path d="M1395.2 366.4v2.2" stroke="#222" stroke-width="1.2"/>
<path d="M1398.3 266.6v-2.2" stroke="#222" stroke-width="1.2"/>
<path d="M1398.3 366.4v2.2" stroke="#222" stroke-width="1.2"/>
<path d="M1401.0 266.6v-2.2" stroke="#222" stroke-width="1.2"/>
<path d="M1401.0 366.4v2.2" stroke="#222" stroke-width="1.2"/>
<path d="M1419.7 266.6v-2.2" stroke="#222" stroke-width="1.2"/>
<path d="M1419.7 366.4v2.2" stroke="#222" stroke-width="1.2"/>
<path d="M1429.2 266.6v-2.2" stroke="#222" stroke-width="1.2"/>
<path d="M1429.2 366.4v2.2" stroke="#222" stroke-width="1.2"/>
<path d="M1436.0 266.6v-2.2" stroke="#222" stroke-width="1.2"/>
<path d="M1436.0 366.4v2.2" stroke="#222" stroke-width="1.2"/>
<path d="M1441.2 266.6v-2.2" stroke="#222" stroke-width="1.2"/>
<path d="M1441.2 366.4v2.2" stroke="#222" stroke-width="1.2"/>
<path d="M1445.4 266.6v-2.2" stroke="#222" stroke-width="1.2"/>
<path d="M1445.4 366.4v2.2" stroke="#222" stroke-width="1.2"/>
<path d="M1449.1 266.6v-2.2" stroke="#222" stroke-width="1.2"/>
<path d="M1449.1 366.4v2.2" stroke="#222" stroke-width="1.2"/>
<path d="M1452.2 266.6v-2.2" stroke="#222" stroke-width="1.2"/>
<path d="M1452.2 366.4v2.2" stroke="#222" stroke-width="1.2"/>
<path d="M1454.9 266.6v-2.2" stroke="#222" stroke-width="1.2"/>
<path d="M1454.9 366.4v2.2" stroke="#222" stroke-width="1.2"/>
<path d="M1349.6 266.6h-3.2" stroke="#222" stroke-width="1.2"/>
<path d="M1457.4 266.6h3.2" stroke="#222" stroke-width="1.2"/>
<text x="1344.0" y="271.0" font-size="12.8" fill="#3c3c3c" text-anchor="end" font-family='"Liberation Sans", sans-serif' stroke="#3c3c3c" stroke-width="0.6" filter="url(#soft2)">100</text>
<path d="M1349.6 316.5h-3.2" stroke="#222" stroke-width="1.2"/>
<path d="M1457.4 316.5h3.2" stroke="#222" stroke-width="1.2"/>
<text x="1344.0" y="320.9" font-size="12.8" fill="#3c3c3c" text-anchor="end" font-family='"Liberation Sans", sans-serif' stroke="#3c3c3c" stroke-width="0.6" filter="url(#soft2)">50</text>
<path d="M1349.6 366.4h-3.2" stroke="#222" stroke-width="1.2"/>
<path d="M1457.4 366.4h3.2" stroke="#222" stroke-width="1.2"/>
<text x="1344.0" y="370.8" font-size="12.8" fill="#3c3c3c" text-anchor="end" font-family='"Liberation Sans", sans-serif' stroke="#3c3c3c" stroke-width="0.6" filter="url(#soft2)">0</text>
<rect x="1349.6" y="404.4" width="107.8" height="100.5" fill="#fff" stroke="#222" stroke-width="1.5"/>
<path d="M1349.6 488.1 C1351.6 487.8 1353.7 487.4 1355.7 486.8 C1357.4 486.3 1359.0 485.2 1360.6 484.1 C1361.9 483.2 1363.3 481.1 1364.6 479.4 C1365.8 478.0 1366.9 474.8 1368.1 472.7 C1369.1 470.9 1370.1 467.1 1371.0 464.7 C1371.9 462.6 1372.8 458.6 1373.7 456.0 C1374.5 453.6 1375.3 449.0 1376.1 445.9 C1376.8 443.1 1377.5 437.4 1378.2 433.9 C1378.9 430.6 1379.6 423.7 1380.2 420.5 C1380.7 418.0 1381.2 413.0 1381.8 412.4 C1382.2 411.9 1382.7 414.3 1383.2 416.5 C1383.7 418.9 1384.3 426.2 1384.8 429.9 C1385.3 433.3 1385.8 439.8 1386.3 443.3 C1386.9 447.6 1387.6 455.7 1388.2 459.3 C1388.9 463.5 1389.6 469.7 1390.3 472.7 C1391.1 476.0 1391.9 480.6 1392.7 482.8 C1393.7 485.6 1394.8 489.7 1395.8 491.5 C1397.1 493.7 1398.4 496.4 1399.7 497.5 C1401.0 498.7 1402.2 499.7 1403.5 500.2 C1405.5 501.0 1407.6 502.1 1409.6 502.6 C1411.7 503.1 1413.8 503.7 1415.9 503.9 C1418.9 504.2 1421.9 504.6 1424.9 504.7 C1435.8 504.9 1446.6 504.8 1457.4 504.9" fill="none" stroke="#f0404e" stroke-width="1.3" stroke-linejoin="round" stroke-dasharray="1.6 1.3"/>
<path d="M1349.6 488.1 C1351.3 487.8 1353.1 487.2 1354.8 486.8 C1356.2 486.5 1357.7 486.0 1359.1 485.5 C1360.5 484.9 1361.9 483.9 1363.4 482.8 C1364.6 481.9 1365.8 479.9 1367.0 478.1 C1368.0 476.5 1369.1 472.7 1370.1 470.1 C1370.7 468.5 1371.3 464.1 1372.0 462.0 C1372.5 460.1 1373.1 456.9 1373.7 455.3 C1374.2 453.9 1374.8 451.7 1375.3 450.6 C1375.8 449.6 1376.3 448.1 1376.8 447.3 C1377.2 446.7 1377.5 444.7 1377.9 445.3 C1378.2 445.8 1378.6 450.0 1378.9 451.3 C1379.4 453.0 1379.8 455.8 1380.2 456.7 C1380.8 457.9 1381.4 458.9 1382.1 459.3 C1382.8 459.9 1383.5 460.1 1384.3 460.7 C1385.0 461.2 1385.6 462.6 1386.3 463.4 C1387.2 464.4 1388.2 466.5 1389.1 467.4 C1389.9 468.1 1390.7 469.2 1391.5 469.4 C1392.3 469.6 1393.0 469.9 1393.8 468.7 C1394.5 467.6 1395.1 462.7 1395.8 460.7 C1396.3 459.1 1396.9 455.3 1397.4 455.3 C1397.9 455.3 1398.4 459.3 1398.9 460.7 C1399.4 462.2 1400.0 464.8 1400.5 466.0 C1401.1 467.3 1401.7 469.1 1402.3 470.1 C1403.1 471.4 1403.9 473.4 1404.6 474.8 C1405.7 476.5 1406.7 479.7 1407.8 481.4 C1409.0 483.5 1410.2 487.0 1411.4 488.8 C1412.7 490.8 1413.9 494.0 1415.2 495.5 C1416.3 496.8 1417.4 498.7 1418.5 499.5 C1419.7 500.5 1420.8 501.7 1422.0 502.2 C1423.6 502.9 1425.2 503.7 1426.8 503.9 C1429.8 504.3 1432.9 504.7 1436.0 504.8 C1443.1 504.9 1450.3 504.9 1457.4 504.9" fill="none" stroke="#3d4c9f" stroke-width="1.6" stroke-linejoin="round"/>
<path d="M1349.6 404.4v-3.2" stroke="#222" stroke-width="1.2"/>
<path d="M1349.6 504.9v3.2" stroke="#222" stroke-width="1.2"/>
<text x="1349.6" y="521.5" font-size="12" fill="#3c3c3c" text-anchor="middle" font-family='"Liberation Sans", sans-serif' stroke="#3c3c3c" stroke-width="0.6" filter="url(#soft2)">0.1</text>
<path d="M1403.5 404.4v-3.2" stroke="#222" stroke-width="1.2"/>
<path d="M1403.5 504.9v3.2" stroke="#222" stroke-width="1.2"/>
<text x="1403.5" y="521.5" font-size="12" fill="#3c3c3c" text-anchor="middle" font-family='"Liberation Sans", sans-serif' stroke="#3c3c3c" stroke-width="0.6" filter="url(#soft2)">1</text>
<path d="M1457.4 404.4v-3.2" stroke="#222" stroke-width="1.2"/>
<path d="M1457.4 504.9v3.2" stroke="#222" stroke-width="1.2"/>
<text x="1457.4" y="521.5" font-size="12" fill="#3c3c3c" text-anchor="middle" font-family='"Liberation Sans", sans-serif' stroke="#3c3c3c" stroke-width="0.6" filter="url(#soft2)">10</text>
<path d="M1365.8 404.4v-2.2" stroke="#222" stroke-width="1.2"/>
<path d="M1365.8 504.9v2.2" stroke="#222" stroke-width="1.2"/>
<path d="M1375.3 404.4v-2.2" stroke="#222" stroke-width="1.2"/>
<path d="M1375.3 504.9v2.2" stroke="#222" stroke-width="1.2"/>
<path d="M1382.1 404.4v-2.2" stroke="#222" stroke-width="1.2"/>
<path d="M1382.1 504.9v2.2" stroke="#222" stroke-width="1.2"/>
<path d="M1387.3 404.4v-2.2" stroke="#222" stroke-width="1.2"/>
<path d="M1387.3 504.9v2.2" stroke="#222" stroke-width="1.2"/>
<path d="M1391.5 404.4v-2.2" stroke="#222" stroke-width="1.2"/>
<path d="M1391.5 504.9v2.2" stroke="#222" stroke-width="1.2"/>
<path d="M1395.2 404.4v-2.2" stroke="#222" stroke-width="1.2"/>
<path d="M1395.2 504.9v2.2" stroke="#222" stroke-width="1.2"/>
<path d="M1398.3 404.4v-2.2" stroke="#222" stroke-width="1.2"/>
<path d="M1398.3 504.9v2.2" stroke="#222" stroke-width="1.2"/>
<path d="M1401.0 404.4v-2.2" stroke="#222" stroke-width="1.2"/>
<path d="M1401.0 504.9v2.2" stroke="#222" stroke-width="1.2"/>
<path d="M1419.7 404.4v-2.2" stroke="#222" stroke-width="1.2"/>
<path d="M1419.7 504.9v2.2" stroke="#222" stroke-width="1.2"/>
<path d="M1429.2 404.4v-2.2" stroke="#222" stroke-width="1.2"/>
<path d="M1429.2 504.9v2.2" stroke="#222" stroke-width="1.2"/>
<path d="M1436.0 404.4v-2.2" stroke="#222" stroke-width="1.2"/>
<path d="M1436.0 504.9v2.2" stroke="#222" stroke-width="1.2"/>
<path d="M1441.2 404.4v-2.2" stroke="#222" stroke-width="1.2"/>
<path d="M1441.2 504.9v2.2" stroke="#222" stroke-width="1.2"/>
<path d="M1445.4 404.4v-2.2" stroke="#222" stroke-width="1.2"/>
<path d="M1445.4 504.9v2.2" stroke="#222" stroke-width="1.2"/>
<path d="M1449.1 404.4v-2.2" stroke="#222" stroke-width="1.2"/>
<path d="M1449.1 504.9v2.2" stroke="#222" stroke-width="1.2"/>
<path d="M1452.2 404.4v-2.2" stroke="#222" stroke-width="1.2"/>
<path d="M1452.2 504.9v2.2" stroke="#222" stroke-width="1.2"/>
<path d="M1454.9 404.4v-2.2" stroke="#222" stroke-width="1.2"/>
<path d="M1454.9 504.9v2.2" stroke="#222" stroke-width="1.2"/>
<path d="M1349.6 404.4h-3.2" stroke="#222" stroke-width="1.2"/>
<path d="M1457.4 404.4h3.2" stroke="#222" stroke-width="1.2"/>
<text x="1344.0" y="408.8" font-size="12.8" fill="#3c3c3c" text-anchor="end" font-family='"Liberation Sans", sans-serif' stroke="#3c3c3c" stroke-width="0.6" filter="url(#soft2)">150</text>
<path d="M1349.6 437.9h-3.2" stroke="#222" stroke-width="1.2"/>
<path d="M1457.4 437.9h3.2" stroke="#222" stroke-width="1.2"/>
<text x="1344.0" y="442.3" font-size="12.8" fill="#3c3c3c" text-anchor="end" font-family='"Liberation Sans", sans-serif' stroke="#3c3c3c" stroke-width="0.6" filter="url(#soft2)">100</text>
<path d="M1349.6 471.4h-3.2" stroke="#222" stroke-width="1.2"/>
<path d="M1457.4 471.4h3.2" stroke="#222" stroke-width="1.2"/>
<text x="1344.0" y="475.8" font-size="12.8" fill="#3c3c3c" text-anchor="end" font-family='"Liberation Sans", sans-serif' stroke="#3c3c3c" stroke-width="0.6" filter="url(#soft2)">50</text>
<path d="M1349.6 504.9h-3.2" stroke="#222" stroke-width="1.2"/>
<path d="M1457.4 504.9h3.2" stroke="#222" stroke-width="1.2"/>
<text x="1344.0" y="509.3" font-size="12.8" fill="#3c3c3c" text-anchor="end" font-family='"Liberation Sans", sans-serif' stroke="#3c3c3c" stroke-width="0.6" filter="url(#soft2)">0</text>
<rect x="1105" y="480.5" width="42" height="18" fill="#fff"/><text x="1106.5" y="494.3" font-size="14" fill="#222" text-anchor="start" font-family='"Liberation Sans", sans-serif' textLength="39.0" lengthAdjust="spacingAndGlyphs" filter="url(#tsh2)">t[sec]</text>
<rect x="1265.5" y="415.5" width="33" height="17.5" fill="#fff"/><text x="1267.0" y="428.8" font-size="14" fill="#222" text-anchor="start" font-family='"Liberation Sans", sans-serif' textLength="30.5" lengthAdjust="spacingAndGlyphs" filter="url(#tsh2)">f[Hz]</text>
<rect x="1408.5" y="472" width="45" height="18" fill="#fff"/><text x="1410.0" y="485.8" font-size="14" fill="#222" text-anchor="start" font-family='"Liberation Sans", sans-serif' textLength="42.5" lengthAdjust="spacingAndGlyphs" filter="url(#tsh2)">T[sec]</text>
<polygon points="1275.7,228.5 1282.1000000000001,228.5 1282.1000000000001,299.8 1288.3000000000002,299.8 1278.9,315.7 1269.5,299.8 1275.7,299.8" fill="#f03219"/>
<polygon points="1371.3999999999999,216.5 1377.8,216.5 1377.8,286.2 1384.0,286.2 1374.6,304 1365.1999999999998,286.2 1371.3999999999999,286.2" fill="#f03219"/>
<polygon points="1257.3,357.5 1263.7,357.5 1263.7,428.2 1269.9,428.2 1260.5,445.6 1251.1,428.2 1257.3,428.2" fill="#f03219"/>
<polygon points="1378.7,323.6 1385.1000000000001,323.6 1385.1000000000001,393.3 1391.3000000000002,393.3 1381.9,410.8 1372.5,393.3 1378.7,393.3" fill="#f03219"/>
</g>
<rect x="149" y="902" width="391" height="108" fill="#fff" stroke="#3a3a3a" stroke-width="1.3"/>
<rect x="207.65" y="1008.46" width="19.55" height="1.54" fill="#3a2d7e" stroke="#1a1a1a" stroke-width="1.1"/>
<rect x="227.20" y="1008.46" width="19.55" height="1.54" fill="#6a2b82" stroke="#1a1a1a" stroke-width="1.1"/>
<rect x="285.85" y="1006.92" width="19.55" height="3.08" fill="#f3122c" stroke="#1a1a1a" stroke-width="1.1"/>
<rect x="305.40" y="1002.30" width="19.55" height="7.70" fill="#f2302f" stroke="#1a1a1a" stroke-width="1.1"/>
<rect x="324.95" y="996.14" width="19.55" height="13.86" fill="#f4522f" stroke="#1a1a1a" stroke-width="1.1"/>
<rect x="344.50" y="994.60" width="19.55" height="15.40" fill="#f87a32" stroke="#1a1a1a" stroke-width="1.1"/>
<rect x="364.05" y="991.52" width="19.55" height="18.48" fill="#fb9a3a" stroke="#1a1a1a" stroke-width="1.1"/>
<rect x="383.60" y="965.34" width="19.55" height="44.66" fill="#fdb242" stroke="#1a1a1a" stroke-width="1.1"/>
<rect x="403.15" y="951.48" width="19.55" height="58.52" fill="#fdcc4a" stroke="#1a1a1a" stroke-width="1.1"/>
<rect x="422.70" y="908.36" width="19.55" height="101.64" fill="#fbe54e" stroke="#1a1a1a" stroke-width="1.1"/>
<rect x="442.25" y="919.14" width="19.55" height="90.86" fill="#ece85c" stroke="#1a1a1a" stroke-width="1.1"/>
<rect x="461.80" y="917.60" width="19.55" height="92.40" fill="#d2e2a0" stroke="#1a1a1a" stroke-width="1.1"/>
<rect x="481.35" y="953.02" width="19.55" height="56.98" fill="#c9e5c6" stroke="#1a1a1a" stroke-width="1.1"/>
<rect x="500.90" y="997.68" width="19.55" height="12.32" fill="#dceff9" stroke="#1a1a1a" stroke-width="1.1"/>
<path d="M144.5 904V1010" stroke="#3a3a3a" stroke-width="1.2" fill="none"/>
<path d="M140.0 1010.0H144.5" stroke="#3a3a3a" stroke-width="1.1"/>
<text x="138.0" y="1013.9" font-size="11.2" fill="#3a3a3a" text-anchor="end" font-family='"Liberation Sans", sans-serif' stroke="#3a3a3a" stroke-width="0.5" filter="url(#soft2)">0</text>
<path d="M142.0 994.6H144.5" stroke="#3a3a3a" stroke-width="1.1"/>
<path d="M140.0 979.2H144.5" stroke="#3a3a3a" stroke-width="1.1"/>
<text x="138.0" y="983.1" font-size="11.2" fill="#3a3a3a" text-anchor="end" font-family='"Liberation Sans", sans-serif' stroke="#3a3a3a" stroke-width="0.5" filter="url(#soft2)">20</text>
<path d="M142.0 963.8H144.5" stroke="#3a3a3a" stroke-width="1.1"/>
<path d="M140.0 948.4H144.5" stroke="#3a3a3a" stroke-width="1.1"/>
<text x="138.0" y="952.3" font-size="11.2" fill="#3a3a3a" text-anchor="end" font-family='"Liberation Sans", sans-serif' stroke="#3a3a3a" stroke-width="0.5" filter="url(#soft2)">40</text>
<path d="M142.0 933.0H144.5" stroke="#3a3a3a" stroke-width="1.1"/>
<path d="M140.0 917.6H144.5" stroke="#3a3a3a" stroke-width="1.1"/>
<text x="138.0" y="921.5" font-size="11.2" fill="#3a3a3a" text-anchor="end" font-family='"Liberation Sans", sans-serif' stroke="#3a3a3a" stroke-width="0.5" filter="url(#soft2)">60</text>
<path d="M144.5 1010H149" stroke="#3a3a3a" stroke-width="1.1"/>
<text transform="translate(113.0,957.0) rotate(-90)" font-size="11.2" fill="#3a3a3a" stroke="#3a3a3a" stroke-width="0.45" filter="url(#soft2)" text-anchor="middle" font-family='"Liberation Sans", sans-serif'>Count</text>
<text x="168.0" y="946.0" font-size="32" fill="#111" text-anchor="start" font-family='"Liberation Sans", sans-serif' textLength="158.0" lengthAdjust="spacingAndGlyphs" filter="url(#tsh)">0.1-0.25 Hz</text>
<rect x="591.5" y="903" width="390.5" height="106.5" fill="#fff" stroke="#3a3a3a" stroke-width="1.3"/>
<rect x="630.55" y="1003.33" width="19.52" height="6.17" fill="#272c72" stroke="#1a1a1a" stroke-width="1.1"/>
<rect x="650.08" y="1001.79" width="19.52" height="7.71" fill="#3a2d7e" stroke="#1a1a1a" stroke-width="1.1"/>
<rect x="669.60" y="983.29" width="19.52" height="26.21" fill="#6a2b82" stroke="#1a1a1a" stroke-width="1.1"/>
<rect x="689.12" y="967.88" width="19.52" height="41.62" fill="#991b5e" stroke="#1a1a1a" stroke-width="1.1"/>
<rect x="708.65" y="963.25" width="19.52" height="46.25" fill="#c21a3a" stroke="#1a1a1a" stroke-width="1.1"/>
<rect x="728.17" y="950.92" width="19.52" height="58.58" fill="#f3122c" stroke="#1a1a1a" stroke-width="1.1"/>
<rect x="747.70" y="941.67" width="19.52" height="67.83" fill="#f2302f" stroke="#1a1a1a" stroke-width="1.1"/>
<rect x="767.23" y="969.42" width="19.52" height="40.08" fill="#f4522f" stroke="#1a1a1a" stroke-width="1.1"/>
<rect x="786.75" y="970.96" width="19.52" height="38.54" fill="#f87a32" stroke="#1a1a1a" stroke-width="1.1"/>
<rect x="806.27" y="949.38" width="19.52" height="60.12" fill="#fb9a3a" stroke="#1a1a1a" stroke-width="1.1"/>
<rect x="825.80" y="961.71" width="19.52" height="47.79" fill="#fdb242" stroke="#1a1a1a" stroke-width="1.1"/>
<rect x="845.33" y="974.04" width="19.52" height="35.46" fill="#fdcc4a" stroke="#1a1a1a" stroke-width="1.1"/>
<rect x="864.85" y="997.17" width="19.52" height="12.33" fill="#fbe54e" stroke="#1a1a1a" stroke-width="1.1"/>
<rect x="884.38" y="992.54" width="19.52" height="16.96" fill="#ece85c" stroke="#1a1a1a" stroke-width="1.1"/>
<rect x="903.90" y="1006.42" width="19.52" height="3.08" fill="#d2e2a0" stroke="#1a1a1a" stroke-width="1.1"/>
<path d="M587.0 905V1009.5" stroke="#3a3a3a" stroke-width="1.2" fill="none"/>
<path d="M582.5 1009.5H587.0" stroke="#3a3a3a" stroke-width="1.1"/>
<text x="580.5" y="1013.4" font-size="11.2" fill="#3a3a3a" text-anchor="end" font-family='"Liberation Sans", sans-serif' stroke="#3a3a3a" stroke-width="0.5" filter="url(#soft2)">0</text>
<path d="M584.5 994.1H587.0" stroke="#3a3a3a" stroke-width="1.1"/>
<path d="M582.5 978.7H587.0" stroke="#3a3a3a" stroke-width="1.1"/>
<text x="580.5" y="982.6" font-size="11.2" fill="#3a3a3a" text-anchor="end" font-family='"Liberation Sans", sans-serif' stroke="#3a3a3a" stroke-width="0.5" filter="url(#soft2)">20</text>
<path d="M584.5 963.2H587.0" stroke="#3a3a3a" stroke-width="1.1"/>
<path d="M582.5 947.8H587.0" stroke="#3a3a3a" stroke-width="1.1"/>
<text x="580.5" y="951.7" font-size="11.2" fill="#3a3a3a" text-anchor="end" font-family='"Liberation Sans", sans-serif' stroke="#3a3a3a" stroke-width="0.5" filter="url(#soft2)">40</text>
<path d="M584.5 932.4H587.0" stroke="#3a3a3a" stroke-width="1.1"/>
<path d="M582.5 917.0H587.0" stroke="#3a3a3a" stroke-width="1.1"/>
<text x="580.5" y="920.9" font-size="11.2" fill="#3a3a3a" text-anchor="end" font-family='"Liberation Sans", sans-serif' stroke="#3a3a3a" stroke-width="0.5" filter="url(#soft2)">60</text>
<path d="M587.0 1009.5H591.5" stroke="#3a3a3a" stroke-width="1.1"/>
<text transform="translate(555.5,957.2) rotate(-90)" font-size="11.2" fill="#3a3a3a" stroke="#3a3a3a" stroke-width="0.45" filter="url(#soft2)" text-anchor="middle" font-family='"Liberation Sans", sans-serif'>Count</text>
<text x="614.0" y="943.5" font-size="32" fill="#111" text-anchor="start" font-family='"Liberation Sans", sans-serif' textLength="84.0" lengthAdjust="spacingAndGlyphs" filter="url(#tsh)">1-2 Hz</text>
<rect x="1037" y="903.5" width="390.5" height="106.5" fill="#fff" stroke="#3a3a3a" stroke-width="1.3"/>
<rect x="1056.53" y="1006.93" width="19.52" height="3.07" fill="#13133f" stroke="#1a1a1a" stroke-width="1.1"/>
<rect x="1076.05" y="994.67" width="19.52" height="15.33" fill="#272c72" stroke="#1a1a1a" stroke-width="1.1"/>
<rect x="1095.58" y="950.20" width="19.52" height="59.80" fill="#3a2d7e" stroke="#1a1a1a" stroke-width="1.1"/>
<rect x="1115.10" y="922.60" width="19.52" height="87.40" fill="#6a2b82" stroke="#1a1a1a" stroke-width="1.1"/>
<rect x="1134.62" y="965.53" width="19.52" height="44.47" fill="#991b5e" stroke="#1a1a1a" stroke-width="1.1"/>
<rect x="1154.15" y="976.27" width="19.52" height="33.73" fill="#c21a3a" stroke="#1a1a1a" stroke-width="1.1"/>
<rect x="1173.67" y="951.73" width="19.52" height="58.27" fill="#f3122c" stroke="#1a1a1a" stroke-width="1.1"/>
<rect x="1193.20" y="965.53" width="19.52" height="44.47" fill="#f2302f" stroke="#1a1a1a" stroke-width="1.1"/>
<rect x="1212.72" y="967.07" width="19.52" height="42.93" fill="#f4522f" stroke="#1a1a1a" stroke-width="1.1"/>
<rect x="1232.25" y="988.53" width="19.52" height="21.47" fill="#f87a32" stroke="#1a1a1a" stroke-width="1.1"/>
<rect x="1251.78" y="967.07" width="19.52" height="42.93" fill="#fb9a3a" stroke="#1a1a1a" stroke-width="1.1"/>
<rect x="1271.30" y="987.00" width="19.52" height="23.00" fill="#fdb242" stroke="#1a1a1a" stroke-width="1.1"/>
<rect x="1290.83" y="996.20" width="19.52" height="13.80" fill="#fdcc4a" stroke="#1a1a1a" stroke-width="1.1"/>
<rect x="1310.35" y="994.67" width="19.52" height="15.33" fill="#fbe54e" stroke="#1a1a1a" stroke-width="1.1"/>
<rect x="1329.88" y="1008.47" width="19.52" height="1.53" fill="#ece85c" stroke="#1a1a1a" stroke-width="1.1"/>
<rect x="1368.92" y="1008.47" width="19.52" height="1.53" fill="#c9e5c6" stroke="#1a1a1a" stroke-width="1.1"/>
<path d="M1032.5 905.5V1010" stroke="#3a3a3a" stroke-width="1.2" fill="none"/>
<path d="M1028.0 1010.0H1032.5" stroke="#3a3a3a" stroke-width="1.1"/>
<text x="1026.0" y="1013.9" font-size="11.2" fill="#3a3a3a" text-anchor="end" font-family='"Liberation Sans", sans-serif' stroke="#3a3a3a" stroke-width="0.5" filter="url(#soft2)">0</text>
<path d="M1030.0 994.7H1032.5" stroke="#3a3a3a" stroke-width="1.1"/>
<path d="M1028.0 979.3H1032.5" stroke="#3a3a3a" stroke-width="1.1"/>
<text x="1026.0" y="983.2" font-size="11.2" fill="#3a3a3a" text-anchor="end" font-family='"Liberation Sans", sans-serif' stroke="#3a3a3a" stroke-width="0.5" filter="url(#soft2)">20</text>
<path d="M1030.0 964.0H1032.5" stroke="#3a3a3a" stroke-width="1.1"/>
<path d="M1028.0 948.7H1032.5" stroke="#3a3a3a" stroke-width="1.1"/>
<text x="1026.0" y="952.6" font-size="11.2" fill="#3a3a3a" text-anchor="end" font-family='"Liberation Sans", sans-serif' stroke="#3a3a3a" stroke-width="0.5" filter="url(#soft2)">40</text>
<path d="M1030.0 933.3H1032.5" stroke="#3a3a3a" stroke-width="1.1"/>
<path d="M1028.0 918.0H1032.5" stroke="#3a3a3a" stroke-width="1.1"/>
<text x="1026.0" y="921.9" font-size="11.2" fill="#3a3a3a" text-anchor="end" font-family='"Liberation Sans", sans-serif' stroke="#3a3a3a" stroke-width="0.5" filter="url(#soft2)">60</text>
<path d="M1032.5 1010H1037" stroke="#3a3a3a" stroke-width="1.1"/>
<text transform="translate(1001.0,957.8) rotate(-90)" font-size="11.2" fill="#3a3a3a" stroke="#3a3a3a" stroke-width="0.45" filter="url(#soft2)" text-anchor="middle" font-family='"Liberation Sans", sans-serif'>Count</text>
<text x="1323.0" y="947.0" font-size="32" fill="#111" text-anchor="start" font-family='"Liberation Sans", sans-serif' textLength="87.5" lengthAdjust="spacingAndGlyphs" filter="url(#tsh)">2-4 Hz</text>
<clipPath id="cbc1"><rect x="129" y="1020.5" width="414.5" height="80"/></clipPath>
<g clip-path="url(#cbc1)"><rect x="149.00" y="1025.5" width="19.55" height="17.5" fill="#080808" stroke="#222" stroke-width="1"/>
<rect x="168.55" y="1025.5" width="19.55" height="17.5" fill="#13133f" stroke="#222" stroke-width="1"/>
<rect x="188.10" y="1025.5" width="19.55" height="17.5" fill="#272c72" stroke="#222" stroke-width="1"/>
<rect x="207.65" y="1025.5" width="19.55" height="17.5" fill="#3a2d7e" stroke="#222" stroke-width="1"/>
<rect x="227.20" y="1025.5" width="19.55" height="17.5" fill="#6a2b82" stroke="#222" stroke-width="1"/>
<rect x="246.75" y="1025.5" width="19.55" height="17.5" fill="#991b5e" stroke="#222" stroke-width="1"/>
<rect x="266.30" y="1025.5" width="19.55" height="17.5" fill="#c21a3a" stroke="#222" stroke-width="1"/>
<rect x="285.85" y="1025.5" width="19.55" height="17.5" fill="#f3122c" stroke="#222" stroke-width="1"/>
<rect x="305.40" y="1025.5" width="19.55" height="17.5" fill="#f2302f" stroke="#222" stroke-width="1"/>
<rect x="324.95" y="1025.5" width="19.55" height="17.5" fill="#f4522f" stroke="#222" stroke-width="1"/>
<rect x="344.50" y="1025.5" width="19.55" height="17.5" fill="#f87a32" stroke="#222" stroke-width="1"/>
<rect x="364.05" y="1025.5" width="19.55" height="17.5" fill="#fb9a3a" stroke="#222" stroke-width="1"/>
<rect x="383.60" y="1025.5" width="19.55" height="17.5" fill="#fdb242" stroke="#222" stroke-width="1"/>
<rect x="403.15" y="1025.5" width="19.55" height="17.5" fill="#fdcc4a" stroke="#222" stroke-width="1"/>
<rect x="422.70" y="1025.5" width="19.55" height="17.5" fill="#fbe54e" stroke="#222" stroke-width="1"/>
<rect x="442.25" y="1025.5" width="19.55" height="17.5" fill="#ece85c" stroke="#222" stroke-width="1"/>
<rect x="461.80" y="1025.5" width="19.55" height="17.5" fill="#d2e2a0" stroke="#222" stroke-width="1"/>
<rect x="481.35" y="1025.5" width="19.55" height="17.5" fill="#c9e5c6" stroke="#222" stroke-width="1"/>
<rect x="500.90" y="1025.5" width="19.55" height="17.5" fill="#dceff9" stroke="#222" stroke-width="1"/>
<rect x="520.45" y="1025.5" width="19.55" height="17.5" fill="#ffffff" stroke="#222" stroke-width="1"/>
<rect x="149" y="1025.5" width="391" height="17.5" fill="none" stroke="#222" stroke-width="1.4"/>
<path d="M149.0 1043v8" stroke="#222" stroke-width="1.3"/>
<text x="149.0" y="1064.6" font-size="11.2" fill="#3a3a3a" text-anchor="middle" font-family='"Liberation Sans", sans-serif' stroke="#3a3a3a" stroke-width="0.5" filter="url(#soft2)">0</text>
<path d="M188.1 1043v8" stroke="#222" stroke-width="1.3"/>
<text x="188.1" y="1064.6" font-size="11.2" fill="#3a3a3a" text-anchor="middle" font-family='"Liberation Sans", sans-serif' stroke="#3a3a3a" stroke-width="0.5" filter="url(#soft2)">1</text>
<path d="M227.2 1043v8" stroke="#222" stroke-width="1.3"/>
<text x="227.2" y="1064.6" font-size="11.2" fill="#3a3a3a" text-anchor="middle" font-family='"Liberation Sans", sans-serif' stroke="#3a3a3a" stroke-width="0.5" filter="url(#soft2)">2</text>
<path d="M266.3 1043v8" stroke="#222" stroke-width="1.3"/>
<text x="266.3" y="1064.6" font-size="11.2" fill="#3a3a3a" text-anchor="middle" font-family='"Liberation Sans", sans-serif' stroke="#3a3a3a" stroke-width="0.5" filter="url(#soft2)">3</text>
<path d="M305.4 1043v8" stroke="#222" stroke-width="1.3"/>
<text x="305.4" y="1064.6" font-size="11.2" fill="#3a3a3a" text-anchor="middle" font-family='"Liberation Sans", sans-serif' stroke="#3a3a3a" stroke-width="0.5" filter="url(#soft2)">4</text>
<path d="M344.5 1043v8" stroke="#222" stroke-width="1.3"/>
<text x="344.5" y="1064.6" font-size="11.2" fill="#3a3a3a" text-anchor="middle" font-family='"Liberation Sans", sans-serif' stroke="#3a3a3a" stroke-width="0.5" filter="url(#soft2)">5</text>
<path d="M383.6 1043v8" stroke="#222" stroke-width="1.3"/>
<text x="383.6" y="1064.6" font-size="11.2" fill="#3a3a3a" text-anchor="middle" font-family='"Liberation Sans", sans-serif' stroke="#3a3a3a" stroke-width="0.5" filter="url(#soft2)">6</text>
<path d="M422.7 1043v8" stroke="#222" stroke-width="1.3"/>
<text x="422.7" y="1064.6" font-size="11.2" fill="#3a3a3a" text-anchor="middle" font-family='"Liberation Sans", sans-serif' stroke="#3a3a3a" stroke-width="0.5" filter="url(#soft2)">7</text>
<path d="M461.8 1043v8" stroke="#222" stroke-width="1.3"/>
<text x="461.8" y="1064.6" font-size="11.2" fill="#3a3a3a" text-anchor="middle" font-family='"Liberation Sans", sans-serif' stroke="#3a3a3a" stroke-width="0.5" filter="url(#soft2)">8</text>
<path d="M500.9 1043v8" stroke="#222" stroke-width="1.3"/>
<text x="500.9" y="1064.6" font-size="11.2" fill="#3a3a3a" text-anchor="middle" font-family='"Liberation Sans", sans-serif' stroke="#3a3a3a" stroke-width="0.5" filter="url(#soft2)">9</text>
<path d="M540.0 1043v8" stroke="#222" stroke-width="1.3"/>
<text x="540.0" y="1064.6" font-size="11.2" fill="#3a3a3a" text-anchor="middle" font-family='"Liberation Sans", sans-serif' stroke="#3a3a3a" stroke-width="0.5" filter="url(#soft2)">10</text></g>
<text x="344.5" y="1085.0" font-size="11.2" fill="#3a3a3a" text-anchor="middle" font-family='"Liberation Sans", sans-serif' stroke="#3a3a3a" stroke-width="0.45" filter="url(#soft2)">Score</text>
<clipPath id="cbc2"><rect x="571.5" y="1019.5" width="414.0" height="80"/></clipPath>
<g clip-path="url(#cbc2)"><rect x="591.50" y="1024.5" width="19.52" height="18.0" fill="#080808" stroke="#222" stroke-width="1"/>
<rect x="611.02" y="1024.5" width="19.52" height="18.0" fill="#13133f" stroke="#222" stroke-width="1"/>
<rect x="630.55" y="1024.5" width="19.52" height="18.0" fill="#272c72" stroke="#222" stroke-width="1"/>
<rect x="650.08" y="1024.5" width="19.52" height="18.0" fill="#3a2d7e" stroke="#222" stroke-width="1"/>
<rect x="669.60" y="1024.5" width="19.52" height="18.0" fill="#6a2b82" stroke="#222" stroke-width="1"/>
<rect x="689.12" y="1024.5" width="19.52" height="18.0" fill="#991b5e" stroke="#222" stroke-width="1"/>
<rect x="708.65" y="1024.5" width="19.52" height="18.0" fill="#c21a3a" stroke="#222" stroke-width="1"/>
<rect x="728.17" y="1024.5" width="19.52" height="18.0" fill="#f3122c" stroke="#222" stroke-width="1"/>
<rect x="747.70" y="1024.5" width="19.52" height="18.0" fill="#f2302f" stroke="#222" stroke-width="1"/>
<rect x="767.23" y="1024.5" width="19.52" height="18.0" fill="#f4522f" stroke="#222" stroke-width="1"/>
<rect x="786.75" y="1024.5" width="19.52" height="18.0" fill="#f87a32" stroke="#222" stroke-width="1"/>
<rect x="806.27" y="1024.5" width="19.52" height="18.0" fill="#fb9a3a" stroke="#222" stroke-width="1"/>
<rect x="825.80" y="1024.5" width="19.52" height="18.0" fill="#fdb242" stroke="#222" stroke-width="1"/>
<rect x="845.33" y="1024.5" width="19.52" height="18.0" fill="#fdcc4a" stroke="#222" stroke-width="1"/>
<rect x="864.85" y="1024.5" width="19.52" height="18.0" fill="#fbe54e" stroke="#222" stroke-width="1"/>
<rect x="884.38" y="1024.5" width="19.52" height="18.0" fill="#ece85c" stroke="#222" stroke-width="1"/>
<rect x="903.90" y="1024.5" width="19.52" height="18.0" fill="#d2e2a0" stroke="#222" stroke-width="1"/>
<rect x="923.42" y="1024.5" width="19.52" height="18.0" fill="#c9e5c6" stroke="#222" stroke-width="1"/>
<rect x="942.95" y="1024.5" width="19.52" height="18.0" fill="#dceff9" stroke="#222" stroke-width="1"/>
<rect x="962.47" y="1024.5" width="19.52" height="18.0" fill="#ffffff" stroke="#222" stroke-width="1"/>
<rect x="591.5" y="1024.5" width="390.5" height="18.0" fill="none" stroke="#222" stroke-width="1.4"/>
<path d="M591.5 1042.5v8" stroke="#222" stroke-width="1.3"/>
<text x="591.5" y="1064.1" font-size="11.2" fill="#3a3a3a" text-anchor="middle" font-family='"Liberation Sans", sans-serif' stroke="#3a3a3a" stroke-width="0.5" filter="url(#soft2)">0</text>
<path d="M630.5 1042.5v8" stroke="#222" stroke-width="1.3"/>
<text x="630.5" y="1064.1" font-size="11.2" fill="#3a3a3a" text-anchor="middle" font-family='"Liberation Sans", sans-serif' stroke="#3a3a3a" stroke-width="0.5" filter="url(#soft2)">1</text>
<path d="M669.6 1042.5v8" stroke="#222" stroke-width="1.3"/>
<text x="669.6" y="1064.1" font-size="11.2" fill="#3a3a3a" text-anchor="middle" font-family='"Liberation Sans", sans-serif' stroke="#3a3a3a" stroke-width="0.5" filter="url(#soft2)">2</text>
<path d="M708.6 1042.5v8" stroke="#222" stroke-width="1.3"/>
<text x="708.6" y="1064.1" font-size="11.2" fill="#3a3a3a" text-anchor="middle" font-family='"Liberation Sans", sans-serif' stroke="#3a3a3a" stroke-width="0.5" filter="url(#soft2)">3</text>
<path d="M747.7 1042.5v8" stroke="#222" stroke-width="1.3"/>
<text x="747.7" y="1064.1" font-size="11.2" fill="#3a3a3a" text-anchor="middle" font-family='"Liberation Sans", sans-serif' stroke="#3a3a3a" stroke-width="0.5" filter="url(#soft2)">4</text>
<path d="M786.8 1042.5v8" stroke="#222" stroke-width="1.3"/>
<text x="786.8" y="1064.1" font-size="11.2" fill="#3a3a3a" text-anchor="middle" font-family='"Liberation Sans", sans-serif' stroke="#3a3a3a" stroke-width="0.5" filter="url(#soft2)">5</text>
<path d="M825.8 1042.5v8" stroke="#222" stroke-width="1.3"/>
<text x="825.8" y="1064.1" font-size="11.2" fill="#3a3a3a" text-anchor="middle" font-family='"Liberation Sans", sans-serif' stroke="#3a3a3a" stroke-width="0.5" filter="url(#soft2)">6</text>
<path d="M864.8 1042.5v8" stroke="#222" stroke-width="1.3"/>
<text x="864.8" y="1064.1" font-size="11.2" fill="#3a3a3a" text-anchor="middle" font-family='"Liberation Sans", sans-serif' stroke="#3a3a3a" stroke-width="0.5" filter="url(#soft2)">7</text>
<path d="M903.9 1042.5v8" stroke="#222" stroke-width="1.3"/>
<text x="903.9" y="1064.1" font-size="11.2" fill="#3a3a3a" text-anchor="middle" font-family='"Liberation Sans", sans-serif' stroke="#3a3a3a" stroke-width="0.5" filter="url(#soft2)">8</text>
<path d="M943.0 1042.5v8" stroke="#222" stroke-width="1.3"/>
<text x="943.0" y="1064.1" font-size="11.2" fill="#3a3a3a" text-anchor="middle" font-family='"Liberation Sans", sans-serif' stroke="#3a3a3a" stroke-width="0.5" filter="url(#soft2)">9</text>
<path d="M982.0 1042.5v8" stroke="#222" stroke-width="1.3"/>
<text x="982.0" y="1064.1" font-size="11.2" fill="#3a3a3a" text-anchor="middle" font-family='"Liberation Sans", sans-serif' stroke="#3a3a3a" stroke-width="0.5" filter="url(#soft2)">10</text></g>
<text x="786.8" y="1084.5" font-size="11.2" fill="#3a3a3a" text-anchor="middle" font-family='"Liberation Sans", sans-serif' stroke="#3a3a3a" stroke-width="0.45" filter="url(#soft2)">Score</text>
<rect x="1037.00" y="1025" width="19.52" height="17.5" fill="#080808" stroke="#222" stroke-width="1"/>
<rect x="1056.53" y="1025" width="19.52" height="17.5" fill="#13133f" stroke="#222" stroke-width="1"/>
<rect x="1076.05" y="1025" width="19.52" height="17.5" fill="#272c72" stroke="#222" stroke-width="1"/>
<rect x="1095.58" y="1025" width="19.52" height="17.5" fill="#3a2d7e" stroke="#222" stroke-width="1"/>
<rect x="1115.10" y="1025" width="19.52" height="17.5" fill="#6a2b82" stroke="#222" stroke-width="1"/>
<rect x="1134.62" y="1025" width="19.52" height="17.5" fill="#991b5e" stroke="#222" stroke-width="1"/>
<rect x="1154.15" y="1025" width="19.52" height="17.5" fill="#c21a3a" stroke="#222" stroke-width="1"/>
<rect x="1173.67" y="1025" width="19.52" height="17.5" fill="#f3122c" stroke="#222" stroke-width="1"/>
<rect x="1193.20" y="1025" width="19.52" height="17.5" fill="#f2302f" stroke="#222" stroke-width="1"/>
<rect x="1212.72" y="1025" width="19.52" height="17.5" fill="#f4522f" stroke="#222" stroke-width="1"/>
<rect x="1232.25" y="1025" width="19.52" height="17.5" fill="#f87a32" stroke="#222" stroke-width="1"/>
<rect x="1251.78" y="1025" width="19.52" height="17.5" fill="#fb9a3a" stroke="#222" stroke-width="1"/>
<rect x="1271.30" y="1025" width="19.52" height="17.5" fill="#fdb242" stroke="#222" stroke-width="1"/>
<rect x="1290.83" y="1025" width="19.52" height="17.5" fill="#fdcc4a" stroke="#222" stroke-width="1"/>
<rect x="1310.35" y="1025" width="19.52" height="17.5" fill="#fbe54e" stroke="#222" stroke-width="1"/>
<rect x="1329.88" y="1025" width="19.52" height="17.5" fill="#ece85c" stroke="#222" stroke-width="1"/>
<rect x="1349.40" y="1025" width="19.52" height="17.5" fill="#d2e2a0" stroke="#222" stroke-width="1"/>
<rect x="1368.92" y="1025" width="19.52" height="17.5" fill="#c9e5c6" stroke="#222" stroke-width="1"/>
<rect x="1388.45" y="1025" width="19.52" height="17.5" fill="#dceff9" stroke="#222" stroke-width="1"/>
<rect x="1407.97" y="1025" width="19.52" height="17.5" fill="#ffffff" stroke="#222" stroke-width="1"/>
<rect x="1037" y="1025" width="390.5" height="17.5" fill="none" stroke="#222" stroke-width="1.4"/>
<path d="M1037.0 1042.5v8" stroke="#222" stroke-width="1.3"/>
<text x="1037.0" y="1064.1" font-size="11.2" fill="#3a3a3a" text-anchor="middle" font-family='"Liberation Sans", sans-serif' stroke="#3a3a3a" stroke-width="0.5" filter="url(#soft2)">0</text>
<path d="M1076.0 1042.5v8" stroke="#222" stroke-width="1.3"/>
<text x="1076.0" y="1064.1" font-size="11.2" fill="#3a3a3a" text-anchor="middle" font-family='"Liberation Sans", sans-serif' stroke="#3a3a3a" stroke-width="0.5" filter="url(#soft2)">1</text>
<path d="M1115.1 1042.5v8" stroke="#222" stroke-width="1.3"/>
<text x="1115.1" y="1064.1" font-size="11.2" fill="#3a3a3a" text-anchor="middle" font-family='"Liberation Sans", sans-serif' stroke="#3a3a3a" stroke-width="0.5" filter="url(#soft2)">2</text>
<path d="M1154.2 1042.5v8" stroke="#222" stroke-width="1.3"/>
<text x="1154.2" y="1064.1" font-size="11.2" fill="#3a3a3a" text-anchor="middle" font-family='"Liberation Sans", sans-serif' stroke="#3a3a3a" stroke-width="0.5" filter="url(#soft2)">3</text>
<path d="M1193.2 1042.5v8" stroke="#222" stroke-width="1.3"/>
<text x="1193.2" y="1064.1" font-size="11.2" fill="#3a3a3a" text-anchor="middle" font-family='"Liberation Sans", sans-serif' stroke="#3a3a3a" stroke-width="0.5" filter="url(#soft2)">4</text>
<path d="M1232.2 1042.5v8" stroke="#222" stroke-width="1.3"/>
<text x="1232.2" y="1064.1" font-size="11.2" fill="#3a3a3a" text-anchor="middle" font-family='"Liberation Sans", sans-serif' stroke="#3a3a3a" stroke-width="0.5" filter="url(#soft2)">5</text>
<path d="M1271.3 1042.5v8" stroke="#222" stroke-width="1.3"/>
<text x="1271.3" y="1064.1" font-size="11.2" fill="#3a3a3a" text-anchor="middle" font-family='"Liberation Sans", sans-serif' stroke="#3a3a3a" stroke-width="0.5" filter="url(#soft2)">6</text>
<path d="M1310.3 1042.5v8" stroke="#222" stroke-width="1.3"/>
<text x="1310.3" y="1064.1" font-size="11.2" fill="#3a3a3a" text-anchor="middle" font-family='"Liberation Sans", sans-serif' stroke="#3a3a3a" stroke-width="0.5" filter="url(#soft2)">7</text>
<path d="M1349.4 1042.5v8" stroke="#222" stroke-width="1.3"/>
<text x="1349.4" y="1064.1" font-size="11.2" fill="#3a3a3a" text-anchor="middle" font-family='"Liberation Sans", sans-serif' stroke="#3a3a3a" stroke-width="0.5" filter="url(#soft2)">8</text>
<path d="M1388.5 1042.5v8" stroke="#222" stroke-width="1.3"/>
<text x="1388.5" y="1064.1" font-size="11.2" fill="#3a3a3a" text-anchor="middle" font-family='"Liberation Sans", sans-serif' stroke="#3a3a3a" stroke-width="0.5" filter="url(#soft2)">9</text>
<path d="M1427.5 1042.5v8" stroke="#222" stroke-width="1.3"/>
<text x="1427.5" y="1064.1" font-size="11.2" fill="#3a3a3a" text-anchor="middle" font-family='"Liberation Sans", sans-serif' stroke="#3a3a3a" stroke-width="0.5" filter="url(#soft2)">10</text>
<text x="1232.2" y="1084.5" font-size="11.2" fill="#3a3a3a" text-anchor="middle" font-family='"Liberation Sans", sans-serif' stroke="#3a3a3a" stroke-width="0.45" filter="url(#soft2)">Score</text>
</svg>
</body></html>
